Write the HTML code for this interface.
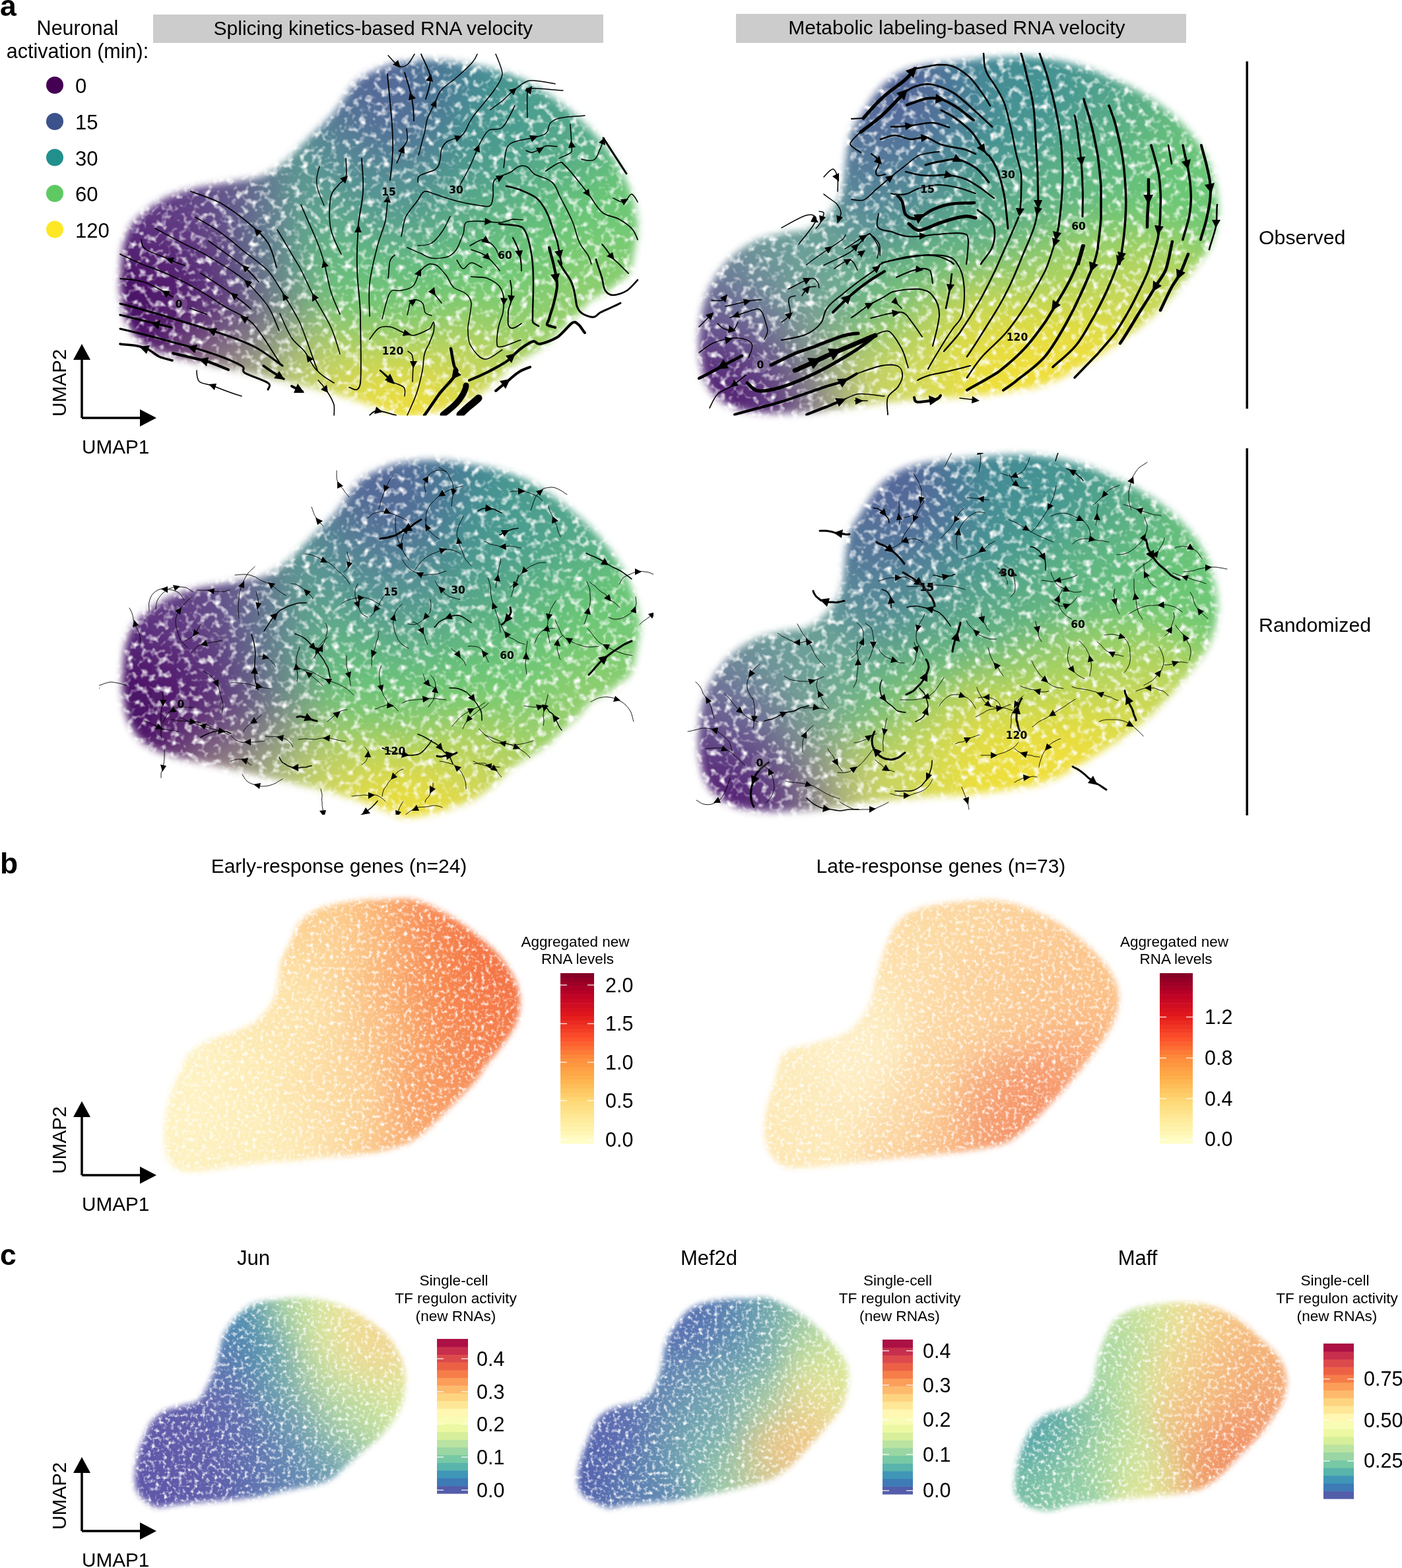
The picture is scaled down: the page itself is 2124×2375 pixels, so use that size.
<!DOCTYPE html>
<html><head><meta charset="utf-8"><style>
html,body{margin:0;padding:0;background:#fff;}
svg{display:block;}
.c22 rect{width:23px;height:23px}
.c20 rect{width:21px;height:21px}
.c16 rect{width:17px;height:17px}
</style></head><body>
<svg width="2124" height="2375" viewBox="0 0 2124 2375" font-family="Liberation Sans, Arial, Helvetica, sans-serif">
<defs><filter id="texA" x="0" y="0" width="100%" height="100%" color-interpolation-filters="sRGB"><feTurbulence type="fractalNoise" baseFrequency="0.09" numOctaves="2" seed="7"/><feColorMatrix type="matrix" values="0 0 0 0 1 0 0 0 0 1 0 0 0 0 1 3.0 0 0 0 -1.5"/><feComposite in2="SourceGraphic" operator="atop"/></filter><filter id="texB" x="0" y="0" width="100%" height="100%" color-interpolation-filters="sRGB"><feTurbulence type="fractalNoise" baseFrequency="0.17" numOctaves="2" seed="3"/><feColorMatrix type="matrix" values="0 0 0 0 1 0 0 0 0 1 0 0 0 0 1 2.8 0 0 0 -1.4"/><feComposite in2="SourceGraphic" operator="atop"/></filter><clipPath id="cA1"><rect x="150" y="80" width="840" height="549.5"/></clipPath><filter id="eA1" x="-10%" y="-10%" width="120%" height="120%"><feGaussianBlur stdDeviation="6"/></filter><mask id="mA1" maskUnits="userSpaceOnUse" x="121" y="29" width="907" height="665"><path d="M183,409C184,396 184,383 187,372C190,361 193,350 199,341C205,332 215,324 224,317C233,310 244,303 255,298C266,293 280,289 292,286C304,283 317,281 329,279C341,277 355,275 366,273C377,271 387,271 397,267C407,263 419,255 428,248C437,241 445,232 453,224C461,216 469,208 478,199C487,190 498,180 508,168C518,156 529,135 539,125C549,115 558,111 570,106C582,101 592,96 608,94C624,92 644,90 663,91C682,92 704,96 725,100C746,104 768,110 787,118C806,126 823,138 840,150C857,162 875,177 890,192C905,207 919,224 930,240C941,256 949,273 955,290C961,307 965,325 966,340C967,355 963,368 961,380C959,392 957,405 953,413C949,421 944,422 938,427C932,432 925,438 918,443C911,448 901,449 894,455C887,461 882,470 874,478C866,486 855,495 847,502C839,509 836,515 827,522C818,529 804,536 795,542C786,548 778,553 771,558C764,563 762,567 756,573C750,579 740,587 732,593C724,599 715,605 706,609C697,613 687,616 677,619C667,622 658,625 647,627C636,629 621,633 610,632C599,631 596,627 583,622C570,617 550,609 533,604C516,599 502,594 484,590C466,586 447,581 428,577C409,573 390,568 372,564C354,560 336,556 317,552C298,548 278,545 261,540C244,535 228,529 217,521C206,513 199,502 193,490C187,478 185,460 183,447C181,434 182,422 183,409Z" fill="#fff" filter="url(#eA1)"/></mask><filter id="fA1" x="-10%" y="-10%" width="120%" height="120%"><feGaussianBlur stdDeviation="11"/></filter><filter id="eA2" x="-10%" y="-10%" width="120%" height="120%"><feGaussianBlur stdDeviation="6"/></filter><mask id="mA2" maskUnits="userSpaceOnUse" x="997" y="25" width="910" height="662"><path d="M1059,526C1058,506 1061,482 1065,464C1069,446 1076,433 1083,421C1090,409 1098,399 1108,390C1118,381 1132,371 1145,365C1158,359 1176,356 1189,353C1202,350 1215,352 1226,347C1237,342 1249,331 1257,322C1265,313 1271,303 1275,291C1279,279 1279,262 1281,248C1283,234 1284,216 1288,204C1292,192 1299,184 1306,173C1313,162 1322,146 1331,136C1340,126 1351,117 1362,111C1373,105 1384,102 1399,99C1414,96 1430,95 1449,93C1468,91 1490,88 1511,87C1532,86 1552,85 1572,87C1592,89 1613,93 1634,99C1655,105 1676,115 1696,124C1716,133 1736,144 1752,155C1768,166 1783,179 1795,192C1807,205 1818,220 1826,235C1834,250 1839,270 1842,285C1845,300 1846,314 1845,328C1844,342 1839,358 1833,372C1827,386 1817,397 1808,409C1799,421 1789,433 1777,446C1765,459 1750,476 1734,489C1718,502 1701,515 1684,526C1667,537 1650,548 1634,557C1618,566 1604,576 1585,582C1566,588 1544,591 1523,594C1502,597 1482,599 1461,601C1440,603 1420,602 1399,604C1378,606 1358,608 1337,610C1316,612 1296,616 1275,619C1254,622 1234,624 1213,625C1192,626 1170,627 1151,625C1132,623 1115,620 1102,613C1089,606 1078,596 1071,582C1064,568 1060,546 1059,526Z" fill="#fff" filter="url(#eA2)"/></mask><filter id="fA2" x="-10%" y="-10%" width="120%" height="120%"><feGaussianBlur stdDeviation="11"/></filter><clipPath id="sA1"><rect x="150" y="80" width="840" height="549.5"/></clipPath><clipPath id="sA2"><rect x="1040" y="80" width="830" height="549.5"/></clipPath><clipPath id="sA3"><rect x="150" y="686" width="840" height="548"/></clipPath><clipPath id="sA4"><rect x="1040" y="686" width="830" height="548"/></clipPath><filter id="eB1" x="-10%" y="-10%" width="120%" height="120%"><feGaussianBlur stdDeviation="4"/></filter><mask id="mB1" maskUnits="userSpaceOnUse" x="189" y="1302" width="659" height="533"><path d="M286,1596C294,1587 307,1580 317,1575C327,1570 338,1569 348,1565C358,1561 369,1558 378,1553C387,1548 393,1543 400,1535C407,1527 414,1517 418,1504C422,1491 421,1471 425,1458C429,1445 435,1437 440,1427C445,1417 447,1405 455,1396C463,1387 473,1380 486,1375C499,1370 517,1367 532,1365C547,1363 562,1362 578,1362C594,1362 610,1359 625,1362C640,1365 656,1373 671,1381C686,1389 703,1401 717,1412C731,1423 746,1435 757,1448C768,1461 777,1476 782,1488C787,1500 788,1509 788,1519C788,1529 786,1540 782,1550C778,1560 770,1571 763,1581C756,1591 746,1602 738,1612C730,1622 726,1632 717,1642C708,1652 696,1663 686,1673C676,1683 665,1695 655,1704C645,1713 638,1721 625,1728C612,1735 594,1740 578,1744C562,1748 547,1748 532,1750C517,1752 501,1752 486,1753C471,1754 455,1758 440,1759C425,1760 409,1760 394,1762C379,1764 363,1766 348,1768C333,1770 315,1774 302,1775C289,1776 279,1776 271,1772C263,1768 256,1761 252,1750C248,1739 248,1719 249,1704C250,1689 254,1671 258,1658C262,1645 266,1637 271,1627C276,1617 278,1605 286,1596Z" fill="#fff" filter="url(#eB1)"/></mask><filter id="fB1" x="-10%" y="-10%" width="120%" height="120%"><feGaussianBlur stdDeviation="10"/></filter><filter id="eB2" x="-10%" y="-10%" width="120%" height="120%"><feGaussianBlur stdDeviation="4"/></filter><mask id="mB2" maskUnits="userSpaceOnUse" x="1099" y="1305" width="655" height="522"><path d="M1188,1595C1199,1584 1220,1584 1236,1579C1252,1574 1270,1572 1283,1563C1296,1554 1307,1541 1315,1525C1323,1509 1326,1484 1331,1467C1336,1450 1342,1432 1347,1420C1352,1408 1355,1402 1363,1394C1371,1386 1379,1380 1395,1375C1411,1370 1438,1367 1459,1365C1480,1363 1501,1361 1522,1365C1543,1369 1567,1379 1586,1388C1605,1397 1619,1408 1634,1420C1649,1432 1665,1448 1675,1461C1685,1474 1691,1486 1694,1499C1697,1512 1694,1526 1691,1538C1688,1550 1682,1558 1675,1569C1668,1580 1660,1592 1650,1604C1640,1616 1629,1631 1618,1643C1607,1655 1597,1667 1586,1678C1575,1689 1565,1701 1554,1710C1543,1719 1535,1727 1522,1732C1509,1737 1491,1739 1475,1742C1459,1745 1446,1746 1427,1748C1408,1750 1384,1752 1363,1754C1342,1756 1320,1759 1299,1761C1278,1763 1254,1766 1236,1767C1218,1768 1200,1772 1188,1767C1176,1762 1167,1751 1162,1738C1157,1725 1157,1707 1159,1691C1161,1675 1167,1659 1172,1643C1177,1627 1177,1606 1188,1595Z" fill="#fff" filter="url(#eB2)"/></mask><filter id="fB2" x="-10%" y="-10%" width="120%" height="120%"><feGaussianBlur stdDeviation="10"/></filter><filter id="eC1" x="-10%" y="-10%" width="120%" height="120%"><feGaussianBlur stdDeviation="4"/></filter><mask id="mC1" maskUnits="userSpaceOnUse" x="148" y="1910" width="521" height="429"><path d="M204,2241C204,2232 206,2217 208,2206C210,2195 215,2184 219,2175C223,2166 226,2158 231,2152C236,2146 242,2141 250,2137C258,2133 269,2132 277,2129C285,2126 294,2127 300,2122C306,2117 310,2107 315,2098C320,2089 323,2080 327,2068C331,2056 333,2037 338,2025C343,2013 350,2003 358,1995C366,1987 374,1980 385,1975C396,1970 410,1970 423,1968C436,1966 449,1965 462,1966C475,1967 487,1968 500,1972C513,1976 525,1980 538,1987C551,1994 567,2005 577,2014C587,2023 594,2031 600,2041C606,2051 611,2063 613,2075C615,2087 614,2102 612,2114C610,2126 606,2135 600,2145C594,2155 585,2166 577,2175C569,2184 558,2191 550,2198C542,2205 535,2211 527,2218C519,2225 511,2235 500,2241C489,2247 475,2249 462,2252C449,2255 436,2257 423,2260C410,2263 398,2266 385,2268C372,2270 359,2271 346,2272C333,2273 321,2274 308,2275C295,2276 281,2278 269,2279C257,2280 246,2284 238,2283C230,2282 224,2276 219,2272C214,2268 210,2265 208,2260C206,2255 204,2250 204,2241Z" fill="#fff" filter="url(#eC1)"/></mask><filter id="fC1" x="-10%" y="-10%" width="120%" height="120%"><feGaussianBlur stdDeviation="8"/></filter><filter id="eC2" x="-10%" y="-10%" width="120%" height="120%"><feGaussianBlur stdDeviation="4"/></filter><mask id="mC2" maskUnits="userSpaceOnUse" x="819" y="1911" width="522" height="429"><path d="M875,2239C875,2230 878,2217 881,2206C884,2195 890,2183 894,2173C898,2163 900,2155 906,2148C912,2141 921,2136 931,2132C941,2128 954,2128 964,2124C974,2120 982,2115 988,2107C994,2099 998,2086 1001,2074C1004,2062 1005,2045 1009,2033C1013,2021 1019,2013 1026,2004C1033,1995 1039,1986 1050,1980C1061,1974 1077,1971 1091,1969C1105,1967 1120,1967 1133,1967C1146,1967 1152,1963 1166,1967C1180,1971 1200,1982 1215,1992C1230,2002 1245,2017 1256,2029C1267,2041 1276,2051 1281,2062C1286,2073 1286,2084 1285,2095C1284,2106 1282,2117 1277,2128C1272,2139 1260,2151 1252,2161C1244,2171 1236,2180 1227,2190C1218,2200 1206,2214 1195,2223C1184,2232 1176,2238 1162,2243C1148,2248 1127,2252 1112,2256C1097,2260 1085,2261 1071,2264C1057,2267 1044,2270 1030,2272C1016,2274 1002,2275 988,2276C974,2277 958,2279 947,2280C936,2281 932,2285 923,2284C914,2283 901,2276 894,2272C887,2268 882,2266 879,2260C876,2254 875,2248 875,2239Z" fill="#fff" filter="url(#eC2)"/></mask><filter id="fC2" x="-10%" y="-10%" width="120%" height="120%"><feGaussianBlur stdDeviation="8"/></filter><filter id="eC3" x="-10%" y="-10%" width="120%" height="120%"><feGaussianBlur stdDeviation="4"/></filter><mask id="mC3" maskUnits="userSpaceOnUse" x="1481" y="1917" width="524" height="427"><path d="M1537,2254C1537,2245 1539,2229 1541,2218C1543,2207 1547,2196 1551,2186C1555,2176 1561,2165 1567,2158C1573,2151 1579,2146 1587,2142C1595,2138 1606,2137 1615,2134C1624,2131 1632,2129 1639,2123C1646,2117 1651,2110 1655,2099C1659,2088 1660,2071 1663,2059C1666,2047 1670,2037 1674,2027C1678,2017 1683,2006 1690,1999C1697,1992 1707,1987 1718,1983C1729,1979 1745,1977 1758,1975C1771,1973 1785,1972 1798,1973C1811,1974 1825,1975 1838,1979C1851,1983 1865,1991 1877,1999C1889,2007 1899,2018 1909,2027C1919,2036 1930,2045 1937,2055C1944,2065 1948,2076 1949,2087C1950,2098 1948,2109 1945,2119C1942,2129 1936,2136 1929,2146C1922,2156 1914,2168 1905,2178C1896,2188 1886,2197 1877,2206C1868,2215 1859,2226 1850,2234C1841,2242 1832,2249 1822,2254C1812,2259 1802,2260 1790,2262C1778,2264 1763,2265 1750,2266C1737,2267 1723,2269 1710,2270C1697,2271 1683,2273 1670,2274C1657,2275 1644,2276 1631,2278C1618,2280 1603,2287 1591,2288C1579,2289 1567,2285 1559,2282C1551,2279 1547,2275 1543,2270C1539,2265 1537,2263 1537,2254Z" fill="#fff" filter="url(#eC3)"/></mask><filter id="fC3" x="-10%" y="-10%" width="120%" height="120%"><feGaussianBlur stdDeviation="8"/></filter></defs>
<rect width="2124" height="2375" fill="#fff"/>
<g clip-path="url(#cA1)"><g id="bA1" mask="url(#mA1)"><g filter="url(#texA)"><g filter="url(#fA1)" class="c22"><rect x="557" y="69" fill="#536998"/><rect x="579" y="69" fill="#526b98"/><rect x="601" y="69" fill="#516e98"/><rect x="623" y="69" fill="#507298"/><rect x="645" y="69" fill="#4e7797"/><rect x="667" y="69" fill="#4c7b97"/><rect x="689" y="69" fill="#4a8096"/><rect x="711" y="69" fill="#488595"/><rect x="733" y="69" fill="#478b94"/><rect x="755" y="69" fill="#489293"/><rect x="513" y="91" fill="#556c98"/><rect x="535" y="91" fill="#546a98"/><rect x="557" y="91" fill="#546a98"/><rect x="579" y="91" fill="#536b98"/><rect x="601" y="91" fill="#526e98"/><rect x="623" y="91" fill="#507298"/><rect x="645" y="91" fill="#4e7797"/><rect x="667" y="91" fill="#4c7c96"/><rect x="689" y="91" fill="#498296"/><rect x="711" y="91" fill="#478895"/><rect x="733" y="91" fill="#478e93"/><rect x="755" y="91" fill="#489592"/><rect x="777" y="91" fill="#4a9a91"/><rect x="799" y="91" fill="#4c9d8f"/><rect x="491" y="113" fill="#557097"/><rect x="513" y="113" fill="#556e98"/><rect x="535" y="113" fill="#546c98"/><rect x="557" y="113" fill="#546b98"/><rect x="579" y="113" fill="#536b98"/><rect x="601" y="113" fill="#526d98"/><rect x="623" y="113" fill="#507198"/><rect x="645" y="113" fill="#4e7797"/><rect x="667" y="113" fill="#4b7e96"/><rect x="689" y="113" fill="#488595"/><rect x="711" y="113" fill="#478b94"/><rect x="733" y="113" fill="#479193"/><rect x="755" y="113" fill="#489791"/><rect x="777" y="113" fill="#4b9b90"/><rect x="799" y="113" fill="#4d9e8f"/><rect x="821" y="113" fill="#4ea08e"/><rect x="843" y="113" fill="#4fa28e"/><rect x="491" y="135" fill="#557397"/><rect x="513" y="135" fill="#557097"/><rect x="535" y="135" fill="#556e98"/><rect x="557" y="135" fill="#546c98"/><rect x="579" y="135" fill="#536c98"/><rect x="601" y="135" fill="#526d98"/><rect x="623" y="135" fill="#507198"/><rect x="645" y="135" fill="#4e7897"/><rect x="667" y="135" fill="#4b7f96"/><rect x="689" y="135" fill="#488794"/><rect x="711" y="135" fill="#478e93"/><rect x="733" y="135" fill="#479492"/><rect x="755" y="135" fill="#499991"/><rect x="777" y="135" fill="#4b9c90"/><rect x="799" y="135" fill="#4d9f8f"/><rect x="821" y="135" fill="#4fa18e"/><rect x="843" y="135" fill="#50a38d"/><rect x="865" y="135" fill="#51a58c"/><rect x="469" y="157" fill="#567b96"/><rect x="491" y="157" fill="#567797"/><rect x="513" y="157" fill="#557497"/><rect x="535" y="157" fill="#557197"/><rect x="557" y="157" fill="#546f98"/><rect x="579" y="157" fill="#536e98"/><rect x="601" y="157" fill="#526f98"/><rect x="623" y="157" fill="#507397"/><rect x="645" y="157" fill="#4e7a96"/><rect x="667" y="157" fill="#4b8295"/><rect x="689" y="157" fill="#488b94"/><rect x="711" y="157" fill="#479192"/><rect x="733" y="157" fill="#489691"/><rect x="755" y="157" fill="#4a9a90"/><rect x="777" y="157" fill="#4c9d8f"/><rect x="799" y="157" fill="#4ea08e"/><rect x="821" y="157" fill="#4fa28d"/><rect x="843" y="157" fill="#51a58c"/><rect x="865" y="157" fill="#53a78b"/><rect x="887" y="157" fill="#54a98a"/><rect x="447" y="179" fill="#588795"/><rect x="469" y="179" fill="#578295"/><rect x="491" y="179" fill="#567e96"/><rect x="513" y="179" fill="#567a96"/><rect x="535" y="179" fill="#557697"/><rect x="557" y="179" fill="#547397"/><rect x="579" y="179" fill="#537298"/><rect x="601" y="179" fill="#527397"/><rect x="623" y="179" fill="#517797"/><rect x="645" y="179" fill="#4e7d96"/><rect x="667" y="179" fill="#4c8694"/><rect x="689" y="179" fill="#498e93"/><rect x="711" y="179" fill="#499491"/><rect x="733" y="179" fill="#499890"/><rect x="755" y="179" fill="#4b9b8f"/><rect x="777" y="179" fill="#4c9e8f"/><rect x="799" y="179" fill="#4fa18d"/><rect x="821" y="179" fill="#51a48c"/><rect x="843" y="179" fill="#52a78b"/><rect x="865" y="179" fill="#54a98a"/><rect x="887" y="179" fill="#55ab89"/><rect x="909" y="179" fill="#56ac88"/><rect x="425" y="201" fill="#5c8e93"/><rect x="447" y="201" fill="#5a8d94"/><rect x="469" y="201" fill="#588994"/><rect x="491" y="201" fill="#578595"/><rect x="513" y="201" fill="#568096"/><rect x="535" y="201" fill="#557d96"/><rect x="557" y="201" fill="#547a97"/><rect x="579" y="201" fill="#537997"/><rect x="601" y="201" fill="#527a97"/><rect x="623" y="201" fill="#517d96"/><rect x="645" y="201" fill="#4f8395"/><rect x="667" y="201" fill="#4d8b93"/><rect x="689" y="201" fill="#4b9291"/><rect x="711" y="201" fill="#4a9790"/><rect x="733" y="201" fill="#4b9a8f"/><rect x="755" y="201" fill="#4c9d8e"/><rect x="777" y="201" fill="#4ea08d"/><rect x="799" y="201" fill="#50a38c"/><rect x="821" y="201" fill="#52a78b"/><rect x="843" y="201" fill="#54a989"/><rect x="865" y="201" fill="#56ab88"/><rect x="887" y="201" fill="#57ad87"/><rect x="909" y="201" fill="#59b085"/><rect x="931" y="201" fill="#5bb284"/><rect x="381" y="223" fill="#637590"/><rect x="403" y="223" fill="#608492"/><rect x="425" y="223" fill="#5d8f92"/><rect x="447" y="223" fill="#5b9293"/><rect x="469" y="223" fill="#598f94"/><rect x="491" y="223" fill="#588b94"/><rect x="513" y="223" fill="#578795"/><rect x="535" y="223" fill="#558495"/><rect x="557" y="223" fill="#548296"/><rect x="579" y="223" fill="#538196"/><rect x="601" y="223" fill="#538295"/><rect x="623" y="223" fill="#528595"/><rect x="645" y="223" fill="#508993"/><rect x="667" y="223" fill="#4e8f92"/><rect x="689" y="223" fill="#4d9590"/><rect x="711" y="223" fill="#4d9a8f"/><rect x="733" y="223" fill="#4d9d8e"/><rect x="755" y="223" fill="#4ea08d"/><rect x="777" y="223" fill="#50a38c"/><rect x="799" y="223" fill="#53a78a"/><rect x="821" y="223" fill="#55aa88"/><rect x="843" y="223" fill="#57ad87"/><rect x="865" y="223" fill="#58af86"/><rect x="887" y="223" fill="#5ab284"/><rect x="909" y="223" fill="#5db582"/><rect x="931" y="223" fill="#60b97f"/><rect x="271" y="245" fill="#644889"/><rect x="293" y="245" fill="#654e8b"/><rect x="315" y="245" fill="#65548c"/><rect x="337" y="245" fill="#655c8e"/><rect x="359" y="245" fill="#65668f"/><rect x="381" y="245" fill="#637390"/><rect x="403" y="245" fill="#618291"/><rect x="425" y="245" fill="#5e8f92"/><rect x="447" y="245" fill="#5c9592"/><rect x="469" y="245" fill="#5a9593"/><rect x="491" y="245" fill="#599293"/><rect x="513" y="245" fill="#578e94"/><rect x="535" y="245" fill="#568c94"/><rect x="557" y="245" fill="#558a95"/><rect x="579" y="245" fill="#548995"/><rect x="601" y="245" fill="#538a94"/><rect x="623" y="245" fill="#528c93"/><rect x="645" y="245" fill="#518f92"/><rect x="667" y="245" fill="#509490"/><rect x="689" y="245" fill="#50998e"/><rect x="711" y="245" fill="#509e8d"/><rect x="733" y="245" fill="#50a18c"/><rect x="755" y="245" fill="#52a48b"/><rect x="777" y="245" fill="#54a889"/><rect x="799" y="245" fill="#56ab87"/><rect x="821" y="245" fill="#58af86"/><rect x="843" y="245" fill="#5ab284"/><rect x="865" y="245" fill="#5db582"/><rect x="887" y="245" fill="#5fb880"/><rect x="909" y="245" fill="#62bc7d"/><rect x="931" y="245" fill="#65c07b"/><rect x="953" y="245" fill="#67c379"/><rect x="227" y="267" fill="#613e85"/><rect x="249" y="267" fill="#624187"/><rect x="271" y="267" fill="#634688"/><rect x="293" y="267" fill="#644c8a"/><rect x="315" y="267" fill="#65538c"/><rect x="337" y="267" fill="#655c8d"/><rect x="359" y="267" fill="#65668f"/><rect x="381" y="267" fill="#647290"/><rect x="403" y="267" fill="#628191"/><rect x="425" y="267" fill="#5f8f91"/><rect x="447" y="267" fill="#5d9791"/><rect x="469" y="267" fill="#5c9991"/><rect x="491" y="267" fill="#5a9892"/><rect x="513" y="267" fill="#589592"/><rect x="535" y="267" fill="#579293"/><rect x="557" y="267" fill="#569193"/><rect x="579" y="267" fill="#559093"/><rect x="601" y="267" fill="#549193"/><rect x="623" y="267" fill="#549292"/><rect x="645" y="267" fill="#539590"/><rect x="667" y="267" fill="#539a8e"/><rect x="689" y="267" fill="#539f8c"/><rect x="711" y="267" fill="#54a38b"/><rect x="733" y="267" fill="#55a689"/><rect x="755" y="267" fill="#56aa88"/><rect x="777" y="267" fill="#58ad86"/><rect x="799" y="267" fill="#5ab084"/><rect x="821" y="267" fill="#5cb482"/><rect x="843" y="267" fill="#5fb780"/><rect x="865" y="267" fill="#61bb7e"/><rect x="887" y="267" fill="#64be7b"/><rect x="909" y="267" fill="#67c279"/><rect x="931" y="267" fill="#69c477"/><rect x="953" y="267" fill="#6ac676"/><rect x="205" y="289" fill="#5f3983"/><rect x="227" y="289" fill="#603c84"/><rect x="249" y="289" fill="#623f85"/><rect x="271" y="289" fill="#634487"/><rect x="293" y="289" fill="#644a89"/><rect x="315" y="289" fill="#64528b"/><rect x="337" y="289" fill="#655b8d"/><rect x="359" y="289" fill="#65668f"/><rect x="381" y="289" fill="#647290"/><rect x="403" y="289" fill="#628190"/><rect x="425" y="289" fill="#608f90"/><rect x="447" y="289" fill="#5e9990"/><rect x="469" y="289" fill="#5d9e90"/><rect x="491" y="289" fill="#5c9e90"/><rect x="513" y="289" fill="#5a9b90"/><rect x="535" y="289" fill="#589991"/><rect x="557" y="289" fill="#579792"/><rect x="579" y="289" fill="#569791"/><rect x="601" y="289" fill="#569791"/><rect x="623" y="289" fill="#559990"/><rect x="645" y="289" fill="#569c8e"/><rect x="667" y="289" fill="#56a08c"/><rect x="689" y="289" fill="#57a58a"/><rect x="711" y="289" fill="#58a988"/><rect x="733" y="289" fill="#59ac86"/><rect x="755" y="289" fill="#5baf85"/><rect x="777" y="289" fill="#5cb283"/><rect x="799" y="289" fill="#5eb681"/><rect x="821" y="289" fill="#60b97f"/><rect x="843" y="289" fill="#63bd7d"/><rect x="865" y="289" fill="#65c07a"/><rect x="887" y="289" fill="#68c378"/><rect x="909" y="289" fill="#6ac577"/><rect x="931" y="289" fill="#6bc776"/><rect x="953" y="289" fill="#6cc875"/><rect x="975" y="289" fill="#6dc875"/><rect x="183" y="311" fill="#5d3480"/><rect x="205" y="311" fill="#5e3681"/><rect x="227" y="311" fill="#603882"/><rect x="249" y="311" fill="#613c84"/><rect x="271" y="311" fill="#624085"/><rect x="293" y="311" fill="#634687"/><rect x="315" y="311" fill="#644f89"/><rect x="337" y="311" fill="#645a8c"/><rect x="359" y="311" fill="#64668e"/><rect x="381" y="311" fill="#64738f"/><rect x="403" y="311" fill="#638190"/><rect x="425" y="311" fill="#619090"/><rect x="447" y="311" fill="#609c8e"/><rect x="469" y="311" fill="#5fa38d"/><rect x="491" y="311" fill="#5ea48d"/><rect x="513" y="311" fill="#5ca38d"/><rect x="535" y="311" fill="#5aa08e"/><rect x="557" y="311" fill="#599e8f"/><rect x="579" y="311" fill="#589d8f"/><rect x="601" y="311" fill="#589e8e"/><rect x="623" y="311" fill="#58a08d"/><rect x="645" y="311" fill="#58a38b"/><rect x="667" y="311" fill="#59a789"/><rect x="689" y="311" fill="#5bab87"/><rect x="711" y="311" fill="#5caf85"/><rect x="733" y="311" fill="#5db283"/><rect x="755" y="311" fill="#5fb482"/><rect x="777" y="311" fill="#60b780"/><rect x="799" y="311" fill="#62ba7e"/><rect x="821" y="311" fill="#64be7c"/><rect x="843" y="311" fill="#67c17a"/><rect x="865" y="311" fill="#69c478"/><rect x="887" y="311" fill="#6bc676"/><rect x="909" y="311" fill="#6dc775"/><rect x="931" y="311" fill="#6ec875"/><rect x="953" y="311" fill="#6fc874"/><rect x="975" y="311" fill="#6fc974"/><rect x="161" y="333" fill="#592c7a"/><rect x="183" y="333" fill="#5b2f7c"/><rect x="205" y="333" fill="#5c317e"/><rect x="227" y="333" fill="#5e347f"/><rect x="249" y="333" fill="#5f3781"/><rect x="271" y="333" fill="#613b83"/><rect x="293" y="333" fill="#624285"/><rect x="315" y="333" fill="#634b87"/><rect x="337" y="333" fill="#64578a"/><rect x="359" y="333" fill="#64668d"/><rect x="381" y="333" fill="#64748f"/><rect x="403" y="333" fill="#63828f"/><rect x="425" y="333" fill="#62918f"/><rect x="447" y="333" fill="#619e8d"/><rect x="469" y="333" fill="#61a78b"/><rect x="491" y="333" fill="#60ab8a"/><rect x="513" y="333" fill="#5fab8a"/><rect x="535" y="333" fill="#5da88a"/><rect x="557" y="333" fill="#5ca68b"/><rect x="579" y="333" fill="#5ba58b"/><rect x="601" y="333" fill="#5aa58b"/><rect x="623" y="333" fill="#5ba78a"/><rect x="645" y="333" fill="#5baa88"/><rect x="667" y="333" fill="#5dad86"/><rect x="689" y="333" fill="#5eb184"/><rect x="711" y="333" fill="#60b482"/><rect x="733" y="333" fill="#61b780"/><rect x="755" y="333" fill="#62b97f"/><rect x="777" y="333" fill="#64bc7d"/><rect x="799" y="333" fill="#65bf7b"/><rect x="821" y="333" fill="#68c179"/><rect x="843" y="333" fill="#6bc477"/><rect x="865" y="333" fill="#6dc676"/><rect x="887" y="333" fill="#70c875"/><rect x="909" y="333" fill="#71c974"/><rect x="931" y="333" fill="#72c974"/><rect x="953" y="333" fill="#73c974"/><rect x="975" y="333" fill="#73c974"/><rect x="161" y="355" fill="#542473"/><rect x="183" y="355" fill="#572776"/><rect x="205" y="355" fill="#592b79"/><rect x="227" y="355" fill="#5b2e7b"/><rect x="249" y="355" fill="#5d317d"/><rect x="271" y="355" fill="#5f367f"/><rect x="293" y="355" fill="#603c81"/><rect x="315" y="355" fill="#624684"/><rect x="337" y="355" fill="#635388"/><rect x="359" y="355" fill="#63648b"/><rect x="381" y="355" fill="#64748d"/><rect x="403" y="355" fill="#64838e"/><rect x="425" y="355" fill="#63928d"/><rect x="447" y="355" fill="#63a18b"/><rect x="469" y="355" fill="#63ac88"/><rect x="491" y="355" fill="#63b186"/><rect x="513" y="355" fill="#62b285"/><rect x="535" y="355" fill="#61b186"/><rect x="557" y="355" fill="#60af86"/><rect x="579" y="355" fill="#5fae87"/><rect x="601" y="355" fill="#5eae87"/><rect x="623" y="355" fill="#5eaf86"/><rect x="645" y="355" fill="#5fb184"/><rect x="667" y="355" fill="#61b582"/><rect x="689" y="355" fill="#62b880"/><rect x="711" y="355" fill="#63ba7e"/><rect x="733" y="355" fill="#65bc7d"/><rect x="755" y="355" fill="#66be7c"/><rect x="777" y="355" fill="#67c07a"/><rect x="799" y="355" fill="#6ac378"/><rect x="821" y="355" fill="#6dc577"/><rect x="843" y="355" fill="#70c775"/><rect x="865" y="355" fill="#73c874"/><rect x="887" y="355" fill="#76ca73"/><rect x="909" y="355" fill="#77ca73"/><rect x="931" y="355" fill="#78ca73"/><rect x="953" y="355" fill="#78ca73"/><rect x="975" y="355" fill="#78ca73"/><rect x="161" y="377" fill="#501d6e"/><rect x="183" y="377" fill="#532070"/><rect x="205" y="377" fill="#552373"/><rect x="227" y="377" fill="#582775"/><rect x="249" y="377" fill="#5a2b78"/><rect x="271" y="377" fill="#5c307b"/><rect x="293" y="377" fill="#5e377e"/><rect x="315" y="377" fill="#604181"/><rect x="337" y="377" fill="#624f85"/><rect x="359" y="377" fill="#636088"/><rect x="381" y="377" fill="#64728b"/><rect x="403" y="377" fill="#65828d"/><rect x="425" y="377" fill="#65928c"/><rect x="447" y="377" fill="#65a289"/><rect x="469" y="377" fill="#65af85"/><rect x="491" y="377" fill="#65b682"/><rect x="513" y="377" fill="#65b881"/><rect x="535" y="377" fill="#65b881"/><rect x="557" y="377" fill="#64b782"/><rect x="579" y="377" fill="#63b682"/><rect x="601" y="377" fill="#63b682"/><rect x="623" y="377" fill="#63b781"/><rect x="645" y="377" fill="#64b97f"/><rect x="667" y="377" fill="#65bc7d"/><rect x="689" y="377" fill="#66be7c"/><rect x="711" y="377" fill="#67c07a"/><rect x="733" y="377" fill="#68c179"/><rect x="755" y="377" fill="#6ac378"/><rect x="777" y="377" fill="#6cc477"/><rect x="799" y="377" fill="#6fc676"/><rect x="821" y="377" fill="#73c875"/><rect x="843" y="377" fill="#77c973"/><rect x="865" y="377" fill="#7bcb72"/><rect x="887" y="377" fill="#7dcb72"/><rect x="909" y="377" fill="#7ecc71"/><rect x="931" y="377" fill="#7ecc71"/><rect x="953" y="377" fill="#7ecc71"/><rect x="975" y="377" fill="#7dcb72"/><rect x="161" y="399" fill="#4d196a"/><rect x="183" y="399" fill="#4f1b6c"/><rect x="205" y="399" fill="#511d6e"/><rect x="227" y="399" fill="#542070"/><rect x="249" y="399" fill="#562473"/><rect x="271" y="399" fill="#592977"/><rect x="293" y="399" fill="#5c317a"/><rect x="315" y="399" fill="#5f3c7f"/><rect x="337" y="399" fill="#624b83"/><rect x="359" y="399" fill="#645d86"/><rect x="381" y="399" fill="#666f89"/><rect x="403" y="399" fill="#67818b"/><rect x="425" y="399" fill="#68928a"/><rect x="447" y="399" fill="#69a387"/><rect x="469" y="399" fill="#69b182"/><rect x="491" y="399" fill="#68b97f"/><rect x="513" y="399" fill="#68bc7e"/><rect x="535" y="399" fill="#68bd7d"/><rect x="557" y="399" fill="#68bd7d"/><rect x="579" y="399" fill="#68bd7d"/><rect x="601" y="399" fill="#68bd7d"/><rect x="623" y="399" fill="#68be7c"/><rect x="645" y="399" fill="#69bf7b"/><rect x="667" y="399" fill="#6ac179"/><rect x="689" y="399" fill="#6bc378"/><rect x="711" y="399" fill="#6cc577"/><rect x="733" y="399" fill="#6dc676"/><rect x="755" y="399" fill="#6fc776"/><rect x="777" y="399" fill="#71c875"/><rect x="799" y="399" fill="#75c974"/><rect x="821" y="399" fill="#7aca73"/><rect x="843" y="399" fill="#7fcb72"/><rect x="865" y="399" fill="#83cc71"/><rect x="887" y="399" fill="#85cd70"/><rect x="909" y="399" fill="#85cd70"/><rect x="931" y="399" fill="#85cd70"/><rect x="953" y="399" fill="#84cd70"/><rect x="975" y="399" fill="#83cd70"/><rect x="161" y="421" fill="#4b1667"/><rect x="183" y="421" fill="#4d1769"/><rect x="205" y="421" fill="#4f196b"/><rect x="227" y="421" fill="#511c6d"/><rect x="249" y="421" fill="#541f70"/><rect x="271" y="421" fill="#572573"/><rect x="293" y="421" fill="#5b2e78"/><rect x="315" y="421" fill="#5f3a7d"/><rect x="337" y="421" fill="#624981"/><rect x="359" y="421" fill="#655a85"/><rect x="381" y="421" fill="#686d87"/><rect x="403" y="421" fill="#6b8089"/><rect x="425" y="421" fill="#6d9288"/><rect x="447" y="421" fill="#6ea385"/><rect x="469" y="421" fill="#6eb380"/><rect x="491" y="421" fill="#6dbc7c"/><rect x="513" y="421" fill="#6dc07a"/><rect x="535" y="421" fill="#6dc17a"/><rect x="557" y="421" fill="#6dc179"/><rect x="579" y="421" fill="#6ec279"/><rect x="601" y="421" fill="#6ec279"/><rect x="623" y="421" fill="#6fc378"/><rect x="645" y="421" fill="#70c477"/><rect x="667" y="421" fill="#71c676"/><rect x="689" y="421" fill="#73c774"/><rect x="711" y="421" fill="#74c874"/><rect x="733" y="421" fill="#75c973"/><rect x="755" y="421" fill="#76c973"/><rect x="777" y="421" fill="#78ca73"/><rect x="799" y="421" fill="#7dcb72"/><rect x="821" y="421" fill="#82cc71"/><rect x="843" y="421" fill="#87cd70"/><rect x="865" y="421" fill="#8ace70"/><rect x="887" y="421" fill="#8bce6f"/><rect x="909" y="421" fill="#8bce6f"/><rect x="931" y="421" fill="#8bce6f"/><rect x="953" y="421" fill="#8ace6f"/><rect x="161" y="443" fill="#4a1466"/><rect x="183" y="443" fill="#4c1567"/><rect x="205" y="443" fill="#4d1769"/><rect x="227" y="443" fill="#501a6b"/><rect x="249" y="443" fill="#531e6e"/><rect x="271" y="443" fill="#572572"/><rect x="293" y="443" fill="#5c2f77"/><rect x="315" y="443" fill="#613b7c"/><rect x="337" y="443" fill="#654a80"/><rect x="359" y="443" fill="#695b83"/><rect x="381" y="443" fill="#6d6e86"/><rect x="403" y="443" fill="#718187"/><rect x="425" y="443" fill="#759486"/><rect x="447" y="443" fill="#78a582"/><rect x="469" y="443" fill="#78b57d"/><rect x="491" y="443" fill="#77bf79"/><rect x="513" y="443" fill="#75c377"/><rect x="535" y="443" fill="#75c476"/><rect x="557" y="443" fill="#75c575"/><rect x="579" y="443" fill="#76c575"/><rect x="601" y="443" fill="#77c675"/><rect x="623" y="443" fill="#78c774"/><rect x="645" y="443" fill="#7ac873"/><rect x="667" y="443" fill="#7dc972"/><rect x="689" y="443" fill="#7fca70"/><rect x="711" y="443" fill="#81cb70"/><rect x="733" y="443" fill="#80cb70"/><rect x="755" y="443" fill="#80cb70"/><rect x="777" y="443" fill="#82cb70"/><rect x="799" y="443" fill="#86cc70"/><rect x="821" y="443" fill="#8acd6f"/><rect x="843" y="443" fill="#8ece6f"/><rect x="865" y="443" fill="#90cf6f"/><rect x="887" y="443" fill="#90cf6e"/><rect x="909" y="443" fill="#90cf6e"/><rect x="931" y="443" fill="#90cf6e"/><rect x="161" y="465" fill="#4a1465"/><rect x="183" y="465" fill="#4b1567"/><rect x="205" y="465" fill="#4e1769"/><rect x="227" y="465" fill="#511b6b"/><rect x="249" y="465" fill="#55216f"/><rect x="271" y="465" fill="#5b2a73"/><rect x="293" y="465" fill="#613578"/><rect x="315" y="465" fill="#67427c"/><rect x="337" y="465" fill="#6b5180"/><rect x="359" y="465" fill="#706183"/><rect x="381" y="465" fill="#757484"/><rect x="403" y="465" fill="#7a8784"/><rect x="425" y="465" fill="#809983"/><rect x="447" y="465" fill="#85aa7f"/><rect x="469" y="465" fill="#87b87a"/><rect x="491" y="465" fill="#86c275"/><rect x="513" y="465" fill="#83c672"/><rect x="535" y="465" fill="#82c771"/><rect x="557" y="465" fill="#82c871"/><rect x="579" y="465" fill="#83c970"/><rect x="601" y="465" fill="#84c970"/><rect x="623" y="465" fill="#86ca6f"/><rect x="645" y="465" fill="#89cb6e"/><rect x="667" y="465" fill="#8ecc6d"/><rect x="689" y="465" fill="#91cd6c"/><rect x="711" y="465" fill="#91cd6b"/><rect x="733" y="465" fill="#8fcd6c"/><rect x="755" y="465" fill="#8dcd6d"/><rect x="777" y="465" fill="#8dcd6e"/><rect x="799" y="465" fill="#8fce6e"/><rect x="821" y="465" fill="#92ce6e"/><rect x="843" y="465" fill="#94cf6e"/><rect x="865" y="465" fill="#95cf6e"/><rect x="887" y="465" fill="#94d06e"/><rect x="909" y="465" fill="#94d06e"/><rect x="161" y="487" fill="#4a1466"/><rect x="183" y="487" fill="#4c1667"/><rect x="205" y="487" fill="#4f196a"/><rect x="227" y="487" fill="#541f6d"/><rect x="249" y="487" fill="#5a2871"/><rect x="271" y="487" fill="#623475"/><rect x="293" y="487" fill="#69417a"/><rect x="315" y="487" fill="#704f7e"/><rect x="337" y="487" fill="#755d81"/><rect x="359" y="487" fill="#7a6d83"/><rect x="381" y="487" fill="#7f7e83"/><rect x="403" y="487" fill="#859082"/><rect x="425" y="487" fill="#8ca180"/><rect x="447" y="487" fill="#93b17b"/><rect x="469" y="487" fill="#98be75"/><rect x="491" y="487" fill="#99c670"/><rect x="513" y="487" fill="#97ca6d"/><rect x="535" y="487" fill="#95cb6b"/><rect x="557" y="487" fill="#95cb6a"/><rect x="579" y="487" fill="#95cc6a"/><rect x="601" y="487" fill="#96cd6a"/><rect x="623" y="487" fill="#98cd69"/><rect x="645" y="487" fill="#9cce68"/><rect x="667" y="487" fill="#a1cf67"/><rect x="689" y="487" fill="#a3d066"/><rect x="711" y="487" fill="#a2d067"/><rect x="733" y="487" fill="#9fcf68"/><rect x="755" y="487" fill="#9bcf69"/><rect x="777" y="487" fill="#98cf6b"/><rect x="799" y="487" fill="#98cf6c"/><rect x="821" y="487" fill="#98cf6c"/><rect x="843" y="487" fill="#99d06d"/><rect x="865" y="487" fill="#99d06d"/><rect x="887" y="487" fill="#98d06d"/><rect x="183" y="509" fill="#4e1869"/><rect x="205" y="509" fill="#531e6b"/><rect x="227" y="509" fill="#5a276f"/><rect x="249" y="509" fill="#623374"/><rect x="271" y="509" fill="#6c4379"/><rect x="293" y="509" fill="#75527d"/><rect x="315" y="509" fill="#7c6080"/><rect x="337" y="509" fill="#816d82"/><rect x="359" y="509" fill="#857b83"/><rect x="381" y="509" fill="#8a8b83"/><rect x="403" y="509" fill="#919b80"/><rect x="425" y="509" fill="#98ab7d"/><rect x="447" y="509" fill="#a1b977"/><rect x="469" y="509" fill="#a8c471"/><rect x="491" y="509" fill="#abcb6b"/><rect x="513" y="509" fill="#acce66"/><rect x="535" y="509" fill="#abcf63"/><rect x="557" y="509" fill="#abd062"/><rect x="579" y="509" fill="#acd062"/><rect x="601" y="509" fill="#acd061"/><rect x="623" y="509" fill="#aed161"/><rect x="645" y="509" fill="#b0d161"/><rect x="667" y="509" fill="#b2d261"/><rect x="689" y="509" fill="#b2d261"/><rect x="711" y="509" fill="#b0d262"/><rect x="733" y="509" fill="#add163"/><rect x="755" y="509" fill="#a8d165"/><rect x="777" y="509" fill="#a4d067"/><rect x="799" y="509" fill="#a0d069"/><rect x="821" y="509" fill="#9ed06b"/><rect x="843" y="509" fill="#9dd06c"/><rect x="865" y="509" fill="#9cd06c"/><rect x="183" y="531" fill="#521c6b"/><rect x="205" y="531" fill="#58256e"/><rect x="227" y="531" fill="#623273"/><rect x="249" y="531" fill="#6d4378"/><rect x="271" y="531" fill="#79557d"/><rect x="293" y="531" fill="#836580"/><rect x="315" y="531" fill="#8a7383"/><rect x="337" y="531" fill="#8e7f84"/><rect x="359" y="531" fill="#928b83"/><rect x="381" y="531" fill="#969982"/><rect x="403" y="531" fill="#9ca77e"/><rect x="425" y="531" fill="#a4b57a"/><rect x="447" y="531" fill="#adc173"/><rect x="469" y="531" fill="#b5ca6c"/><rect x="491" y="531" fill="#bacf66"/><rect x="513" y="531" fill="#bed260"/><rect x="535" y="531" fill="#c0d35b"/><rect x="557" y="531" fill="#c1d459"/><rect x="579" y="531" fill="#c2d458"/><rect x="601" y="531" fill="#c2d557"/><rect x="623" y="531" fill="#c3d558"/><rect x="645" y="531" fill="#c2d559"/><rect x="667" y="531" fill="#c1d45b"/><rect x="689" y="531" fill="#bfd45c"/><rect x="711" y="531" fill="#bcd35e"/><rect x="733" y="531" fill="#b8d360"/><rect x="755" y="531" fill="#b3d262"/><rect x="777" y="531" fill="#aed264"/><rect x="799" y="531" fill="#a8d167"/><rect x="821" y="531" fill="#a3d169"/><rect x="227" y="553" fill="#6c4077"/><rect x="249" y="553" fill="#7a557c"/><rect x="271" y="553" fill="#876981"/><rect x="293" y="553" fill="#917a84"/><rect x="315" y="553" fill="#978685"/><rect x="337" y="553" fill="#9b9185"/><rect x="359" y="553" fill="#9e9b83"/><rect x="381" y="553" fill="#a1a681"/><rect x="403" y="553" fill="#a7b27c"/><rect x="425" y="553" fill="#afbe77"/><rect x="447" y="553" fill="#b7c870"/><rect x="469" y="553" fill="#bfce68"/><rect x="491" y="553" fill="#c6d261"/><rect x="513" y="553" fill="#cbd55a"/><rect x="535" y="553" fill="#cfd654"/><rect x="557" y="553" fill="#d2d750"/><rect x="579" y="553" fill="#d4d84e"/><rect x="601" y="553" fill="#d4d84e"/><rect x="623" y="553" fill="#d4d84f"/><rect x="645" y="553" fill="#d1d851"/><rect x="667" y="553" fill="#ced754"/><rect x="689" y="553" fill="#c9d658"/><rect x="711" y="553" fill="#c5d55a"/><rect x="733" y="553" fill="#c1d45c"/><rect x="755" y="553" fill="#bdd45e"/><rect x="777" y="553" fill="#b7d361"/><rect x="799" y="553" fill="#b0d264"/><rect x="315" y="575" fill="#a39787"/><rect x="337" y="575" fill="#a6a086"/><rect x="359" y="575" fill="#a8a883"/><rect x="381" y="575" fill="#abb180"/><rect x="403" y="575" fill="#b0bc7a"/><rect x="425" y="575" fill="#b7c574"/><rect x="447" y="575" fill="#bfcc6d"/><rect x="469" y="575" fill="#c7d265"/><rect x="491" y="575" fill="#ced55c"/><rect x="513" y="575" fill="#d5d754"/><rect x="535" y="575" fill="#dad94e"/><rect x="557" y="575" fill="#ddda49"/><rect x="579" y="575" fill="#e0db47"/><rect x="601" y="575" fill="#e1db46"/><rect x="623" y="575" fill="#e0db47"/><rect x="645" y="575" fill="#ddda4a"/><rect x="667" y="575" fill="#d8d94e"/><rect x="689" y="575" fill="#d3d853"/><rect x="711" y="575" fill="#ced656"/><rect x="733" y="575" fill="#c9d659"/><rect x="755" y="575" fill="#c4d55b"/><rect x="777" y="575" fill="#bfd45e"/><rect x="425" y="597" fill="#beca71"/><rect x="447" y="597" fill="#c6d069"/><rect x="469" y="597" fill="#ced461"/><rect x="491" y="597" fill="#d5d758"/><rect x="513" y="597" fill="#dcd94f"/><rect x="535" y="597" fill="#e1db48"/><rect x="557" y="597" fill="#e4dc44"/><rect x="579" y="597" fill="#e7dd41"/><rect x="601" y="597" fill="#e8dd40"/><rect x="623" y="597" fill="#e7dd41"/><rect x="645" y="597" fill="#e5dc44"/><rect x="667" y="597" fill="#e1db49"/><rect x="689" y="597" fill="#dbd94e"/><rect x="711" y="597" fill="#d5d852"/><rect x="733" y="597" fill="#d0d756"/><rect x="513" y="619" fill="#e1db4a"/><rect x="535" y="619" fill="#e6dc44"/><rect x="557" y="619" fill="#e9dd3f"/><rect x="579" y="619" fill="#ebde3d"/><rect x="601" y="619" fill="#ecde3c"/><rect x="623" y="619" fill="#ecde3d"/><rect x="645" y="619" fill="#eadd3f"/><rect x="667" y="619" fill="#e6dc44"/><rect x="689" y="619" fill="#e1db49"/><rect x="711" y="619" fill="#dbd94f"/><rect x="579" y="641" fill="#eedf39"/><rect x="601" y="641" fill="#efdf39"/><rect x="623" y="641" fill="#eedf3a"/><rect x="645" y="641" fill="#edde3c"/><rect x="667" y="641" fill="#eadd40"/></g></g></g></g><g><use href="#bA1" transform="translate(3,606)"/></g><g id="bA2" mask="url(#mA2)"><g filter="url(#texA)"><g filter="url(#fA2)" class="c22"><rect x="1367" y="65" fill="#526a99"/><rect x="1389" y="65" fill="#506f98"/><rect x="1411" y="65" fill="#4e7698"/><rect x="1433" y="65" fill="#4b7d97"/><rect x="1455" y="65" fill="#498396"/><rect x="1477" y="65" fill="#468896"/><rect x="1499" y="65" fill="#458b95"/><rect x="1521" y="65" fill="#448d94"/><rect x="1543" y="65" fill="#438f94"/><rect x="1565" y="65" fill="#449193"/><rect x="1587" y="65" fill="#459393"/><rect x="1609" y="65" fill="#469592"/><rect x="1631" y="65" fill="#499891"/><rect x="1653" y="65" fill="#4b9c8f"/><rect x="1323" y="87" fill="#546699"/><rect x="1345" y="87" fill="#536799"/><rect x="1367" y="87" fill="#526999"/><rect x="1389" y="87" fill="#516e99"/><rect x="1411" y="87" fill="#4e7498"/><rect x="1433" y="87" fill="#4c7c97"/><rect x="1455" y="87" fill="#498297"/><rect x="1477" y="87" fill="#478896"/><rect x="1499" y="87" fill="#458b95"/><rect x="1521" y="87" fill="#448e94"/><rect x="1543" y="87" fill="#439094"/><rect x="1565" y="87" fill="#449193"/><rect x="1587" y="87" fill="#459492"/><rect x="1609" y="87" fill="#479691"/><rect x="1631" y="87" fill="#4a9a90"/><rect x="1653" y="87" fill="#4c9d8e"/><rect x="1675" y="87" fill="#4fa18d"/><rect x="1697" y="87" fill="#52a58b"/><rect x="1301" y="109" fill="#546799"/><rect x="1323" y="109" fill="#546799"/><rect x="1345" y="109" fill="#536799"/><rect x="1367" y="109" fill="#536999"/><rect x="1389" y="109" fill="#516d99"/><rect x="1411" y="109" fill="#4f7398"/><rect x="1433" y="109" fill="#4c7a98"/><rect x="1455" y="109" fill="#498197"/><rect x="1477" y="109" fill="#478896"/><rect x="1499" y="109" fill="#458c95"/><rect x="1521" y="109" fill="#448f94"/><rect x="1543" y="109" fill="#449193"/><rect x="1565" y="109" fill="#459293"/><rect x="1587" y="109" fill="#469592"/><rect x="1609" y="109" fill="#489891"/><rect x="1631" y="109" fill="#4b9b8f"/><rect x="1653" y="109" fill="#4e9f8d"/><rect x="1675" y="109" fill="#51a38b"/><rect x="1697" y="109" fill="#53a789"/><rect x="1719" y="109" fill="#56ab87"/><rect x="1741" y="109" fill="#59ae85"/><rect x="1279" y="131" fill="#546a99"/><rect x="1301" y="131" fill="#546999"/><rect x="1323" y="131" fill="#546899"/><rect x="1345" y="131" fill="#536999"/><rect x="1367" y="131" fill="#536a99"/><rect x="1389" y="131" fill="#526d99"/><rect x="1411" y="131" fill="#507299"/><rect x="1433" y="131" fill="#4d7998"/><rect x="1455" y="131" fill="#4a8197"/><rect x="1477" y="131" fill="#478895"/><rect x="1499" y="131" fill="#458d94"/><rect x="1521" y="131" fill="#459094"/><rect x="1543" y="131" fill="#459293"/><rect x="1565" y="131" fill="#459492"/><rect x="1587" y="131" fill="#479691"/><rect x="1609" y="131" fill="#499a90"/><rect x="1631" y="131" fill="#4c9e8e"/><rect x="1653" y="131" fill="#50a28c"/><rect x="1675" y="131" fill="#53a68a"/><rect x="1697" y="131" fill="#56aa88"/><rect x="1719" y="131" fill="#58ae86"/><rect x="1741" y="131" fill="#5bb184"/><rect x="1763" y="131" fill="#5db482"/><rect x="1279" y="153" fill="#556e99"/><rect x="1301" y="153" fill="#546c99"/><rect x="1323" y="153" fill="#546b99"/><rect x="1345" y="153" fill="#536b9a"/><rect x="1367" y="153" fill="#536c9a"/><rect x="1389" y="153" fill="#526e99"/><rect x="1411" y="153" fill="#507399"/><rect x="1433" y="153" fill="#4d7a98"/><rect x="1455" y="153" fill="#4a8296"/><rect x="1477" y="153" fill="#488995"/><rect x="1499" y="153" fill="#468f94"/><rect x="1521" y="153" fill="#469293"/><rect x="1543" y="153" fill="#469492"/><rect x="1565" y="153" fill="#479692"/><rect x="1587" y="153" fill="#499991"/><rect x="1609" y="153" fill="#4b9c8f"/><rect x="1631" y="153" fill="#4fa18d"/><rect x="1653" y="153" fill="#52a68a"/><rect x="1675" y="153" fill="#55aa88"/><rect x="1697" y="153" fill="#58ad86"/><rect x="1719" y="153" fill="#5bb184"/><rect x="1741" y="153" fill="#5db482"/><rect x="1763" y="153" fill="#60b780"/><rect x="1785" y="153" fill="#62ba7e"/><rect x="1257" y="175" fill="#557299"/><rect x="1279" y="175" fill="#557199"/><rect x="1301" y="175" fill="#547099"/><rect x="1323" y="175" fill="#546f9a"/><rect x="1345" y="175" fill="#536f9a"/><rect x="1367" y="175" fill="#536f9a"/><rect x="1389" y="175" fill="#527299"/><rect x="1411" y="175" fill="#507699"/><rect x="1433" y="175" fill="#4d7d97"/><rect x="1455" y="175" fill="#4b8596"/><rect x="1477" y="175" fill="#488c94"/><rect x="1499" y="175" fill="#479193"/><rect x="1521" y="175" fill="#479492"/><rect x="1543" y="175" fill="#479692"/><rect x="1565" y="175" fill="#499991"/><rect x="1587" y="175" fill="#4b9c8f"/><rect x="1609" y="175" fill="#4ea18d"/><rect x="1631" y="175" fill="#52a68a"/><rect x="1653" y="175" fill="#56aa88"/><rect x="1675" y="175" fill="#58ae86"/><rect x="1697" y="175" fill="#5bb184"/><rect x="1719" y="175" fill="#5db482"/><rect x="1741" y="175" fill="#60b780"/><rect x="1763" y="175" fill="#62ba7e"/><rect x="1785" y="175" fill="#64bd7c"/><rect x="1807" y="175" fill="#66bf7b"/><rect x="1257" y="197" fill="#567699"/><rect x="1279" y="197" fill="#557599"/><rect x="1301" y="197" fill="#557499"/><rect x="1323" y="197" fill="#54739a"/><rect x="1345" y="197" fill="#53739a"/><rect x="1367" y="197" fill="#52749a"/><rect x="1389" y="197" fill="#517699"/><rect x="1411" y="197" fill="#4f7b98"/><rect x="1433" y="197" fill="#4d8297"/><rect x="1455" y="197" fill="#4b8995"/><rect x="1477" y="197" fill="#498f94"/><rect x="1499" y="197" fill="#489392"/><rect x="1521" y="197" fill="#499791"/><rect x="1543" y="197" fill="#4a9a90"/><rect x="1565" y="197" fill="#4c9d8f"/><rect x="1587" y="197" fill="#4fa18d"/><rect x="1609" y="197" fill="#53a78a"/><rect x="1631" y="197" fill="#57ac87"/><rect x="1653" y="197" fill="#5aaf85"/><rect x="1675" y="197" fill="#5cb284"/><rect x="1697" y="197" fill="#5eb582"/><rect x="1719" y="197" fill="#60b780"/><rect x="1741" y="197" fill="#62ba7e"/><rect x="1763" y="197" fill="#64bd7c"/><rect x="1785" y="197" fill="#66bf7b"/><rect x="1807" y="197" fill="#67c179"/><rect x="1829" y="197" fill="#68c378"/><rect x="1257" y="219" fill="#567a99"/><rect x="1279" y="219" fill="#567899"/><rect x="1301" y="219" fill="#557899"/><rect x="1323" y="219" fill="#547799"/><rect x="1345" y="219" fill="#537899"/><rect x="1367" y="219" fill="#527999"/><rect x="1389" y="219" fill="#517d98"/><rect x="1411" y="219" fill="#4f8297"/><rect x="1433" y="219" fill="#4d8895"/><rect x="1455" y="219" fill="#4c8e94"/><rect x="1477" y="219" fill="#4b9392"/><rect x="1499" y="219" fill="#4b9791"/><rect x="1521" y="219" fill="#4c9b8f"/><rect x="1543" y="219" fill="#4e9f8e"/><rect x="1565" y="219" fill="#51a38c"/><rect x="1587" y="219" fill="#55a889"/><rect x="1609" y="219" fill="#58ad87"/><rect x="1631" y="219" fill="#5bb185"/><rect x="1653" y="219" fill="#5db483"/><rect x="1675" y="219" fill="#5fb682"/><rect x="1697" y="219" fill="#60b880"/><rect x="1719" y="219" fill="#62bb7e"/><rect x="1741" y="219" fill="#64bd7c"/><rect x="1763" y="219" fill="#66c07a"/><rect x="1785" y="219" fill="#67c279"/><rect x="1807" y="219" fill="#68c378"/><rect x="1829" y="219" fill="#69c477"/><rect x="1257" y="241" fill="#588099"/><rect x="1279" y="241" fill="#567d99"/><rect x="1301" y="241" fill="#557c99"/><rect x="1323" y="241" fill="#547c99"/><rect x="1345" y="241" fill="#537e98"/><rect x="1367" y="241" fill="#528098"/><rect x="1389" y="241" fill="#518497"/><rect x="1411" y="241" fill="#508995"/><rect x="1433" y="241" fill="#4f8e93"/><rect x="1455" y="241" fill="#4e9392"/><rect x="1477" y="241" fill="#4e9890"/><rect x="1499" y="241" fill="#4f9c8f"/><rect x="1521" y="241" fill="#51a08d"/><rect x="1543" y="241" fill="#54a58a"/><rect x="1565" y="241" fill="#57a988"/><rect x="1587" y="241" fill="#5aae86"/><rect x="1609" y="241" fill="#5cb284"/><rect x="1631" y="241" fill="#5eb483"/><rect x="1653" y="241" fill="#60b782"/><rect x="1675" y="241" fill="#61b980"/><rect x="1697" y="241" fill="#63bb7e"/><rect x="1719" y="241" fill="#65be7c"/><rect x="1741" y="241" fill="#66c07a"/><rect x="1763" y="241" fill="#68c279"/><rect x="1785" y="241" fill="#69c478"/><rect x="1807" y="241" fill="#69c577"/><rect x="1829" y="241" fill="#6ac676"/><rect x="1851" y="241" fill="#6ac776"/><rect x="1235" y="263" fill="#5e8d99"/><rect x="1257" y="263" fill="#5a8799"/><rect x="1279" y="263" fill="#588399"/><rect x="1301" y="263" fill="#568298"/><rect x="1323" y="263" fill="#558298"/><rect x="1345" y="263" fill="#538497"/><rect x="1367" y="263" fill="#528696"/><rect x="1389" y="263" fill="#528a95"/><rect x="1411" y="263" fill="#518f93"/><rect x="1433" y="263" fill="#519591"/><rect x="1455" y="263" fill="#519a8f"/><rect x="1477" y="263" fill="#529e8d"/><rect x="1499" y="263" fill="#54a28c"/><rect x="1521" y="263" fill="#56a689"/><rect x="1543" y="263" fill="#59aa88"/><rect x="1565" y="263" fill="#5bae86"/><rect x="1587" y="263" fill="#5db184"/><rect x="1609" y="263" fill="#5fb483"/><rect x="1631" y="263" fill="#60b682"/><rect x="1653" y="263" fill="#62b980"/><rect x="1675" y="263" fill="#63bb7e"/><rect x="1697" y="263" fill="#65be7c"/><rect x="1719" y="263" fill="#67c17a"/><rect x="1741" y="263" fill="#69c378"/><rect x="1763" y="263" fill="#69c577"/><rect x="1785" y="263" fill="#6ac676"/><rect x="1807" y="263" fill="#6ac676"/><rect x="1829" y="263" fill="#6bc776"/><rect x="1851" y="263" fill="#6bc775"/><rect x="1235" y="285" fill="#619499"/><rect x="1257" y="285" fill="#5d8e98"/><rect x="1279" y="285" fill="#5a8998"/><rect x="1301" y="285" fill="#578798"/><rect x="1323" y="285" fill="#558797"/><rect x="1345" y="285" fill="#548996"/><rect x="1367" y="285" fill="#538c94"/><rect x="1389" y="285" fill="#539093"/><rect x="1411" y="285" fill="#549690"/><rect x="1433" y="285" fill="#549b8e"/><rect x="1455" y="285" fill="#55a08c"/><rect x="1477" y="285" fill="#57a48b"/><rect x="1499" y="285" fill="#58a789"/><rect x="1521" y="285" fill="#5aab87"/><rect x="1543" y="285" fill="#5cae86"/><rect x="1565" y="285" fill="#5eb184"/><rect x="1587" y="285" fill="#60b483"/><rect x="1609" y="285" fill="#62b681"/><rect x="1631" y="285" fill="#63b980"/><rect x="1653" y="285" fill="#65bb7e"/><rect x="1675" y="285" fill="#67bf7c"/><rect x="1697" y="285" fill="#69c279"/><rect x="1719" y="285" fill="#6bc477"/><rect x="1741" y="285" fill="#6cc576"/><rect x="1763" y="285" fill="#6cc676"/><rect x="1785" y="285" fill="#6cc775"/><rect x="1807" y="285" fill="#6cc775"/><rect x="1829" y="285" fill="#6cc875"/><rect x="1851" y="285" fill="#6cc875"/><rect x="1191" y="307" fill="#6a9d99"/><rect x="1213" y="307" fill="#689c99"/><rect x="1235" y="307" fill="#659998"/><rect x="1257" y="307" fill="#619498"/><rect x="1279" y="307" fill="#5c8f98"/><rect x="1301" y="307" fill="#598c97"/><rect x="1323" y="307" fill="#568c96"/><rect x="1345" y="307" fill="#558e94"/><rect x="1367" y="307" fill="#559292"/><rect x="1389" y="307" fill="#569790"/><rect x="1411" y="307" fill="#579c8e"/><rect x="1433" y="307" fill="#58a18b"/><rect x="1455" y="307" fill="#59a58a"/><rect x="1477" y="307" fill="#5aa988"/><rect x="1499" y="307" fill="#5cab87"/><rect x="1521" y="307" fill="#5eae85"/><rect x="1543" y="307" fill="#60b184"/><rect x="1565" y="307" fill="#63b482"/><rect x="1587" y="307" fill="#66b780"/><rect x="1609" y="307" fill="#69ba7e"/><rect x="1631" y="307" fill="#6cbd7c"/><rect x="1653" y="307" fill="#6fc079"/><rect x="1675" y="307" fill="#71c477"/><rect x="1697" y="307" fill="#72c675"/><rect x="1719" y="307" fill="#73c774"/><rect x="1741" y="307" fill="#73c874"/><rect x="1763" y="307" fill="#72c874"/><rect x="1785" y="307" fill="#71c874"/><rect x="1807" y="307" fill="#6fc874"/><rect x="1829" y="307" fill="#6ec874"/><rect x="1851" y="307" fill="#6dc875"/><rect x="1125" y="329" fill="#6d9899"/><rect x="1147" y="329" fill="#6c9a99"/><rect x="1169" y="329" fill="#6c9c99"/><rect x="1191" y="329" fill="#6b9d99"/><rect x="1213" y="329" fill="#699e98"/><rect x="1235" y="329" fill="#679d98"/><rect x="1257" y="329" fill="#649a97"/><rect x="1279" y="329" fill="#609697"/><rect x="1301" y="329" fill="#5c9395"/><rect x="1323" y="329" fill="#599294"/><rect x="1345" y="329" fill="#589492"/><rect x="1367" y="329" fill="#58998f"/><rect x="1389" y="329" fill="#5a9e8c"/><rect x="1411" y="329" fill="#5ba38a"/><rect x="1433" y="329" fill="#5ca788"/><rect x="1455" y="329" fill="#5dab87"/><rect x="1477" y="329" fill="#5ead86"/><rect x="1499" y="329" fill="#60af84"/><rect x="1521" y="329" fill="#64b282"/><rect x="1543" y="329" fill="#68b580"/><rect x="1565" y="329" fill="#6db97d"/><rect x="1587" y="329" fill="#73bd7a"/><rect x="1609" y="329" fill="#79c177"/><rect x="1631" y="329" fill="#7dc574"/><rect x="1653" y="329" fill="#80c772"/><rect x="1675" y="329" fill="#81c970"/><rect x="1697" y="329" fill="#82ca6f"/><rect x="1719" y="329" fill="#82cb6f"/><rect x="1741" y="329" fill="#81cb6f"/><rect x="1763" y="329" fill="#7fcb70"/><rect x="1785" y="329" fill="#7bca71"/><rect x="1807" y="329" fill="#77ca72"/><rect x="1829" y="329" fill="#73c973"/><rect x="1851" y="329" fill="#71c974"/><rect x="1081" y="351" fill="#6e8c99"/><rect x="1103" y="351" fill="#6d9199"/><rect x="1125" y="351" fill="#6d9599"/><rect x="1147" y="351" fill="#6d9899"/><rect x="1169" y="351" fill="#6c9b99"/><rect x="1191" y="351" fill="#6c9d99"/><rect x="1213" y="351" fill="#6b9f98"/><rect x="1235" y="351" fill="#69a097"/><rect x="1257" y="351" fill="#679f96"/><rect x="1279" y="351" fill="#649d95"/><rect x="1301" y="351" fill="#609b93"/><rect x="1323" y="351" fill="#5d9a91"/><rect x="1345" y="351" fill="#5c9d8e"/><rect x="1367" y="351" fill="#5da28b"/><rect x="1389" y="351" fill="#5ea788"/><rect x="1411" y="351" fill="#60ab86"/><rect x="1433" y="351" fill="#61ae85"/><rect x="1455" y="351" fill="#62b084"/><rect x="1477" y="351" fill="#65b282"/><rect x="1499" y="351" fill="#69b580"/><rect x="1521" y="351" fill="#70b97c"/><rect x="1543" y="351" fill="#77be78"/><rect x="1565" y="351" fill="#7fc275"/><rect x="1587" y="351" fill="#86c671"/><rect x="1609" y="351" fill="#8cc96e"/><rect x="1631" y="351" fill="#90cb6c"/><rect x="1653" y="351" fill="#92cd6b"/><rect x="1675" y="351" fill="#92ce6a"/><rect x="1697" y="351" fill="#94ce69"/><rect x="1719" y="351" fill="#95cf69"/><rect x="1741" y="351" fill="#95cf69"/><rect x="1763" y="351" fill="#92cf6a"/><rect x="1785" y="351" fill="#8bce6c"/><rect x="1807" y="351" fill="#84cc6e"/><rect x="1829" y="351" fill="#7dcb70"/><rect x="1851" y="351" fill="#77ca72"/><rect x="1081" y="373" fill="#6e8799"/><rect x="1103" y="373" fill="#6e8c99"/><rect x="1125" y="373" fill="#6e9199"/><rect x="1147" y="373" fill="#6d9599"/><rect x="1169" y="373" fill="#6d9a99"/><rect x="1191" y="373" fill="#6d9d98"/><rect x="1213" y="373" fill="#6ca097"/><rect x="1235" y="373" fill="#6ba296"/><rect x="1257" y="373" fill="#6aa494"/><rect x="1279" y="373" fill="#68a492"/><rect x="1301" y="373" fill="#65a490"/><rect x="1323" y="373" fill="#62a48c"/><rect x="1345" y="373" fill="#62a888"/><rect x="1367" y="373" fill="#63ac85"/><rect x="1389" y="373" fill="#65b083"/><rect x="1411" y="373" fill="#67b381"/><rect x="1433" y="373" fill="#69b580"/><rect x="1455" y="373" fill="#6db77e"/><rect x="1477" y="373" fill="#73ba7b"/><rect x="1499" y="373" fill="#7abe78"/><rect x="1521" y="373" fill="#81c274"/><rect x="1543" y="373" fill="#89c670"/><rect x="1565" y="373" fill="#90ca6d"/><rect x="1587" y="373" fill="#96cc6a"/><rect x="1609" y="373" fill="#9bce68"/><rect x="1631" y="373" fill="#9ecf66"/><rect x="1653" y="373" fill="#a0d066"/><rect x="1675" y="373" fill="#a1d165"/><rect x="1697" y="373" fill="#a4d164"/><rect x="1719" y="373" fill="#a6d263"/><rect x="1741" y="373" fill="#a7d263"/><rect x="1763" y="373" fill="#a4d264"/><rect x="1785" y="373" fill="#9ed166"/><rect x="1807" y="373" fill="#95cf69"/><rect x="1829" y="373" fill="#8cce6c"/><rect x="1851" y="373" fill="#83cc6e"/><rect x="1059" y="395" fill="#6e7c99"/><rect x="1081" y="395" fill="#6e8199"/><rect x="1103" y="395" fill="#6e8699"/><rect x="1125" y="395" fill="#6e8c99"/><rect x="1147" y="395" fill="#6e9299"/><rect x="1169" y="395" fill="#6e9799"/><rect x="1191" y="395" fill="#6e9c98"/><rect x="1213" y="395" fill="#6ea197"/><rect x="1235" y="395" fill="#6da495"/><rect x="1257" y="395" fill="#6ca793"/><rect x="1279" y="395" fill="#6aa98f"/><rect x="1301" y="395" fill="#69ab8c"/><rect x="1323" y="395" fill="#68ae87"/><rect x="1345" y="395" fill="#69b283"/><rect x="1367" y="395" fill="#6bb57f"/><rect x="1389" y="395" fill="#6eb87d"/><rect x="1411" y="395" fill="#73bb7b"/><rect x="1433" y="395" fill="#7abd78"/><rect x="1455" y="395" fill="#82c074"/><rect x="1477" y="395" fill="#8ac471"/><rect x="1499" y="395" fill="#90c76e"/><rect x="1521" y="395" fill="#94ca6b"/><rect x="1543" y="395" fill="#99cc69"/><rect x="1565" y="395" fill="#9ece66"/><rect x="1587" y="395" fill="#a3d064"/><rect x="1609" y="395" fill="#a7d162"/><rect x="1631" y="395" fill="#aad261"/><rect x="1653" y="395" fill="#acd261"/><rect x="1675" y="395" fill="#aed360"/><rect x="1697" y="395" fill="#b1d45f"/><rect x="1719" y="395" fill="#b3d45f"/><rect x="1741" y="395" fill="#b4d45f"/><rect x="1763" y="395" fill="#b1d460"/><rect x="1785" y="395" fill="#acd361"/><rect x="1807" y="395" fill="#a5d264"/><rect x="1829" y="395" fill="#9dd167"/><rect x="1037" y="417" fill="#6e6f97"/><rect x="1059" y="417" fill="#6e7498"/><rect x="1081" y="417" fill="#6e7998"/><rect x="1103" y="417" fill="#6e7e98"/><rect x="1125" y="417" fill="#6e8598"/><rect x="1147" y="417" fill="#6f8c98"/><rect x="1169" y="417" fill="#6f9498"/><rect x="1191" y="417" fill="#709b97"/><rect x="1213" y="417" fill="#70a196"/><rect x="1235" y="417" fill="#6fa594"/><rect x="1257" y="417" fill="#6ea990"/><rect x="1279" y="417" fill="#6cad8c"/><rect x="1301" y="417" fill="#6cb187"/><rect x="1323" y="417" fill="#6db582"/><rect x="1345" y="417" fill="#71b97d"/><rect x="1367" y="417" fill="#77bd79"/><rect x="1389" y="417" fill="#7ec076"/><rect x="1411" y="417" fill="#87c372"/><rect x="1433" y="417" fill="#93c76d"/><rect x="1455" y="417" fill="#9eca68"/><rect x="1477" y="417" fill="#a4cd65"/><rect x="1499" y="417" fill="#a6ce63"/><rect x="1521" y="417" fill="#a7cf62"/><rect x="1543" y="417" fill="#a9d061"/><rect x="1565" y="417" fill="#acd15f"/><rect x="1587" y="417" fill="#b0d35d"/><rect x="1609" y="417" fill="#b3d45c"/><rect x="1631" y="417" fill="#b6d45b"/><rect x="1653" y="417" fill="#b8d55b"/><rect x="1675" y="417" fill="#bbd55b"/><rect x="1697" y="417" fill="#bdd65b"/><rect x="1719" y="417" fill="#bed65b"/><rect x="1741" y="417" fill="#bed65b"/><rect x="1763" y="417" fill="#bbd65c"/><rect x="1785" y="417" fill="#b7d55e"/><rect x="1807" y="417" fill="#b1d460"/><rect x="1037" y="439" fill="#6d6795"/><rect x="1059" y="439" fill="#6d6b96"/><rect x="1081" y="439" fill="#6e6f97"/><rect x="1103" y="439" fill="#6e7597"/><rect x="1125" y="439" fill="#6f7c97"/><rect x="1147" y="439" fill="#708598"/><rect x="1169" y="439" fill="#718f97"/><rect x="1191" y="439" fill="#729896"/><rect x="1213" y="439" fill="#73a094"/><rect x="1235" y="439" fill="#72a692"/><rect x="1257" y="439" fill="#71ab8e"/><rect x="1279" y="439" fill="#6fb089"/><rect x="1301" y="439" fill="#70b583"/><rect x="1323" y="439" fill="#75ba7d"/><rect x="1345" y="439" fill="#7cbf77"/><rect x="1367" y="439" fill="#86c373"/><rect x="1389" y="439" fill="#91c76e"/><rect x="1411" y="439" fill="#9ecb68"/><rect x="1433" y="439" fill="#accf63"/><rect x="1455" y="439" fill="#b5d15e"/><rect x="1477" y="439" fill="#bad35b"/><rect x="1499" y="439" fill="#bbd45a"/><rect x="1521" y="439" fill="#bad459"/><rect x="1543" y="439" fill="#bbd458"/><rect x="1565" y="439" fill="#bdd556"/><rect x="1587" y="439" fill="#bfd655"/><rect x="1609" y="439" fill="#c2d654"/><rect x="1631" y="439" fill="#c4d754"/><rect x="1653" y="439" fill="#c5d755"/><rect x="1675" y="439" fill="#c6d756"/><rect x="1697" y="439" fill="#c7d757"/><rect x="1719" y="439" fill="#c7d757"/><rect x="1741" y="439" fill="#c5d758"/><rect x="1763" y="439" fill="#c3d759"/><rect x="1785" y="439" fill="#bfd65b"/><rect x="1037" y="461" fill="#6b5e93"/><rect x="1059" y="461" fill="#6c6193"/><rect x="1081" y="461" fill="#6c6594"/><rect x="1103" y="461" fill="#6d6a95"/><rect x="1125" y="461" fill="#6e7296"/><rect x="1147" y="461" fill="#707c96"/><rect x="1169" y="461" fill="#738896"/><rect x="1191" y="461" fill="#759495"/><rect x="1213" y="461" fill="#779e92"/><rect x="1235" y="461" fill="#77a68f"/><rect x="1257" y="461" fill="#76ad8b"/><rect x="1279" y="461" fill="#76b385"/><rect x="1301" y="461" fill="#79ba7e"/><rect x="1323" y="461" fill="#80bf77"/><rect x="1345" y="461" fill="#8bc472"/><rect x="1367" y="461" fill="#97c86c"/><rect x="1389" y="461" fill="#a4cc67"/><rect x="1411" y="461" fill="#b1d061"/><rect x="1433" y="461" fill="#bdd35b"/><rect x="1455" y="461" fill="#c5d656"/><rect x="1477" y="461" fill="#cad753"/><rect x="1499" y="461" fill="#cbd751"/><rect x="1521" y="461" fill="#ccd84f"/><rect x="1543" y="461" fill="#cdd84e"/><rect x="1565" y="461" fill="#ced84c"/><rect x="1587" y="461" fill="#cfd94b"/><rect x="1609" y="461" fill="#d1d94b"/><rect x="1631" y="461" fill="#d1d94c"/><rect x="1653" y="461" fill="#d1d94e"/><rect x="1675" y="461" fill="#d0d951"/><rect x="1697" y="461" fill="#cfd953"/><rect x="1719" y="461" fill="#ced954"/><rect x="1741" y="461" fill="#ccd855"/><rect x="1763" y="461" fill="#c9d857"/><rect x="1785" y="461" fill="#c5d758"/><rect x="1037" y="483" fill="#69548e"/><rect x="1059" y="483" fill="#69568f"/><rect x="1081" y="483" fill="#6a5a90"/><rect x="1103" y="483" fill="#6b5f91"/><rect x="1125" y="483" fill="#6c6692"/><rect x="1147" y="483" fill="#6f7193"/><rect x="1169" y="483" fill="#737f93"/><rect x="1191" y="483" fill="#788e92"/><rect x="1213" y="483" fill="#7c9b90"/><rect x="1235" y="483" fill="#7ea58c"/><rect x="1257" y="483" fill="#80ae87"/><rect x="1279" y="483" fill="#82b780"/><rect x="1301" y="483" fill="#88bf78"/><rect x="1323" y="483" fill="#92c571"/><rect x="1345" y="483" fill="#9dc96b"/><rect x="1367" y="483" fill="#a8cd67"/><rect x="1389" y="483" fill="#b4d061"/><rect x="1411" y="483" fill="#bfd45b"/><rect x="1433" y="483" fill="#c9d655"/><rect x="1455" y="483" fill="#d1d850"/><rect x="1477" y="483" fill="#d5d94c"/><rect x="1499" y="483" fill="#d8da49"/><rect x="1521" y="483" fill="#dadb47"/><rect x="1543" y="483" fill="#dbdb45"/><rect x="1565" y="483" fill="#dcdb44"/><rect x="1587" y="483" fill="#dddb44"/><rect x="1609" y="483" fill="#dddc44"/><rect x="1631" y="483" fill="#dddb45"/><rect x="1653" y="483" fill="#dcdb48"/><rect x="1675" y="483" fill="#d9db4b"/><rect x="1697" y="483" fill="#d7da4f"/><rect x="1719" y="483" fill="#d4da51"/><rect x="1741" y="483" fill="#d1d953"/><rect x="1763" y="483" fill="#ced955"/><rect x="1037" y="505" fill="#654889"/><rect x="1059" y="505" fill="#654a8a"/><rect x="1081" y="505" fill="#664d8b"/><rect x="1103" y="505" fill="#67528c"/><rect x="1125" y="505" fill="#69598e"/><rect x="1147" y="505" fill="#6d658f"/><rect x="1169" y="505" fill="#727490"/><rect x="1191" y="505" fill="#79868f"/><rect x="1213" y="505" fill="#7f968d"/><rect x="1235" y="505" fill="#85a389"/><rect x="1257" y="505" fill="#8caf83"/><rect x="1279" y="505" fill="#94bb7a"/><rect x="1301" y="505" fill="#9dc471"/><rect x="1323" y="505" fill="#a6cb6b"/><rect x="1345" y="505" fill="#afce66"/><rect x="1367" y="505" fill="#b7d161"/><rect x="1389" y="505" fill="#c0d45c"/><rect x="1411" y="505" fill="#cad756"/><rect x="1433" y="505" fill="#d3d950"/><rect x="1455" y="505" fill="#d9da4a"/><rect x="1477" y="505" fill="#dedb46"/><rect x="1499" y="505" fill="#e1dc43"/><rect x="1521" y="505" fill="#e3dd41"/><rect x="1543" y="505" fill="#e5dd3f"/><rect x="1565" y="505" fill="#e6dd3f"/><rect x="1587" y="505" fill="#e7dd3f"/><rect x="1609" y="505" fill="#e7dd40"/><rect x="1631" y="505" fill="#e6dd41"/><rect x="1653" y="505" fill="#e4dd44"/><rect x="1675" y="505" fill="#e1dc47"/><rect x="1697" y="505" fill="#dddb4b"/><rect x="1719" y="505" fill="#d9da4e"/><rect x="1741" y="505" fill="#d5da51"/><rect x="1037" y="527" fill="#603c83"/><rect x="1059" y="527" fill="#603e83"/><rect x="1081" y="527" fill="#614084"/><rect x="1103" y="527" fill="#624486"/><rect x="1125" y="527" fill="#644b87"/><rect x="1147" y="527" fill="#69568a"/><rect x="1169" y="527" fill="#6f678c"/><rect x="1191" y="527" fill="#787a8c"/><rect x="1213" y="527" fill="#828e8a"/><rect x="1235" y="527" fill="#8c9f86"/><rect x="1257" y="527" fill="#97af80"/><rect x="1279" y="527" fill="#a4bd76"/><rect x="1301" y="527" fill="#afc86d"/><rect x="1323" y="527" fill="#b8cf66"/><rect x="1345" y="527" fill="#bdd262"/><rect x="1367" y="527" fill="#c3d45e"/><rect x="1389" y="527" fill="#cad659"/><rect x="1411" y="527" fill="#d2d952"/><rect x="1433" y="527" fill="#dadb4c"/><rect x="1455" y="527" fill="#e0dc46"/><rect x="1477" y="527" fill="#e4dd42"/><rect x="1499" y="527" fill="#e7dd3f"/><rect x="1521" y="527" fill="#e9de3d"/><rect x="1543" y="527" fill="#ebde3c"/><rect x="1565" y="527" fill="#ebde3d"/><rect x="1587" y="527" fill="#ecde3e"/><rect x="1609" y="527" fill="#ecde3f"/><rect x="1631" y="527" fill="#ebde40"/><rect x="1653" y="527" fill="#eadd42"/><rect x="1675" y="527" fill="#e7dd44"/><rect x="1697" y="527" fill="#e3dc48"/><rect x="1037" y="549" fill="#5c327d"/><rect x="1059" y="549" fill="#5c327d"/><rect x="1081" y="549" fill="#5c347e"/><rect x="1103" y="549" fill="#5d377f"/><rect x="1125" y="549" fill="#603d82"/><rect x="1147" y="549" fill="#644885"/><rect x="1169" y="549" fill="#6c5887"/><rect x="1191" y="549" fill="#766e89"/><rect x="1213" y="549" fill="#838589"/><rect x="1235" y="549" fill="#919a85"/><rect x="1257" y="549" fill="#9fad7e"/><rect x="1279" y="549" fill="#aebe75"/><rect x="1301" y="549" fill="#baca6b"/><rect x="1323" y="549" fill="#c2d164"/><rect x="1345" y="549" fill="#c6d460"/><rect x="1367" y="549" fill="#cbd65b"/><rect x="1389" y="549" fill="#d0d857"/><rect x="1411" y="549" fill="#d7da50"/><rect x="1433" y="549" fill="#dfdc49"/><rect x="1455" y="549" fill="#e4dd43"/><rect x="1477" y="549" fill="#e8de3f"/><rect x="1499" y="549" fill="#ebde3c"/><rect x="1521" y="549" fill="#eddf3b"/><rect x="1543" y="549" fill="#eedf3b"/><rect x="1565" y="549" fill="#eede3c"/><rect x="1587" y="549" fill="#eede3e"/><rect x="1609" y="549" fill="#eede40"/><rect x="1631" y="549" fill="#edde41"/><rect x="1653" y="549" fill="#eddd42"/><rect x="1675" y="549" fill="#ebdd43"/><rect x="1037" y="571" fill="#582978"/><rect x="1059" y="571" fill="#582a78"/><rect x="1081" y="571" fill="#592b79"/><rect x="1103" y="571" fill="#5a2e7b"/><rect x="1125" y="571" fill="#5c347d"/><rect x="1147" y="571" fill="#613e80"/><rect x="1169" y="571" fill="#694e84"/><rect x="1191" y="571" fill="#746487"/><rect x="1213" y="571" fill="#837d88"/><rect x="1235" y="571" fill="#939684"/><rect x="1257" y="571" fill="#a3ac7e"/><rect x="1279" y="571" fill="#b3bd75"/><rect x="1301" y="571" fill="#beca6c"/><rect x="1323" y="571" fill="#c6d164"/><rect x="1345" y="571" fill="#cbd55f"/><rect x="1367" y="571" fill="#cfd75b"/><rect x="1389" y="571" fill="#d4d956"/><rect x="1411" y="571" fill="#dbdb4f"/><rect x="1433" y="571" fill="#e1dc48"/><rect x="1455" y="571" fill="#e7de42"/><rect x="1477" y="571" fill="#ebdf3d"/><rect x="1499" y="571" fill="#eddf3b"/><rect x="1521" y="571" fill="#eedf3a"/><rect x="1543" y="571" fill="#efdf3a"/><rect x="1565" y="571" fill="#efde3c"/><rect x="1587" y="571" fill="#efde3f"/><rect x="1609" y="571" fill="#efde41"/><rect x="1631" y="571" fill="#eedd43"/><rect x="1037" y="593" fill="#562475"/><rect x="1059" y="593" fill="#562475"/><rect x="1081" y="593" fill="#572576"/><rect x="1103" y="593" fill="#582877"/><rect x="1125" y="593" fill="#5a2e7a"/><rect x="1147" y="593" fill="#5f377e"/><rect x="1169" y="593" fill="#674782"/><rect x="1191" y="593" fill="#735e86"/><rect x="1213" y="593" fill="#837987"/><rect x="1235" y="593" fill="#949384"/><rect x="1257" y="593" fill="#a5aa7e"/><rect x="1279" y="593" fill="#b4bc75"/><rect x="1301" y="593" fill="#c0c96d"/><rect x="1323" y="593" fill="#c8d165"/><rect x="1345" y="593" fill="#cdd560"/><rect x="1367" y="593" fill="#d1d75b"/><rect x="1389" y="593" fill="#d6d955"/><rect x="1411" y="593" fill="#dcdb4f"/><rect x="1433" y="593" fill="#e3dd47"/><rect x="1455" y="593" fill="#e8de41"/><rect x="1477" y="593" fill="#ecdf3d"/><rect x="1499" y="593" fill="#eedf3a"/><rect x="1521" y="593" fill="#efdf39"/><rect x="1543" y="593" fill="#f0df3a"/><rect x="1565" y="593" fill="#f0de3d"/><rect x="1587" y="593" fill="#efde40"/><rect x="1059" y="615" fill="#552173"/><rect x="1081" y="615" fill="#552274"/><rect x="1103" y="615" fill="#572575"/><rect x="1125" y="615" fill="#592a78"/><rect x="1147" y="615" fill="#5e347c"/><rect x="1169" y="615" fill="#664481"/><rect x="1191" y="615" fill="#725b85"/><rect x="1213" y="615" fill="#827687"/><rect x="1235" y="615" fill="#949184"/><rect x="1257" y="615" fill="#a5a97e"/><rect x="1279" y="615" fill="#b4bb76"/><rect x="1301" y="615" fill="#c0c86e"/><rect x="1323" y="615" fill="#c8d067"/><rect x="1345" y="615" fill="#cdd461"/><rect x="1367" y="615" fill="#d2d75b"/><rect x="1389" y="615" fill="#d7d956"/><rect x="1411" y="615" fill="#dddb4f"/><rect x="1433" y="615" fill="#e4dd47"/><rect x="1455" y="615" fill="#e9de41"/><rect x="1477" y="615" fill="#ecdf3c"/><rect x="1499" y="615" fill="#efdf3a"/><rect x="1103" y="637" fill="#562374"/><rect x="1125" y="637" fill="#582876"/><rect x="1147" y="637" fill="#5d327a"/><rect x="1169" y="637" fill="#654280"/><rect x="1191" y="637" fill="#725985"/><rect x="1213" y="637" fill="#827587"/><rect x="1235" y="637" fill="#949085"/><rect x="1257" y="637" fill="#a5a87f"/><rect x="1279" y="637" fill="#b4ba77"/></g></g></g><g><use href="#bA2" transform="translate(-1,603)"/></g><g clip-path="url(#sA1)"><g fill="none" stroke="#000" stroke-linecap="round" stroke-linejoin="round"><path d="M428,554C420,549 402,533 383,524C363,514 335,505 312,498C288,490 262,483 241,476C219,470 192,462 182,460" stroke-width="3.0"/><path d="M260,496L182,477" stroke-width="3.2"/><path d="M406,590C406,588 412,584 406,580C400,576 378,569 371,565C364,560 374,559 366,554C359,550 343,543 326,537C309,531 288,525 264,519C240,512 196,501 182,498" stroke-width="3.0"/><path d="M261,546C258,545 247,543 241,540C235,537 230,532 224,529C219,527 215,525 208,524C201,522 186,522 182,521" stroke-width="3.5"/><path d="M346,560C340,558 326,551 312,547C298,543 270,537 262,535" stroke-width="4.0"/><path d="M313,476L288,467" stroke-width="1.8"/><path d="M262,450C260,449 258,447 250,443C243,439 229,430 217,427C206,423 188,423 182,422" stroke-width="1.8"/><path d="M426,553C419,543 397,505 383,490C368,476 352,472 340,464C328,457 324,453 312,446C299,438 280,427 264,420C249,412 231,406 217,401C204,395 188,388 182,385" stroke-width="1.8"/><path d="M280,402C276,401 265,397 255,392C245,388 226,382 220,377C213,372 215,365 214,363" stroke-width="1.6"/><path d="M423,501C420,495 414,476 406,464C398,452 384,438 376,429C367,420 365,420 354,412C344,405 325,394 312,386C299,379 289,374 276,368C264,361 242,350 235,346" stroke-width="1.6"/><path d="M380,468C376,464 365,455 352,446C339,436 312,419 304,414" stroke-width="1.6"/><path d="M481,561C476,549 463,509 454,488C444,468 433,452 425,438C417,426 415,420 406,410C397,401 383,391 371,382C359,372 348,362 335,353C323,344 303,333 296,329" stroke-width="1.6"/><path d="M392,427C388,423 381,413 368,403C356,393 325,372 316,365" stroke-width="1.6"/><path d="M419,405C417,399 413,379 406,368C399,357 390,349 378,339C366,329 350,317 335,308C321,300 297,293 289,290" stroke-width="1.8"/><path d="M515,536C513,530 508,510 501,495C494,480 483,463 475,448C467,433 463,422 454,405C444,389 426,357 420,348" stroke-width="1.6"/><path d="M506,580C501,577 487,569 480,561C472,553 468,541 462,533C456,525 448,521 442,512C435,502 427,481 424,475" stroke-width="1.6"/><path d="M515,476C513,470 505,455 501,441C497,427 494,407 490,394C486,380 483,372 477,358C471,344 459,318 456,310" stroke-width="1.6"/><path d="M491,311C489,306 481,290 480,280C478,270 483,256 484,252" stroke-width="1.3"/><path d="M517,385C514,379 504,361 501,346C498,332 499,310 501,299C503,288 509,285 513,280C516,275 522,275 524,268C526,262 524,245 524,240" stroke-width="1.6"/><path d="M529,587C532,586 543,599 546,580C548,562 546,505 546,476C545,447 541,428 541,405C540,382 542,359 543,339C545,320 550,304 550,287C551,271 548,248 548,240" stroke-width="1.8"/><path d="M560,479C560,470 558,447 560,429C562,411 568,388 572,372C576,357 581,347 584,334C586,322 587,303 588,297" stroke-width="1.6"/><path d="M482,576C484,578 491,586 495,592C499,598 504,607 506,613C507,620 506,627 506,630" stroke-width="1.6"/><path d="M366,600C359,598 334,589 324,585C313,581 307,582 302,578C298,574 298,564 298,561" stroke-width="1.5"/><path d="M399,554C403,557 415,565 420,568C426,572 428,573 430,574" stroke-width="3.5"/><path d="M442,585L458,593" stroke-width="4"/><path d="M576,561L593,576" stroke-width="2.5"/><path d="M591,273C592,263 596,238 595,212C595,185 588,129 587,112" stroke-width="1.8"/><path d="M601,247C603,244 607,232 610,226C612,220 616,217 617,212C618,207 616,198 616,195" stroke-width="1.5"/><path d="M627,183C627,178 626,160 624,148C621,136 615,116 613,110" stroke-width="1.8"/><path d="M645,150C646,145 653,129 652,117C651,106 640,88 638,82" stroke-width="1.8"/><path d="M588,84C591,87 599,97 604,100C608,102 613,101 617,98C621,95 626,85 628,82" stroke-width="1.5"/><path d="M634,235C636,230 640,211 643,202C645,193 645,189 647,181C650,173 656,162 659,155C663,148 663,142 669,136C674,130 684,124 692,117C700,110 711,100 716,94C721,88 722,84 723,82" stroke-width="1.5"/><path d="M633,276C634,274 631,269 636,266C640,263 654,260 659,257C664,253 665,250 666,245C668,240 667,231 669,226C671,221 673,217 678,214C683,211 693,209 697,207C701,205 701,204 704,200C707,196 709,188 714,181C718,174 724,167 730,160C736,152 744,144 749,136C754,128 760,122 761,112C761,104 753,87 751,82" stroke-width="1.5"/><path d="M697,280C699,276 706,264 711,254C716,244 721,231 725,221C730,212 734,202 740,198C746,193 754,199 761,193C768,187 777,165 780,160" stroke-width="1.5"/><path d="M743,166C746,164 754,158 761,153C767,147 775,139 782,134C789,129 794,123 803,122C813,121 835,126 841,127" stroke-width="1.5"/><path d="M799,178C799,171 798,148 799,141C799,134 794,134 803,134C812,133 845,137 853,137" stroke-width="1.5"/><path d="M763,254C764,249 765,230 768,224C771,217 776,216 782,214C788,212 798,211 806,209C813,207 822,206 827,202C832,198 830,190 834,186C838,182 844,179 853,178C862,176 880,176 886,175" stroke-width="1.5"/><path d="M797,228C799,229 803,231 806,231C809,230 813,229 816,227C820,226 822,222 827,221C832,220 841,222 844,222" stroke-width="1.5"/><path d="M847,240C850,238 862,234 865,231C868,228 866,228 866,221C866,214 864,194 864,188" stroke-width="1.5"/><path d="M881,241C884,242 896,245 900,242C905,240 907,229 910,224C912,218 914,214 914,212" stroke-width="1.5"/><path d="M914,209L949,263" stroke-width="3.0"/><path d="M929,300C931,301 939,306 943,306C946,307 946,305 949,303C951,301 954,294 957,294C960,295 965,304 966,306" stroke-width="1.5"/><path d="M608,358C609,354 611,339 614,330C618,321 626,313 631,306C636,300 638,292 643,290C647,288 651,292 659,294C667,297 679,301 690,304C701,307 717,310 725,311C734,312 738,314 742,312C746,310 746,303 747,297C748,290 745,279 749,273C753,267 766,265 773,261C779,258 782,253 787,252C791,250 795,251 799,253C803,255 804,260 810,264C817,268 830,270 836,276C843,281 843,287 848,297C853,307 862,323 867,335C872,346 873,357 877,365C880,374 888,381 891,387C894,392 895,398 896,400" stroke-width="1.6"/><path d="M827,259C830,257 841,249 846,247C851,246 850,244 855,250C861,255 872,269 879,278C886,286 890,293 896,300C901,308 907,318 914,323C922,328 931,328 938,332C945,336 952,341 957,346C962,352 965,360 966,363" stroke-width="1.8"/><path d="M767,282C770,282 780,285 787,287C794,290 804,294 810,298C816,302 819,306 822,311C826,316 828,321 832,330C835,339 840,354 844,365C847,377 849,394 851,400" stroke-width="2.5"/><path d="M633,372C637,372 648,372 654,368C661,364 666,356 671,349C676,342 680,331 682,328" stroke-width="1.5"/><path d="M617,375C620,376 632,382 638,384C644,387 648,390 654,391C661,392 672,391 678,389C684,387 688,383 692,377C696,371 699,360 702,354C704,347 702,340 706,337C710,334 717,335 725,335C734,335 747,337 756,337C765,337 772,333 777,332C783,332 789,333 792,333" stroke-width="1.5"/><path d="M588,421C589,417 589,401 591,395C592,390 597,388 598,386" stroke-width="1.6"/><path d="M579,483C581,476 586,450 591,443C595,436 601,442 607,440C613,439 621,438 626,433C631,428 632,418 636,412C640,406 645,402 650,400C654,399 657,400 662,402C666,405 671,411 676,417C680,422 682,431 688,436C693,440 702,441 706,445C711,449 713,453 714,459C714,466 712,476 711,483C710,490 708,495 709,502C709,509 709,518 714,525C718,532 727,544 735,544C743,545 756,532 761,530" stroke-width="1.5"/><path d="M560,514C562,511 569,500 574,497C579,494 584,494 591,495C597,496 606,502 612,504C618,506 622,508 627,508C632,507 639,504 643,502C647,500 650,499 652,497C654,495 656,487 657,488C658,488 658,496 657,502C656,507 652,515 650,521C647,527 644,530 643,537C641,544 642,551 640,561C638,571 635,585 631,596C627,608 619,624 617,629" stroke-width="1.6"/><path d="M617,477C618,474 620,463 621,459C623,456 625,454 628,454C632,454 638,456 640,459C643,462 642,470 644,473C646,477 653,477 654,478" stroke-width="1.5"/><path d="M654,440L669,459" stroke-width="1.5"/><path d="M618,532C619,533 622,534 624,537C625,540 626,542 626,549C626,556 625,574 625,578" stroke-width="1.5"/><path d="M576,561C579,564 587,573 593,577C599,582 609,583 612,587C615,591 613,598 613,600" stroke-width="1.5"/><path d="M683,528C684,532 686,547 688,554C689,560 695,558 691,566C688,573 674,586 666,596C658,607 647,624 643,629" stroke-width="4.5"/><path d="M711,576C716,574 730,568 740,563C749,558 760,553 768,547C776,541 782,533 789,528C796,523 803,518 808,517C813,516 812,522 818,521C823,520 835,516 844,511C852,506 862,492 867,489C873,486 873,490 877,492C880,495 884,502 886,504" stroke-width="4.0"/><path d="M751,592C754,590 760,584 766,580C772,575 780,567 787,563C793,559 801,557 803,556" stroke-width="4.0"/><path d="M671,628C675,625 687,616 692,610C697,605 699,601 702,596C704,592 706,586 706,584" stroke-width="9"/><path d="M697,628C699,626 706,619 711,615C716,611 723,605 725,603" stroke-width="11"/><path d="M714,419C718,420 730,419 737,421C744,424 752,428 756,433C760,438 762,443 763,450C764,456 763,466 762,473C761,480 758,484 756,492C754,500 752,515 753,521C753,526 755,526 761,525C767,524 784,516 789,515" stroke-width="1.7"/><path d="M773,425C773,427 775,433 775,438C775,443 775,451 774,457C773,462 771,465 770,471C770,477 769,488 770,492C772,497 774,497 777,497C781,497 788,491 790,490" stroke-width="1.8"/><path d="M756,339C761,340 777,340 784,342C791,344 792,343 796,351C800,359 804,377 806,391C808,404 808,416 808,431C808,445 807,468 807,478C807,488 806,486 808,489C810,491 815,493 816,494" stroke-width="2.5"/><path d="M832,375C833,380 837,393 839,402C841,412 844,421 844,431C844,440 841,451 839,459C837,468 833,477 832,483C830,488 828,490 829,492C831,494 839,495 841,496" stroke-width="4.0"/><path d="M846,395C847,397 849,401 853,407C856,413 864,421 867,431C871,440 872,456 874,464C877,471 879,473 884,476C888,478 896,481 900,480C904,480 903,477 910,473C916,470 935,462 940,459" stroke-width="3.0"/><path d="M903,393C904,398 910,414 912,421C914,429 914,436 917,440C920,445 923,447 929,447C934,447 944,444 950,440C956,436 964,426 966,424" stroke-width="2.5"/><path d="M912,370C915,373 923,384 927,390C932,395 934,396 938,400C942,404 950,412 952,414" stroke-width="1.8"/><path d="M777,360C779,364 785,375 787,384C789,392 790,405 790,410" stroke-width="2.0"/><path d="M714,378C718,380 730,383 737,388C744,394 754,406 757,410" stroke-width="1.6"/><path d="M712,372C715,371 722,366 725,365C729,363 731,362 735,364C739,365 746,370 749,374C753,378 755,386 756,388" stroke-width="1.6"/><path d="M692,394C694,396 698,407 702,407C705,408 709,398 714,398C718,397 727,404 730,405" stroke-width="1.5"/><path d="M560,629C562,628 565,622 572,622C578,622 595,628 600,629" stroke-width="1.8"/></g><path d="M314,498L329,497L324,509ZM229,489L243,485L240,499ZM284,525L299,522L295,535ZM211,525L227,523L222,536ZM301,544L316,541L313,555ZM245,440L258,441L252,451ZM364,479L377,480L371,490ZM251,391L264,390L260,400ZM370,424L382,427L375,436ZM349,443L361,446L355,455ZM428,444L438,451L429,456ZM367,401L378,405L371,413ZM385,346L397,350L389,358ZM473,444L483,451L473,457ZM464,537L475,544L466,549ZM490,394L498,403L487,406ZM527,266L523,278L515,270ZM543,340L548,352L537,352ZM588,296L592,307L581,306ZM497,595L486,590L495,583ZM316,582L328,581L325,591ZM431,575L415,573L423,562ZM461,595L445,595L451,581ZM597,579L583,576L591,566ZM612,220L613,233L603,229ZM621,140L630,149L619,152ZM653,112L656,124L645,122ZM607,103L595,98L603,91ZM661,151L661,163L652,159ZM700,206L692,215L688,205ZM726,219L727,231L717,227ZM783,133L778,144L771,136ZM806,130L804,143L795,137ZM815,206L806,215L802,205ZM824,223L817,233L812,224ZM865,213L872,223L861,224ZM916,208L917,220L907,216ZM952,301L945,311L940,302ZM763,266L756,276L751,266ZM894,298L883,292L892,286ZM849,392L840,381L853,378ZM746,336L734,341L735,330ZM638,407L638,419L628,415ZM623,507L610,509L613,499ZM631,453L625,464L619,455ZM660,448L649,442L658,435ZM626,558L621,547L632,547ZM598,582L586,578L593,570ZM684,575L687,558L699,568ZM781,535L775,550L766,539ZM773,574L766,589L757,577ZM763,463L758,451L769,452ZM774,459L769,447L780,448ZM843,429L834,416L848,414ZM931,394L919,388L928,382ZM788,391L780,380L792,379ZM743,394L731,390L739,383ZM742,369L729,366L736,357ZM580,624L567,627L570,616Z"/></g><g clip-path="url(#sA2)"><g fill="none" stroke="#000" stroke-linecap="round" stroke-linejoin="round"><path d="M1124,539C1120,541 1110,546 1099,552C1088,558 1066,570 1059,573" stroke-width="4.5"/><path d="M1168,553C1174,550 1194,540 1205,535C1216,531 1222,529 1234,525C1246,520 1265,513 1276,509C1287,506 1296,505 1300,505" stroke-width="5"/><path d="M1204,561C1210,559 1229,550 1240,545C1250,540 1252,539 1267,533C1281,527 1316,512 1326,508" stroke-width="7"/><path d="M1113,628C1125,624 1158,616 1182,609C1205,602 1237,590 1253,585C1268,580 1269,581 1276,578C1284,575 1294,568 1298,566" stroke-width="4"/><path d="M1298,566C1304,564 1325,556 1335,554C1346,552 1354,552 1359,554C1364,556 1367,561 1367,566C1368,571 1365,579 1361,585C1358,591 1348,594 1345,602C1342,609 1345,623 1345,628" stroke-width="1.8"/><path d="M1130,568C1126,571 1116,580 1108,585C1101,590 1093,591 1087,597C1082,602 1077,614 1075,618" stroke-width="1.6"/><path d="M1132,580C1135,582 1140,591 1149,592C1157,593 1168,591 1182,587C1195,583 1215,575 1229,568C1243,562 1253,556 1264,550C1276,543 1290,535 1300,528C1310,521 1322,512 1326,508" stroke-width="5"/><path d="M1222,628C1227,626 1244,619 1253,616C1262,612 1272,608 1276,606" stroke-width="4"/><path d="M1276,606C1279,605 1289,600 1295,598C1301,596 1304,596 1312,597C1319,597 1335,600 1340,600" stroke-width="1.6"/><path d="M1385,602C1386,603 1384,608 1390,609C1395,609 1412,607 1418,605C1424,603 1424,600 1425,599" stroke-width="4"/><path d="M1295,607L1314,607" stroke-width="1.6"/><path d="M1262,473C1266,469 1280,455 1288,448C1296,441 1303,435 1312,429C1320,423 1335,414 1340,411" stroke-width="4"/><path d="M1184,515C1190,514 1210,511 1220,507C1229,503 1238,497 1243,490C1249,484 1247,474 1253,467C1258,459 1268,452 1276,446C1284,439 1292,433 1300,427C1308,421 1317,415 1324,410C1330,405 1330,401 1338,398C1346,395 1359,393 1371,391C1382,389 1395,387 1406,386C1417,386 1429,386 1437,389C1444,391 1447,394 1451,401C1455,407 1459,416 1460,429C1462,442 1461,464 1458,476C1455,488 1448,490 1442,500C1435,510 1424,528 1418,538C1412,548 1408,555 1406,559" stroke-width="2"/><path d="M1290,481C1295,478 1308,468 1316,462C1325,457 1336,452 1342,448C1349,444 1348,442 1357,441C1365,439 1385,437 1394,438C1404,440 1409,442 1413,448C1418,454 1423,464 1423,476C1423,489 1415,516 1413,524" stroke-width="2"/><path d="M1319,482C1323,481 1334,478 1342,476C1350,475 1360,471 1366,473C1372,474 1375,479 1380,486C1385,492 1394,506 1397,510" stroke-width="1.8"/><path d="M1358,420C1363,418 1381,409 1390,408C1398,406 1405,407 1409,410C1412,414 1412,426 1413,429" stroke-width="2"/><path d="M1354,455L1366,467" stroke-width="1.6"/><path d="M1442,415C1441,418 1441,427 1439,436C1438,445 1434,462 1433,467" stroke-width="2.5"/><path d="M1324,508C1328,507 1340,499 1347,502C1354,506 1361,519 1366,528C1371,537 1374,552 1376,557" stroke-width="1.8"/><path d="M1390,576C1393,574 1400,571 1409,568C1417,566 1431,564 1442,561C1452,559 1465,555 1470,554" stroke-width="2"/><path d="M1184,345C1190,342 1213,328 1222,326C1231,324 1238,327 1236,334C1234,342 1214,364 1210,370" stroke-width="1.5"/><path d="M1241,320C1242,321 1248,320 1248,323C1248,325 1245,333 1243,337C1241,341 1237,345 1236,346" stroke-width="1.5"/><path d="M1248,268C1250,266 1258,256 1262,256C1266,257 1268,265 1269,271C1270,276 1269,286 1269,290" stroke-width="1.5"/><path d="M1248,294C1251,297 1262,304 1267,308C1271,313 1274,318 1274,323C1274,327 1270,334 1269,337" stroke-width="1.5"/><path d="M1222,401C1228,396 1248,382 1257,376C1266,370 1272,366 1276,363C1280,360 1280,357 1281,356" stroke-width="1.5"/><path d="M1248,402C1255,398 1277,389 1288,382C1299,374 1309,360 1314,356C1320,352 1318,355 1321,358C1324,361 1329,369 1331,375C1332,380 1330,388 1329,391" stroke-width="1.5"/><path d="M1264,407C1268,404 1282,393 1288,394C1294,394 1297,406 1299,409" stroke-width="1.5"/><path d="M1300,386L1309,381" stroke-width="1.5"/><path d="M1194,438C1199,436 1219,424 1227,422C1234,420 1236,424 1238,427C1241,429 1240,434 1241,436" stroke-width="1.5"/><path d="M1215,448C1216,446 1221,438 1224,436C1228,434 1234,434 1236,434" stroke-width="1.5"/><path d="M1184,488C1186,486 1195,482 1197,476C1199,470 1193,457 1195,453C1196,448 1204,449 1205,448" stroke-width="1.5"/><path d="M1078,455C1081,455 1090,456 1094,455C1098,454 1100,448 1101,447" stroke-width="1.5"/><path d="M1099,464C1105,463 1125,458 1134,456C1144,454 1150,454 1153,454" stroke-width="1.5"/><path d="M1059,495L1078,476" stroke-width="1.5"/><path d="M1158,514C1159,512 1163,506 1163,500C1162,494 1158,482 1156,476C1153,471 1153,469 1149,468C1144,467 1137,471 1130,473C1123,475 1110,480 1106,481" stroke-width="1.5"/><path d="M1087,490C1089,492 1093,496 1097,498C1101,499 1107,502 1111,500C1114,498 1117,490 1118,488" stroke-width="1.5"/><path d="M1059,534C1063,532 1073,522 1082,519C1092,515 1108,511 1118,512C1127,512 1136,516 1139,521C1142,526 1135,539 1134,542" stroke-width="1.5"/><path d="M1308,179C1313,174 1326,157 1337,148C1347,138 1362,129 1370,122C1378,115 1384,107 1386,104" stroke-width="5"/><path d="M1290,180L1308,179" stroke-width="2"/><path d="M1386,104C1392,103 1412,99 1422,98C1432,98 1438,98 1445,101C1453,104 1462,111 1469,117C1476,124 1483,134 1488,141C1493,148 1498,157 1500,160" stroke-width="2.5"/><path d="M1304,200C1309,196 1326,184 1337,174C1348,164 1364,146 1370,141" stroke-width="5"/><path d="M1370,141C1372,139 1379,134 1386,131C1393,129 1402,126 1412,128C1422,130 1434,134 1445,141C1456,148 1469,161 1478,169C1488,178 1499,188 1503,192" stroke-width="2.8"/><path d="M1304,200C1301,202 1292,211 1290,214C1287,218 1287,218 1290,221C1292,224 1301,229 1304,231" stroke-width="1.8"/><path d="M1374,159C1380,157 1397,150 1405,149C1414,148 1419,148 1426,150C1434,153 1444,159 1452,164C1460,170 1471,179 1475,182" stroke-width="4"/><path d="M1426,167C1430,169 1442,175 1450,181C1458,187 1467,194 1474,202C1481,211 1488,225 1493,231C1497,237 1497,233 1500,238C1503,242 1508,250 1512,259C1515,268 1518,280 1521,294C1524,309 1526,338 1527,346" stroke-width="3"/><path d="M1350,192C1355,192 1369,192 1379,190C1390,190 1402,185 1412,186C1422,186 1434,192 1438,193" stroke-width="2.5"/><path d="M1334,211C1338,210 1348,205 1356,205C1363,205 1371,210 1379,211C1387,211 1395,207 1403,208C1411,210 1417,216 1426,219C1436,222 1451,224 1460,226C1468,228 1475,232 1478,233" stroke-width="2.5"/><path d="M1290,302C1293,302 1302,305 1308,303C1315,300 1321,293 1327,287C1334,282 1339,277 1346,271C1353,265 1362,258 1370,252C1378,246 1384,239 1393,235C1402,232 1418,230 1423,230" stroke-width="1.8"/><path d="M1402,250C1405,249 1414,246 1422,245C1430,244 1441,240 1450,241C1460,243 1470,249 1478,254C1486,260 1495,272 1498,276" stroke-width="3"/><path d="M1372,260C1376,261 1387,264 1393,265C1400,266 1405,266 1412,266C1419,266 1428,264 1436,265C1444,266 1454,268 1462,271C1470,274 1478,280 1486,285C1493,290 1502,298 1506,300" stroke-width="2.5"/><path d="M1350,293C1353,294 1365,296 1372,294C1379,293 1385,287 1393,285C1402,283 1412,280 1422,280C1431,280 1441,282 1450,284C1460,286 1474,292 1478,293" stroke-width="2"/><path d="M1360,297C1362,298 1365,302 1367,306C1369,311 1369,321 1372,325C1376,329 1382,332 1389,331C1395,330 1404,322 1412,318C1421,314 1430,310 1441,309C1451,307 1470,308 1476,307" stroke-width="4.5"/><path d="M1377,339C1380,341 1385,349 1393,349C1402,348 1416,340 1426,337C1438,333 1451,329 1460,328C1468,326 1475,330 1478,330" stroke-width="5"/><path d="M1331,324C1331,327 1326,340 1330,344C1333,349 1343,349 1351,351C1358,354 1366,357 1374,358C1383,359 1395,358 1403,357C1411,356 1412,355 1422,355C1431,354 1452,352 1460,354C1467,355 1466,358 1467,365C1467,373 1465,394 1464,400" stroke-width="2"/><path d="M1481,318C1484,321 1498,329 1502,335C1506,340 1507,346 1507,354C1507,361 1506,369 1502,377C1498,385 1488,396 1486,400" stroke-width="2.5"/><path d="M1320,233C1322,235 1331,240 1332,245C1333,249 1328,256 1327,259C1327,263 1327,265 1330,266C1332,267 1340,264 1341,264" stroke-width="2"/><path d="M1280,377C1286,374 1306,359 1313,356C1320,352 1317,354 1320,356C1323,358 1330,365 1332,370C1334,375 1333,384 1333,387" stroke-width="1.6"/><path d="M1490,81C1491,85 1490,97 1493,105C1495,114 1502,121 1507,129C1512,137 1517,145 1521,155C1525,165 1527,175 1530,188C1534,202 1537,223 1540,235C1543,248 1546,254 1547,264C1548,274 1547,284 1547,294C1547,305 1545,320 1545,325" stroke-width="2.5"/><path d="M1547,81C1549,87 1553,103 1556,117C1560,131 1564,149 1566,164C1568,180 1568,196 1569,212C1570,228 1571,242 1572,259C1572,276 1573,306 1573,316" stroke-width="3"/><path d="M1575,81C1577,87 1583,103 1587,117C1591,131 1596,149 1599,164C1602,180 1606,196 1607,212C1609,228 1609,243 1610,259C1610,275 1609,292 1608,306C1607,320 1605,332 1604,342C1602,352 1600,361 1599,365" stroke-width="3"/><path d="M1628,175C1630,181 1633,200 1634,212C1636,223 1637,233 1638,245C1639,257 1640,269 1640,283C1641,296 1640,320 1640,328" stroke-width="3"/><path d="M1642,150C1643,157 1650,174 1653,188C1657,202 1660,220 1663,235C1665,251 1667,267 1668,283C1668,298 1668,314 1668,330C1667,346 1664,365 1663,377C1661,389 1658,396 1657,400" stroke-width="3.5"/><path d="M1680,160C1682,165 1688,180 1691,193C1694,206 1698,220 1700,235C1703,250 1704,267 1705,283C1706,298 1706,314 1705,330C1704,346 1702,365 1700,377C1699,389 1697,396 1696,400" stroke-width="3.5"/><path d="M1642,372L1634,400" stroke-width="4"/><path d="M1336,398C1342,397 1362,391 1374,389C1387,387 1402,386 1412,387C1422,387 1430,391 1436,394C1441,396 1444,399 1445,400" stroke-width="2"/><path d="M1543,329C1541,334 1535,348 1529,362C1523,375 1515,393 1508,409C1500,425 1493,440 1484,456C1475,472 1463,491 1454,504C1445,516 1434,527 1430,532" stroke-width="2.5"/><path d="M1573,314C1572,319 1571,330 1567,343C1563,356 1555,373 1548,390C1541,407 1533,428 1524,444C1516,461 1506,476 1496,492C1486,508 1471,532 1465,540" stroke-width="2.5"/><path d="M1600,362C1597,370 1591,393 1584,409C1576,425 1567,440 1558,456C1548,472 1536,490 1524,504C1513,517 1499,528 1489,539C1479,550 1469,566 1465,572" stroke-width="2.5"/><path d="M1640,372C1638,378 1634,397 1628,409C1623,421 1617,432 1610,444C1602,457 1593,473 1584,487C1574,501 1565,514 1553,527C1541,540 1527,552 1513,563C1498,573 1473,586 1465,591" stroke-width="4"/><path d="M1657,400C1654,407 1645,429 1638,444C1631,460 1623,476 1614,492C1605,508 1595,525 1584,539C1572,553 1554,566 1543,574C1533,583 1524,588 1520,591" stroke-width="4"/><path d="M1697,390C1694,397 1687,418 1680,433C1674,448 1665,465 1657,480C1648,495 1641,510 1631,522C1621,535 1601,550 1595,556" stroke-width="3.5"/><path d="M1744,220C1746,228 1754,252 1756,267C1758,283 1759,299 1758,314C1758,330 1757,346 1754,362C1750,378 1745,393 1740,409C1734,425 1726,440 1718,456C1710,472 1699,490 1690,504C1680,517 1672,525 1662,537C1651,548 1634,566 1628,572" stroke-width="3.5"/><path d="M1740,272C1740,277 1740,291 1740,303C1739,315 1738,337 1738,344" stroke-width="4.5"/><path d="M1792,220C1793,225 1796,239 1799,251C1801,262 1804,278 1804,291C1805,304 1804,314 1802,326C1800,338 1793,357 1792,363" stroke-width="3.5"/><path d="M1820,220C1821,226 1827,244 1829,255C1832,267 1834,277 1834,288C1834,300 1832,314 1829,326C1827,339 1820,357 1819,363" stroke-width="4"/><path d="M1776,366C1774,374 1770,398 1766,409C1761,420 1758,422 1751,433C1745,444 1734,461 1725,475C1716,490 1702,513 1697,520" stroke-width="4.5"/><path d="M1800,385C1799,388 1796,394 1794,400C1792,405 1790,410 1787,416C1784,422 1780,426 1775,435C1770,444 1761,464 1758,470" stroke-width="4.5"/><path d="M1844,310C1843,315 1844,331 1842,343C1840,354 1833,372 1832,378" stroke-width="2.5"/><path d="M1770,220L1775,248" stroke-width="2.5"/><path d="M1454,603L1480,606" stroke-width="1.5"/></g><path d="M1086,559L1096,544L1104,558ZM1245,543L1232,559L1223,542ZM1275,529L1262,546L1254,528ZM1285,573L1276,587L1268,574ZM1107,586L1112,575L1119,584ZM1282,604L1271,616L1265,603ZM1422,605L1409,614L1407,599ZM1308,607L1296,613L1296,602ZM1290,446L1285,461L1274,451ZM1334,402L1328,414L1321,405ZM1323,459L1315,469L1310,459ZM1364,473L1353,480L1351,469ZM1399,409L1387,413L1388,402ZM1361,462L1350,458L1357,450ZM1438,443L1434,430L1446,431ZM1240,337L1228,336L1233,326ZM1243,338L1241,326L1251,329ZM1271,275L1261,267L1271,262ZM1269,338L1267,326L1277,329ZM1261,373L1255,384L1249,375ZM1301,369L1297,381L1289,373ZM1290,392L1283,402L1278,393ZM1311,379L1305,390L1299,381ZM1229,421L1221,431L1216,421ZM1227,433L1224,445L1215,438ZM1201,473L1196,484L1189,476ZM1102,446L1099,458L1091,451ZM1138,455L1128,463L1126,453ZM1081,473L1077,485L1069,477ZM1109,480L1118,471L1121,481ZM1115,501L1103,504L1105,493ZM1110,513L1100,521L1098,510ZM1389,101L1384,118L1372,107ZM1375,135L1370,152L1358,141ZM1432,151L1417,157L1418,142ZM1493,232L1480,224L1491,217ZM1384,190L1372,197L1371,185ZM1408,208L1396,215L1395,203ZM1354,265L1348,277L1341,268ZM1457,245L1443,245L1448,233ZM1444,267L1430,270L1433,258ZM1401,324L1391,339L1384,325ZM1405,357L1393,363L1393,352ZM1336,249L1324,245L1332,236ZM1313,356L1307,367L1301,357ZM1544,328L1539,315L1552,316ZM1573,317L1566,303L1579,303ZM1599,365L1595,350L1608,353ZM1639,251L1631,239L1644,237ZM1697,396L1693,381L1706,384ZM1570,327L1567,313L1579,316ZM1596,374L1594,360L1606,364ZM1593,471L1595,454L1607,462ZM1652,412L1650,396L1664,401ZM1693,402L1691,386L1704,391ZM1754,356L1749,341L1763,343ZM1740,310L1732,295L1747,295ZM1800,257L1790,245L1804,241ZM1835,293L1825,280L1840,277ZM1746,442L1747,425L1760,433ZM1783,424L1782,407L1796,413ZM1842,345L1836,333L1849,333ZM1484,607L1472,611L1473,600Z"/></g><g clip-path="url(#sA3)"><g fill="none" stroke="#000" stroke-linecap="round" stroke-linejoin="round"><path d="M789,830C788,830 783,829 780,828C777,828 774,827 770,827C767,827 764,828 761,828C758,828 755,827 752,826C749,826 746,825 742,824C740,823 735,820 734,820" stroke-width="0.9"/><path d="M611,1214C610,1215 608,1218 607,1220C606,1222 605,1224 604,1227C604,1229 603,1231 602,1233C601,1236 600,1238 600,1240C600,1243 599,1245 599,1247C599,1250 600,1253 600,1255" stroke-width="0.9"/><path d="M849,999C848,998 847,995 847,993C846,990 845,988 845,986C844,984 844,982 844,979C844,977 844,975 845,972C845,970 846,968 848,966C849,965 852,963 853,962" stroke-width="0.9"/><path d="M714,857C713,856 708,851 705,847C703,843 701,838 700,834C698,830 696,826 695,821C694,817 692,812 692,808C693,803 694,798 696,794C698,790 701,784 702,782" stroke-width="0.9"/><path d="M740,1065C739,1066 736,1069 733,1071C730,1073 728,1075 725,1076C723,1078 721,1080 718,1082C716,1084 713,1086 711,1088C709,1090 707,1093 705,1096C703,1098 702,1103 701,1104" stroke-width="0.9"/><path d="M652,908C652,910 653,914 653,918C653,921 652,925 651,928C649,930 647,933 644,935C642,938 640,940 637,942C634,944 631,945 628,946C624,946 619,945 618,945" stroke-width="0.9"/><path d="M392,994C393,994 396,994 397,994C399,994 401,995 402,996C404,996 405,997 407,998C408,999 409,1000 411,1001C412,1002 413,1004 414,1005C415,1006 417,1008 417,1009" stroke-width="0.9"/><path d="M336,970C335,970 331,971 328,972C325,972 322,972 320,973C317,974 314,974 311,975C308,975 306,976 303,977C300,978 298,980 296,982C294,984 291,987 290,988" stroke-width="0.9"/><path d="M381,1159C380,1159 378,1157 376,1156C375,1154 374,1153 372,1152C370,1151 368,1150 366,1150C364,1150 362,1150 360,1150C358,1150 356,1151 355,1151C353,1152 350,1153 349,1153" stroke-width="0.9"/><path d="M600,781C599,783 599,789 599,793C599,798 599,802 600,806C600,810 602,813 603,817C604,821 606,825 608,828C609,832 611,836 613,839C615,843 619,847 620,849" stroke-width="0.9"/><path d="M662,1145C663,1146 666,1146 668,1146C669,1146 671,1146 673,1145C674,1145 676,1145 678,1144C679,1144 681,1144 683,1144C684,1143 686,1143 688,1142C689,1142 692,1140 692,1140" stroke-width="3.0"/><path d="M697,908C696,908 692,907 689,906C686,905 684,905 681,904C679,902 676,901 674,899C672,897 671,895 669,893C667,891 665,889 663,887C661,885 660,881 659,880" stroke-width="0.9"/><path d="M773,920C773,921 774,924 774,926C774,927 774,929 773,930C772,932 771,934 770,935C770,936 768,938 767,939C766,940 765,942 764,943C763,944 761,946 760,946" stroke-width="3.0"/><path d="M585,899C584,900 582,903 580,905C579,907 578,909 576,911C575,913 575,915 574,917C572,919 571,921 570,923C568,925 567,927 566,929C564,931 562,933 561,934" stroke-width="0.9"/><path d="M718,1157C719,1157 723,1156 726,1156C729,1156 732,1156 734,1156C737,1157 739,1159 742,1160C744,1162 747,1163 749,1164C751,1166 753,1169 755,1171C756,1173 759,1176 760,1177" stroke-width="0.9"/><path d="M347,1113C345,1112 339,1109 335,1107C331,1106 326,1105 322,1104C318,1103 313,1101 309,1100C305,1099 300,1098 296,1096C292,1095 288,1093 284,1092C280,1090 274,1086 272,1086" stroke-width="0.9"/><path d="M450,1032C450,1031 451,1026 451,1023C451,1020 450,1018 450,1015C450,1012 449,1009 449,1006C449,1003 449,1000 449,997C450,994 450,991 451,988C452,986 454,982 454,980" stroke-width="0.9"/><path d="M773,745C775,744 779,744 782,744C785,744 788,744 791,744C794,744 797,745 800,746C802,746 805,748 808,749C810,750 813,751 816,753C818,754 821,758 822,759" stroke-width="0.9"/><path d="M349,1034C350,1034 356,1034 359,1034C363,1035 366,1035 370,1035C373,1036 376,1036 380,1037C383,1038 387,1039 390,1040C393,1040 397,1041 400,1042C404,1042 409,1043 410,1043" stroke-width="0.9"/><path d="M536,1053C534,1051 529,1046 525,1043C521,1041 517,1038 512,1036C508,1034 503,1033 499,1031C494,1030 490,1028 486,1025C481,1023 478,1020 473,1018C469,1016 462,1014 460,1014" stroke-width="0.9"/><path d="M641,1021C641,1022 642,1025 643,1026C643,1028 644,1030 644,1031C645,1033 646,1034 648,1035C649,1036 651,1037 652,1038C654,1039 655,1040 656,1041C658,1042 660,1043 661,1043" stroke-width="0.9"/><path d="M579,1133C581,1134 588,1136 592,1138C597,1139 602,1141 606,1142C611,1143 616,1145 620,1144C625,1144 630,1144 635,1142C639,1140 643,1136 646,1132C649,1129 653,1123 654,1121" stroke-width="1.5"/><path d="M851,1106C850,1105 848,1102 847,1100C846,1098 845,1096 844,1094C843,1092 842,1090 841,1088C840,1086 839,1084 838,1082C836,1080 834,1079 832,1078C831,1076 829,1073 828,1072" stroke-width="1.5"/><path d="M611,1165C609,1165 605,1167 603,1169C600,1171 599,1173 597,1176C595,1178 593,1180 591,1182C589,1184 587,1187 586,1190C584,1192 582,1194 581,1197C580,1200 579,1204 579,1206" stroke-width="0.9"/><path d="M842,910C841,912 838,916 836,920C834,923 833,927 832,930C831,934 831,938 830,941C830,945 829,948 829,952C829,956 830,960 831,963C831,967 833,972 833,974" stroke-width="0.9"/><path d="M574,956C573,957 573,962 573,965C572,968 571,970 570,973C569,976 569,979 568,982C567,985 565,988 565,991C564,994 563,997 563,1000C563,1003 563,1007 563,1009" stroke-width="0.9"/><path d="M304,1117C305,1116 309,1114 311,1113C314,1112 316,1110 319,1110C321,1109 324,1108 326,1108C329,1107 332,1107 335,1108C337,1108 340,1108 343,1108C345,1109 349,1111 350,1111" stroke-width="1.5"/><path d="M633,1112C635,1113 641,1115 644,1117C648,1119 651,1121 654,1123C658,1125 661,1127 664,1129C667,1132 670,1135 672,1138C675,1141 679,1143 681,1146C683,1149 685,1155 686,1157" stroke-width="1.5"/><path d="M533,1206C535,1206 539,1205 542,1205C545,1205 548,1205 551,1204C554,1204 557,1205 560,1205C563,1205 566,1204 569,1204C572,1205 574,1206 577,1208C579,1209 582,1212 584,1214" stroke-width="0.9"/><path d="M193,1039C191,1038 184,1036 180,1035C176,1034 171,1033 167,1033C163,1034 158,1035 154,1037C150,1038 145,1040 142,1042C138,1045 135,1048 132,1052C130,1055 126,1061 125,1062" stroke-width="0.9"/><path d="M958,993C956,992 949,992 944,990C940,989 936,987 932,986C928,984 924,982 920,980C916,977 911,976 908,973C904,970 902,966 899,963C896,959 892,954 890,952" stroke-width="0.9"/><path d="M578,1008C577,1010 575,1014 575,1018C574,1021 575,1024 575,1028C575,1031 576,1034 576,1038C577,1041 578,1044 579,1047C580,1051 581,1054 583,1056C585,1060 588,1064 588,1065" stroke-width="0.9"/><path d="M969,946C970,945 973,942 976,940C978,938 981,937 983,935C986,933 988,931 990,930C993,928 996,927 998,925C1001,924 1004,923 1007,923C1010,922 1014,921 1016,920" stroke-width="0.9"/><path d="M518,914C520,913 524,910 527,909C531,908 534,907 538,906C542,906 545,905 549,905C552,905 556,906 559,907C563,908 566,910 569,912C572,913 577,917 578,918" stroke-width="0.9"/><path d="M681,1042C683,1042 690,1042 694,1043C698,1044 702,1046 706,1048C709,1050 712,1054 715,1057C718,1060 720,1063 723,1067C725,1071 728,1074 729,1078C730,1082 730,1089 730,1091" stroke-width="1.5"/><path d="M212,973C212,972 213,967 212,964C212,961 210,958 209,955C208,953 206,950 205,947C204,944 203,941 202,938C202,935 201,932 200,929C199,926 197,922 196,921" stroke-width="0.9"/><path d="M888,838C890,839 896,842 900,843C904,845 908,847 912,849C916,851 919,854 923,856C927,859 931,860 935,862C939,864 943,866 946,869C950,871 955,876 957,877" stroke-width="1.5"/><path d="M666,817C665,816 662,814 660,813C659,812 657,810 655,809C654,807 652,806 650,804C649,803 648,800 647,798C646,796 645,794 645,792C644,790 645,786 644,785" stroke-width="0.9"/><path d="M676,865C674,865 668,868 664,869C660,870 656,870 652,870C647,870 643,872 639,871C635,870 631,868 627,866C624,864 620,862 617,858C614,856 611,850 610,848" stroke-width="0.9"/><path d="M751,890C751,888 752,885 752,882C753,880 754,878 754,875C754,873 754,870 755,868C755,865 755,863 756,860C756,858 757,856 758,853C758,851 759,847 759,846" stroke-width="0.9"/><path d="M656,1186C656,1187 656,1189 656,1191C656,1193 655,1194 654,1196C654,1198 653,1199 652,1201C651,1203 651,1204 650,1206C649,1207 647,1209 646,1210C645,1212 644,1214 644,1215" stroke-width="0.9"/><path d="M497,965C496,965 494,968 492,969C490,971 489,972 488,974C486,976 484,977 483,979C482,981 482,983 481,986C480,988 479,990 478,992C477,994 477,997 477,998" stroke-width="0.9"/><path d="M433,902C431,901 425,897 421,894C417,891 414,888 410,885C406,883 401,882 397,880C392,878 389,874 384,873C380,871 375,870 370,870C366,870 358,871 356,871" stroke-width="0.9"/><path d="M548,1158C548,1158 551,1157 552,1155C554,1154 555,1153 555,1151C556,1150 557,1148 557,1146C558,1144 558,1142 558,1141C558,1139 557,1137 556,1136C555,1134 553,1132 553,1132" stroke-width="0.9"/><path d="M595,721C594,722 591,726 590,728C588,731 587,734 586,736C584,739 583,742 582,745C581,748 580,751 579,754C578,756 577,759 576,762C576,765 575,770 574,771" stroke-width="0.9"/><path d="M279,909C278,907 274,900 271,898C267,895 262,894 258,893C253,892 248,891 244,892C239,893 235,896 232,899C229,902 227,907 226,912C225,916 226,923 226,926" stroke-width="0.9"/><path d="M645,746C645,744 643,740 643,736C643,733 644,730 645,727C646,724 648,722 650,719C652,717 655,715 658,714C661,712 664,712 667,712C670,712 675,714 676,714" stroke-width="0.9"/><path d="M830,1052C830,1054 829,1058 828,1060C828,1063 827,1065 826,1068C826,1070 825,1073 824,1075C824,1078 823,1081 823,1083C823,1086 824,1089 824,1091C824,1094 823,1098 823,1099" stroke-width="0.9"/><path d="M284,981C282,979 277,974 274,970C271,966 270,961 269,956C267,951 266,946 266,941C266,936 268,931 270,927C273,922 276,918 279,915C282,911 288,906 290,905" stroke-width="0.9"/><path d="M295,1072C293,1072 286,1071 281,1071C276,1071 271,1071 267,1072C263,1074 258,1076 255,1080C252,1083 250,1088 248,1092C246,1096 244,1101 244,1105C243,1110 245,1117 245,1119" stroke-width="0.9"/><path d="M684,982C684,983 686,985 688,986C690,987 691,988 693,989C694,991 695,992 696,994C697,996 699,997 700,998C701,1000 702,1001 704,1003C704,1004 705,1007 706,1008" stroke-width="0.9"/><path d="M892,1022C893,1021 898,1016 901,1012C904,1009 907,1005 910,1002C914,998 917,996 921,993C925,990 928,987 932,985C936,982 940,980 944,977C948,975 954,972 957,971" stroke-width="3.0"/><path d="M795,976C793,975 789,974 786,973C783,972 781,970 778,968C775,967 772,966 770,964C768,962 766,960 764,957C763,955 762,952 760,949C759,947 757,942 756,941" stroke-width="0.9"/><path d="M619,982C617,981 611,978 608,975C605,972 602,968 601,964C599,960 597,955 597,951C596,947 595,942 596,938C596,934 598,929 600,925C602,922 607,917 609,915" stroke-width="0.9"/><path d="M895,1063C897,1062 904,1058 908,1057C913,1056 918,1055 922,1056C927,1056 932,1058 936,1060C940,1062 944,1064 948,1068C951,1071 954,1075 956,1079C958,1084 959,1091 960,1093" stroke-width="0.9"/><path d="M524,1123C522,1123 516,1122 512,1121C508,1120 504,1119 500,1118C496,1118 492,1118 488,1118C484,1118 480,1120 476,1120C472,1120 468,1119 464,1119C460,1119 454,1120 452,1120" stroke-width="0.9"/><path d="M496,1093C497,1092 499,1090 501,1089C502,1088 504,1086 505,1085C507,1084 508,1083 510,1082C512,1080 513,1079 515,1078C516,1077 518,1076 520,1076C522,1075 525,1075 526,1075" stroke-width="0.9"/><path d="M400,956C401,954 405,949 407,945C410,941 412,937 415,934C418,930 421,927 425,924C429,922 433,920 437,918C441,917 446,915 450,914C454,913 461,913 464,913" stroke-width="1.5"/><path d="M486,1195C486,1197 488,1202 488,1205C488,1208 487,1212 488,1215C488,1219 488,1222 489,1225C489,1229 490,1232 491,1235C491,1239 491,1242 491,1246C491,1249 492,1254 492,1256" stroke-width="0.9"/><path d="M447,960C449,961 456,963 460,966C464,968 467,972 471,976C474,980 478,983 481,987C484,991 487,995 490,999C492,1003 495,1008 497,1012C498,1017 500,1024 500,1027" stroke-width="1.5"/><path d="M396,1083C396,1084 393,1086 391,1087C390,1088 388,1090 387,1091C385,1092 383,1093 381,1095C380,1096 378,1097 376,1099C375,1100 373,1101 372,1103C371,1104 369,1107 369,1108" stroke-width="0.9"/><path d="M348,893C347,894 343,895 340,896C337,896 334,896 332,896C329,896 326,896 323,895C321,895 318,894 315,894C312,894 310,894 307,894C304,894 300,894 298,894" stroke-width="0.9"/><path d="M740,1003C740,1002 738,999 737,996C736,994 735,992 734,990C733,988 731,986 730,984C728,982 726,981 724,980C721,979 719,979 716,979C714,978 710,979 709,979" stroke-width="0.9"/><path d="M794,1069C795,1069 798,1070 800,1070C802,1070 804,1070 806,1071C808,1071 810,1071 812,1071C813,1071 815,1071 817,1071C819,1070 821,1070 823,1070C825,1069 828,1068 828,1068" stroke-width="0.9"/><path d="M938,885C939,883 942,878 944,875C947,873 951,871 954,870C958,868 961,867 965,866C969,865 973,865 976,866C980,866 984,867 988,869C991,870 996,874 997,875" stroke-width="0.9"/><path d="M525,993C525,995 525,998 525,1001C525,1004 525,1006 525,1009C526,1011 526,1014 527,1016C528,1019 528,1021 529,1024C529,1026 530,1029 530,1031C531,1034 531,1038 531,1039" stroke-width="0.9"/><path d="M724,774C725,774 728,772 730,771C731,770 734,770 736,770C738,770 740,770 742,770C744,771 746,771 748,771C750,772 752,773 754,774C756,775 759,777 760,777" stroke-width="1.5"/><path d="M529,753C528,752 526,749 524,747C522,745 521,743 520,741C518,739 516,737 515,735C513,733 512,731 511,728C510,726 510,723 510,721C510,718 510,714 510,713" stroke-width="0.9"/><path d="M885,945C886,943 888,938 889,934C890,931 890,927 891,924C892,920 894,917 894,913C895,910 894,906 894,902C894,899 894,895 893,891C892,888 890,883 889,881" stroke-width="0.9"/><path d="M462,839C464,839 472,840 476,842C480,843 484,846 488,848C493,850 497,852 501,854C505,857 508,861 511,864C515,867 518,870 522,874C525,877 529,883 530,885" stroke-width="0.9"/><path d="M428,1180C426,1181 421,1184 418,1186C414,1188 411,1189 407,1190C403,1191 399,1191 395,1191C392,1190 388,1189 384,1188C380,1187 376,1185 374,1183C371,1180 368,1175 367,1173" stroke-width="0.9"/><path d="M450,1086C451,1086 453,1085 455,1085C457,1085 458,1086 460,1086C462,1086 464,1086 465,1087C467,1087 468,1088 470,1089C472,1090 473,1090 475,1091C477,1091 479,1092 480,1092" stroke-width="3.0"/><path d="M685,1100C686,1099 689,1095 692,1092C694,1090 696,1087 699,1085C702,1082 705,1081 708,1079C710,1077 714,1076 717,1074C720,1073 723,1071 726,1070C729,1068 733,1065 735,1064" stroke-width="0.9"/><path d="M607,826C607,825 608,822 608,820C609,818 609,816 610,814C610,812 611,810 612,808C613,806 614,804 615,803C616,801 618,800 619,798C620,796 622,794 623,793" stroke-width="0.9"/><path d="M490,797C490,796 487,795 486,793C484,792 483,790 482,789C481,787 480,786 479,784C478,783 477,781 476,779C475,777 475,775 474,774C474,772 472,769 472,768" stroke-width="0.9"/><path d="M849,813C849,812 847,808 846,806C845,803 844,800 844,797C843,795 841,792 840,790C839,787 838,784 837,782C836,779 834,777 833,774C832,772 831,768 831,766" stroke-width="0.9"/><path d="M391,1045C390,1043 388,1036 387,1032C386,1027 386,1022 386,1018C385,1013 386,1008 386,1003C386,998 387,994 387,989C386,984 386,980 385,975C384,970 382,964 381,961" stroke-width="1.5"/><path d="M625,942C626,942 630,943 632,945C634,946 635,948 637,950C638,952 639,954 640,956C641,958 642,960 643,962C644,965 644,967 645,969C646,972 647,975 648,976" stroke-width="0.9"/><path d="M808,1122C806,1123 798,1125 794,1126C789,1127 784,1128 779,1128C774,1128 769,1127 764,1126C759,1125 754,1126 749,1124C744,1122 741,1118 737,1115C733,1112 728,1106 726,1104" stroke-width="0.9"/><path d="M665,708C667,709 672,711 675,714C678,716 680,719 681,723C683,726 685,730 686,733C686,737 687,741 687,744C687,748 686,752 685,756C685,759 684,765 684,767" stroke-width="0.9"/><path d="M757,810C758,810 760,809 761,808C763,807 764,806 766,805C767,805 769,804 770,804C772,803 774,802 775,802C777,801 779,801 780,801C782,801 784,800 785,800" stroke-width="1.5"/><path d="M474,907C474,906 472,903 470,901C468,900 466,898 465,897C463,895 462,894 460,892C458,891 456,889 454,888C452,887 450,886 448,885C446,884 442,885 441,884" stroke-width="0.9"/><path d="M236,923C236,921 237,914 238,910C240,906 243,902 246,899C249,896 253,894 256,892C260,890 265,889 269,889C273,889 278,889 282,890C286,892 291,896 293,897" stroke-width="0.9"/><path d="M362,936C362,934 361,927 361,922C361,917 361,912 362,908C362,903 362,898 364,894C365,889 367,885 369,880C371,876 373,872 376,868C379,864 385,860 386,858" stroke-width="0.9"/><path d="M474,998C475,996 478,993 480,990C483,988 485,985 487,982C488,979 490,976 491,973C492,970 494,967 494,963C495,960 496,957 496,953C496,950 494,945 493,944" stroke-width="0.9"/><path d="M388,896C389,897 389,900 389,902C390,904 391,906 391,908C391,910 392,912 391,914C391,916 390,918 390,920C390,922 390,924 391,926C391,928 392,931 392,932" stroke-width="0.9"/><path d="M542,884C542,886 539,890 538,893C538,896 538,900 538,903C539,906 540,909 541,912C542,915 542,918 544,921C545,924 546,928 549,930C551,932 555,934 557,935" stroke-width="0.9"/><path d="M246,1048C246,1050 247,1054 247,1056C247,1059 247,1062 247,1065C247,1068 245,1070 245,1073C244,1076 244,1079 244,1082C244,1084 244,1087 244,1090C244,1093 244,1097 244,1098" stroke-width="0.9"/><path d="M309,1017C311,1018 316,1021 319,1023C322,1026 325,1029 327,1033C330,1036 331,1040 332,1044C333,1048 334,1052 335,1056C336,1060 338,1064 338,1068C338,1072 336,1078 336,1080" stroke-width="0.9"/><path d="M670,1223C668,1222 662,1220 658,1220C654,1220 649,1222 645,1222C641,1223 636,1222 632,1223C628,1225 624,1227 621,1229C617,1232 614,1234 611,1237C608,1240 603,1245 602,1246" stroke-width="0.9"/><path d="M219,1092C221,1093 225,1094 228,1096C230,1097 233,1098 236,1099C238,1100 241,1102 244,1103C246,1104 249,1105 252,1105C255,1106 258,1106 261,1106C264,1106 268,1108 270,1108" stroke-width="0.9"/><path d="M444,1132C443,1131 442,1127 440,1125C438,1123 436,1122 434,1120C431,1119 428,1118 426,1117C423,1116 420,1116 418,1116C415,1115 412,1116 410,1116C407,1116 403,1115 402,1115" stroke-width="0.9"/><path d="M894,882C895,884 899,886 902,888C904,890 906,893 909,895C911,897 914,898 917,900C919,903 921,906 923,908C926,910 929,911 931,913C934,915 937,919 939,920" stroke-width="0.9"/><path d="M260,1090C262,1090 267,1091 270,1092C274,1092 277,1092 280,1092C284,1092 287,1093 291,1093C294,1093 298,1093 301,1094C304,1095 307,1096 311,1097C314,1098 318,1100 320,1101" stroke-width="0.9"/><path d="M714,943C712,942 708,939 705,937C702,935 699,933 695,932C692,932 688,932 685,933C681,934 678,935 675,937C672,938 668,940 665,942C663,944 660,949 658,950" stroke-width="1.5"/><path d="M706,1195C706,1193 706,1188 705,1184C704,1181 703,1177 701,1174C700,1171 698,1168 695,1165C693,1163 690,1160 687,1158C684,1157 680,1156 677,1155C673,1154 668,1153 666,1153" stroke-width="0.9"/><path d="M609,1065C610,1064 616,1062 619,1061C623,1060 627,1060 631,1060C634,1059 638,1059 642,1059C646,1058 650,1058 653,1058C657,1058 661,1058 665,1059C669,1059 674,1060 676,1060" stroke-width="0.9"/><path d="M701,736C699,737 692,738 688,740C683,741 679,743 675,745C671,747 667,750 663,753C660,756 656,760 653,763C650,767 648,771 646,776C645,780 646,787 646,790" stroke-width="0.9"/><path d="M638,787C636,788 632,791 628,793C625,796 622,798 619,800C616,802 612,804 609,805C606,807 602,809 599,811C595,812 592,813 588,814C584,815 578,815 576,816" stroke-width="3.0"/><path d="M804,773C805,771 807,765 808,761C810,757 811,752 814,749C816,746 820,742 823,740C827,739 832,738 836,738C840,738 844,740 848,742C852,744 857,748 859,749" stroke-width="0.9"/><path d="M557,785C559,784 562,780 565,778C568,777 572,776 576,775C579,775 583,774 586,775C590,776 593,778 596,779C599,780 603,782 606,783C609,784 614,787 616,788" stroke-width="0.9"/><path d="M526,836C526,837 527,840 527,842C528,844 528,845 529,847C529,849 530,851 529,853C529,854 528,856 528,858C527,860 526,862 525,863C524,864 522,866 521,866" stroke-width="0.9"/><path d="M734,1113C736,1114 742,1116 746,1118C750,1119 754,1121 758,1123C762,1124 766,1125 770,1127C774,1128 778,1130 782,1132C786,1134 790,1136 794,1139C797,1141 802,1146 803,1148" stroke-width="0.9"/><path d="M798,1021C798,1020 797,1016 797,1013C796,1010 796,1007 796,1004C796,1002 797,999 797,996C797,993 797,990 797,987C797,985 797,982 798,979C798,976 799,972 799,971" stroke-width="0.9"/><path d="M249,1136C249,1137 249,1140 249,1143C249,1145 249,1148 249,1150C249,1152 248,1155 248,1157C248,1159 247,1162 247,1164C246,1166 245,1169 244,1171C244,1173 244,1177 244,1178" stroke-width="0.9"/><path d="M785,870C785,871 785,874 784,876C784,878 783,880 783,882C782,883 780,885 780,887C779,888 778,890 778,892C777,894 777,896 776,898C776,900 775,903 774,904" stroke-width="0.9"/><path d="M757,1162C756,1162 752,1162 750,1161C748,1161 745,1160 743,1160C741,1160 739,1160 736,1160C734,1159 732,1159 730,1158C727,1158 725,1157 723,1156C721,1155 718,1153 717,1153" stroke-width="0.9"/><path d="M572,1213C572,1214 569,1216 568,1218C566,1219 565,1221 564,1222C562,1224 561,1225 559,1226C558,1227 556,1229 554,1230C553,1231 551,1232 550,1233C548,1234 545,1235 544,1235" stroke-width="1.5"/><path d="M841,952C840,952 836,951 834,952C832,952 829,953 827,953C825,954 823,955 821,956C819,958 818,959 816,961C815,963 814,965 813,967C812,969 811,973 810,974" stroke-width="0.9"/><path d="M489,1039C488,1038 486,1035 483,1033C481,1031 479,1030 477,1028C475,1026 472,1024 470,1023C468,1021 466,1019 464,1017C461,1016 459,1014 456,1013C454,1012 450,1011 448,1010" stroke-width="0.9"/><path d="M827,852C825,852 819,852 815,853C812,854 808,856 805,857C801,859 798,861 795,864C792,866 789,869 787,872C785,875 783,879 781,882C778,885 774,889 773,890" stroke-width="0.9"/><path d="M907,979C905,979 898,980 893,980C888,980 883,979 879,977C874,976 870,974 866,972C861,970 857,968 854,964C850,961 849,956 847,952C845,948 842,941 841,939" stroke-width="0.9"/><path d="M758,958C758,955 757,948 756,944C756,939 754,934 752,930C751,925 749,921 748,917C746,912 745,908 744,903C743,898 744,893 743,889C742,884 740,877 739,875" stroke-width="0.9"/><path d="M472,1160C471,1160 466,1161 464,1162C460,1162 457,1162 454,1163C451,1163 448,1164 445,1163C442,1162 439,1161 436,1160C434,1158 431,1157 428,1155C426,1153 424,1149 423,1147" stroke-width="1.5"/><path d="M568,1074C569,1074 572,1073 574,1072C576,1071 578,1070 580,1070C582,1069 584,1068 586,1068C589,1068 591,1068 593,1069C595,1070 597,1071 599,1072C600,1073 602,1076 603,1077" stroke-width="0.9"/><path d="M401,1122C400,1123 395,1123 392,1123C389,1124 386,1124 383,1124C380,1124 377,1124 374,1124C371,1124 368,1125 365,1124C362,1123 359,1122 356,1120C354,1119 351,1115 350,1114" stroke-width="0.9"/><path d="M628,864C629,863 633,857 636,853C639,850 642,847 646,844C650,841 654,839 658,838C662,836 667,834 671,833C676,832 681,832 685,833C690,834 696,838 698,839" stroke-width="0.9"/><path d="M649,1071C650,1070 652,1066 654,1064C656,1062 657,1059 658,1056C658,1053 659,1050 659,1047C660,1044 660,1042 660,1039C660,1036 659,1033 658,1030C657,1028 654,1024 653,1023" stroke-width="0.9"/><path d="M304,946C304,946 302,949 301,950C300,952 299,954 298,956C297,958 296,959 294,960C293,962 292,963 290,965C289,966 287,967 285,968C284,969 281,970 280,971" stroke-width="0.9"/><path d="M922,935C924,936 929,938 932,938C936,938 940,937 943,936C946,935 949,933 952,931C955,929 958,927 960,924C962,922 963,918 964,914C964,911 963,906 963,904" stroke-width="0.9"/></g><path d="M756,828L766,823L767,833ZM600,1239L599,1227L608,1230ZM845,968L849,979L839,977ZM694,814L700,823L691,824ZM706,1094L709,1083L716,1089ZM641,939L644,928L651,934ZM408,997L397,999L399,990ZM304,977L312,969L315,979ZM365,1150L376,1148L373,1158ZM610,834L601,826L610,822ZM689,1142L677,1151L675,1138ZM664,888L675,892L668,899ZM764,943L767,929L777,937ZM566,927L568,916L576,922ZM754,1168L743,1166L748,1158ZM302,1098L313,1096L310,1105ZM448,1005L455,1014L445,1015ZM796,744L785,749L785,739ZM398,1041L387,1044L389,1034ZM492,1028L503,1028L499,1037ZM652,1040L641,1035L649,1029ZM620,1144L608,1148L610,1137ZM837,1082L848,1088L839,1094ZM592,1181L595,1170L602,1177ZM830,940L827,929L837,931ZM563,996L562,984L571,988ZM342,1108L330,1112L332,1102ZM671,1137L660,1132L668,1125ZM568,1204L558,1210L558,1200ZM139,1043L147,1035L151,1043ZM913,976L924,976L920,985ZM579,1048L572,1039L581,1037ZM993,927L988,937L982,930ZM552,905L543,911L542,901ZM720,1063L709,1057L718,1051ZM203,939L210,947L201,950ZM922,856L910,855L916,845ZM644,793L653,800L645,805ZM630,867L642,867L638,876ZM755,870L758,881L748,879ZM651,1202L651,1190L660,1195ZM478,991L478,980L487,984ZM406,882L417,884L411,892ZM558,1137L562,1147L552,1147ZM582,745L581,734L590,738ZM244,892L254,888L254,898ZM649,721L648,732L640,726ZM824,1078L821,1067L831,1069ZM275,920L273,931L265,925ZM257,1079L263,1069L268,1078ZM698,997L688,991L696,985ZM921,993L915,1007L906,996ZM764,956L774,961L766,967ZM598,930L600,941L591,938ZM940,1061L929,1063L932,1054ZM489,1118L500,1113L499,1123ZM516,1077L511,1088L504,1080ZM421,928L417,940L409,932ZM491,1238L484,1228L494,1227ZM479,985L468,980L475,973ZM379,1096L385,1086L390,1095ZM314,894L325,891L324,900ZM730,985L740,990L732,996ZM824,1069L815,1076L812,1067ZM972,866L962,871L962,861ZM530,1028L523,1020L532,1017ZM747,771L735,775L736,764ZM511,729L520,736L511,740ZM892,920L895,931L885,929ZM496,852L485,852L489,843ZM384,1188L395,1186L393,1195ZM474,1091L460,1092L465,1080ZM719,1073L712,1082L708,1073ZM619,798L616,809L609,802ZM478,784L489,789L481,795ZM837,782L846,789L836,793ZM386,1009L391,1021L380,1020ZM642,961L633,954L642,950ZM756,1125L767,1122L765,1131ZM686,751L683,740L692,742ZM771,803L764,813L759,803ZM460,892L471,896L464,903ZM273,888L265,895L262,886ZM370,880L370,891L361,888ZM489,976L489,988L480,984ZM390,923L387,912L396,914ZM544,921L536,913L545,910ZM247,1070L242,1060L252,1060ZM331,1041L322,1033L331,1029ZM624,1228L631,1219L635,1228ZM247,1105L235,1104L240,1096ZM419,1116L430,1113L428,1123ZM926,911L915,906L923,900ZM298,1094L287,1098L288,1088ZM674,937L682,928L686,938ZM688,1159L699,1162L692,1169ZM651,1058L641,1064L640,1054ZM664,752L670,742L675,751ZM611,804L619,792L625,804ZM823,741L818,751L812,744ZM592,778L581,778L585,769ZM527,861L525,850L534,853ZM788,1134L777,1135L780,1126ZM797,988L802,999L792,998ZM246,1169L243,1158L252,1160ZM777,891L778,880L786,885ZM735,1159L745,1156L744,1165ZM548,1234L554,1223L561,1232ZM822,955L830,947L833,957ZM463,1017L474,1020L468,1027ZM790,869L793,858L800,865ZM857,966L868,967L863,976ZM746,912L754,920L745,923ZM441,1163L452,1157L452,1168ZM597,1069L586,1073L587,1064ZM370,1124L380,1119L380,1129ZM677,831L668,839L665,830ZM660,1039L664,1050L654,1048ZM292,964L294,953L302,959ZM963,918L964,929L955,926Z"/></g><g clip-path="url(#sA4)"><g fill="none" stroke="#000" stroke-linecap="round" stroke-linejoin="round"><path d="M1721,1091C1721,1089 1719,1086 1718,1083C1717,1081 1717,1078 1716,1076C1715,1073 1714,1071 1712,1068C1711,1066 1710,1063 1709,1061C1708,1058 1707,1056 1706,1053C1705,1051 1704,1047 1704,1046" stroke-width="3.0"/><path d="M1487,928C1487,929 1487,932 1487,934C1487,935 1488,937 1488,939C1489,940 1490,942 1491,943C1492,945 1493,947 1494,948C1494,950 1495,951 1496,953C1498,954 1500,956 1500,957" stroke-width="0.9"/><path d="M1592,782C1594,781 1600,778 1604,778C1608,777 1613,777 1617,778C1621,779 1625,781 1629,783C1633,784 1638,786 1641,789C1644,791 1647,795 1649,799C1651,802 1652,809 1652,811" stroke-width="0.9"/><path d="M1624,938C1623,937 1618,935 1616,933C1613,931 1611,928 1609,926C1607,923 1605,920 1604,917C1603,914 1603,910 1603,907C1604,904 1605,901 1607,898C1608,895 1611,891 1612,890" stroke-width="0.9"/><path d="M1780,830C1781,829 1785,828 1788,828C1790,827 1793,827 1796,828C1798,828 1801,828 1804,830C1806,830 1809,832 1811,834C1813,835 1815,837 1816,839C1818,841 1820,845 1821,846" stroke-width="0.9"/><path d="M1109,1138C1108,1136 1107,1128 1105,1124C1102,1120 1098,1117 1095,1114C1091,1111 1088,1108 1083,1106C1079,1104 1074,1103 1070,1103C1065,1102 1060,1104 1056,1105C1051,1106 1044,1108 1042,1108" stroke-width="0.9"/><path d="M1736,817C1737,819 1738,826 1739,830C1741,834 1743,838 1746,842C1748,846 1751,850 1754,853C1757,857 1761,859 1764,862C1768,865 1771,869 1775,872C1778,874 1785,877 1787,878" stroke-width="3.0"/><path d="M1254,1134C1255,1135 1256,1138 1258,1140C1259,1142 1261,1143 1262,1145C1263,1147 1264,1149 1265,1151C1266,1153 1267,1155 1268,1157C1269,1159 1271,1161 1272,1163C1273,1164 1275,1167 1276,1168" stroke-width="0.9"/><path d="M1665,1093C1667,1092 1673,1090 1678,1090C1682,1090 1686,1090 1690,1090C1694,1090 1699,1091 1702,1092C1706,1093 1710,1096 1714,1098C1717,1101 1720,1103 1723,1106C1726,1109 1731,1113 1732,1115" stroke-width="0.9"/><path d="M1151,1006C1150,1007 1145,1010 1143,1013C1140,1015 1139,1018 1137,1021C1136,1024 1134,1027 1133,1030C1132,1034 1131,1037 1132,1040C1132,1044 1133,1047 1135,1050C1136,1053 1139,1058 1140,1059" stroke-width="0.9"/><path d="M1250,1010C1249,1008 1244,1004 1241,1000C1238,997 1236,994 1234,990C1232,986 1230,982 1228,978C1226,974 1224,971 1222,967C1219,963 1216,960 1214,956C1212,952 1209,947 1208,945" stroke-width="0.9"/><path d="M1223,971C1222,971 1218,972 1215,973C1213,973 1210,974 1207,973C1205,973 1202,972 1200,971C1197,970 1195,969 1192,967C1190,966 1188,965 1185,964C1183,962 1180,960 1178,959" stroke-width="0.9"/><path d="M1385,973C1385,974 1386,977 1387,978C1388,980 1389,982 1389,984C1389,986 1389,988 1388,990C1388,992 1388,994 1387,996C1387,998 1387,1000 1386,1002C1385,1004 1383,1006 1383,1007" stroke-width="0.9"/><path d="M1600,736C1600,739 1598,745 1597,749C1596,754 1594,758 1592,762C1590,766 1589,770 1586,774C1584,778 1581,781 1579,785C1576,789 1574,793 1572,796C1569,800 1564,804 1562,806" stroke-width="0.9"/><path d="M1349,1202C1351,1202 1356,1205 1361,1205C1365,1206 1369,1206 1373,1205C1377,1205 1381,1204 1385,1202C1389,1201 1393,1200 1397,1198C1401,1196 1404,1194 1407,1190C1410,1187 1412,1181 1413,1180" stroke-width="0.9"/><path d="M1733,1038C1735,1037 1740,1034 1744,1032C1747,1030 1750,1027 1752,1024C1755,1021 1758,1018 1760,1014C1761,1011 1763,1007 1763,1003C1763,999 1763,995 1761,991C1760,987 1757,982 1756,980" stroke-width="0.9"/><path d="M1287,809C1286,809 1282,810 1280,809C1277,809 1275,808 1272,808C1270,808 1267,807 1265,807C1262,806 1260,805 1257,805C1255,804 1252,804 1250,804C1247,804 1244,804 1242,804" stroke-width="3.0"/><path d="M1384,717C1385,719 1389,725 1391,729C1393,733 1395,738 1396,742C1396,747 1396,752 1396,756C1395,761 1394,766 1392,770C1390,774 1386,778 1383,780C1379,782 1372,784 1369,784" stroke-width="0.9"/><path d="M1625,824C1626,823 1630,819 1633,818C1636,817 1639,816 1642,816C1645,816 1648,816 1652,816C1655,817 1658,818 1661,818C1664,819 1667,819 1670,819C1674,820 1678,821 1680,821" stroke-width="0.9"/><path d="M1759,781C1757,780 1752,780 1749,780C1746,779 1743,778 1740,777C1736,776 1733,775 1730,774C1727,773 1724,772 1721,771C1718,770 1715,768 1712,767C1709,766 1704,765 1702,764" stroke-width="0.9"/><path d="M1373,1052C1374,1051 1380,1049 1383,1047C1386,1045 1388,1042 1391,1039C1394,1037 1396,1034 1398,1031C1401,1028 1402,1024 1404,1020C1405,1017 1407,1013 1407,1010C1407,1006 1404,1000 1403,999" stroke-width="3.0"/><path d="M1537,1185C1538,1185 1540,1183 1542,1182C1544,1182 1546,1180 1547,1180C1549,1179 1551,1178 1553,1178C1555,1177 1557,1177 1559,1177C1561,1177 1563,1176 1565,1176C1567,1176 1570,1177 1571,1177" stroke-width="0.9"/><path d="M1398,822C1397,821 1393,818 1390,817C1386,816 1383,816 1380,816C1377,817 1374,818 1371,819C1368,821 1365,822 1362,824C1360,826 1357,827 1354,829C1351,830 1347,833 1346,834" stroke-width="0.9"/><path d="M1592,867C1592,868 1594,873 1596,876C1597,879 1599,882 1601,885C1603,887 1606,889 1609,890C1612,892 1615,893 1618,894C1622,895 1625,897 1628,897C1631,897 1636,897 1638,896" stroke-width="0.9"/><path d="M1827,884C1826,884 1822,882 1819,881C1816,880 1814,880 1811,879C1808,878 1805,877 1802,876C1800,875 1797,874 1794,874C1791,873 1788,872 1785,871C1782,870 1779,868 1777,868" stroke-width="0.9"/><path d="M1293,1041C1294,1039 1297,1034 1298,1030C1298,1026 1298,1022 1299,1018C1299,1015 1300,1011 1300,1007C1300,1003 1300,999 1300,996C1299,992 1299,988 1298,984C1298,980 1299,974 1299,972" stroke-width="0.9"/><path d="M1272,1214C1274,1216 1279,1219 1283,1221C1287,1223 1291,1225 1295,1226C1300,1227 1304,1226 1308,1226C1313,1226 1317,1226 1322,1226C1326,1225 1330,1223 1334,1221C1338,1220 1344,1216 1346,1215" stroke-width="0.9"/><path d="M1791,927C1789,925 1783,921 1779,919C1774,918 1769,916 1765,916C1760,916 1755,916 1750,917C1746,917 1741,917 1736,918C1732,919 1727,921 1723,923C1718,925 1712,929 1710,930" stroke-width="0.9"/><path d="M1371,1140C1369,1141 1364,1146 1360,1148C1355,1150 1350,1151 1346,1150C1342,1150 1337,1148 1333,1145C1330,1142 1326,1139 1324,1135C1322,1131 1321,1126 1321,1121C1321,1117 1324,1110 1325,1108" stroke-width="3.0"/><path d="M1550,1054C1549,1055 1545,1058 1543,1060C1542,1063 1540,1066 1539,1068C1537,1071 1537,1074 1536,1077C1534,1079 1533,1082 1532,1085C1532,1088 1532,1091 1532,1094C1532,1097 1531,1101 1531,1103" stroke-width="0.9"/><path d="M1331,880C1333,880 1339,877 1344,876C1348,875 1353,875 1358,875C1362,874 1367,874 1371,874C1376,875 1380,878 1384,880C1388,882 1392,884 1396,887C1400,889 1405,894 1407,895" stroke-width="0.9"/><path d="M1164,1155C1162,1156 1158,1160 1154,1163C1151,1166 1148,1169 1146,1172C1143,1176 1142,1180 1141,1184C1140,1188 1138,1192 1138,1197C1137,1201 1137,1205 1138,1210C1138,1214 1141,1220 1142,1222" stroke-width="3.0"/><path d="M1430,1026C1429,1028 1426,1033 1423,1037C1420,1041 1418,1045 1415,1048C1412,1051 1408,1054 1404,1056C1400,1057 1396,1059 1391,1059C1387,1060 1382,1060 1378,1060C1373,1060 1367,1060 1364,1060" stroke-width="0.9"/><path d="M1294,1125C1296,1125 1298,1125 1300,1124C1302,1124 1304,1123 1306,1122C1308,1121 1310,1121 1312,1120C1314,1119 1315,1117 1317,1116C1318,1115 1320,1114 1322,1114C1324,1113 1327,1112 1328,1111" stroke-width="0.9"/><path d="M1498,757C1497,757 1495,757 1493,757C1491,756 1489,756 1487,756C1485,755 1484,755 1482,755C1480,755 1478,755 1476,755C1474,754 1472,754 1471,754C1469,754 1466,754 1465,754" stroke-width="0.9"/><path d="M1457,1192C1457,1193 1458,1196 1459,1197C1460,1199 1460,1201 1461,1203C1462,1205 1463,1207 1463,1209C1464,1210 1465,1212 1465,1214C1466,1216 1466,1218 1467,1220C1467,1222 1468,1225 1468,1226" stroke-width="0.9"/><path d="M1702,994C1701,994 1697,993 1694,992C1692,992 1689,992 1687,991C1684,990 1682,989 1680,988C1677,986 1675,985 1673,983C1671,981 1670,979 1668,977C1666,975 1663,973 1662,972" stroke-width="0.9"/><path d="M1431,707C1432,705 1435,699 1437,695C1439,691 1441,687 1443,683C1445,679 1448,676 1450,672C1453,669 1456,665 1459,662C1462,659 1466,657 1470,655C1474,653 1481,652 1483,651" stroke-width="0.9"/><path d="M1216,1140C1216,1139 1216,1135 1216,1132C1216,1130 1216,1127 1216,1124C1216,1122 1217,1119 1218,1117C1219,1114 1220,1112 1221,1110C1223,1108 1224,1106 1226,1104C1228,1102 1231,1100 1232,1099" stroke-width="0.9"/><path d="M1607,1119C1605,1119 1601,1121 1598,1123C1595,1124 1593,1126 1590,1128C1588,1131 1586,1133 1584,1136C1582,1138 1581,1141 1579,1144C1578,1147 1577,1150 1576,1153C1575,1156 1574,1160 1574,1162" stroke-width="0.9"/><path d="M1632,871C1630,872 1626,874 1623,875C1620,876 1617,876 1614,877C1611,878 1608,878 1605,879C1602,880 1599,880 1596,881C1593,881 1590,881 1587,880C1584,880 1580,879 1578,879" stroke-width="0.9"/><path d="M1447,1127C1448,1126 1451,1125 1454,1124C1456,1124 1458,1124 1460,1123C1462,1122 1464,1121 1466,1120C1468,1119 1470,1118 1472,1117C1474,1116 1476,1116 1478,1115C1480,1114 1483,1113 1484,1113" stroke-width="0.9"/><path d="M1098,1051C1099,1053 1104,1056 1106,1059C1108,1062 1110,1065 1113,1068C1115,1071 1118,1074 1120,1076C1123,1079 1126,1081 1129,1084C1132,1086 1135,1088 1138,1090C1142,1091 1147,1093 1149,1094" stroke-width="0.9"/><path d="M1516,1073C1516,1072 1515,1068 1514,1066C1513,1064 1511,1062 1509,1061C1508,1060 1505,1058 1503,1058C1501,1057 1498,1056 1496,1056C1493,1056 1491,1056 1489,1056C1486,1056 1483,1057 1482,1057" stroke-width="0.9"/><path d="M1400,758C1400,760 1396,765 1394,768C1392,771 1390,775 1389,778C1387,782 1386,785 1384,789C1382,792 1380,795 1378,798C1376,802 1373,805 1371,808C1369,811 1367,817 1366,819" stroke-width="0.9"/><path d="M1625,1161C1626,1162 1631,1164 1634,1166C1637,1168 1640,1170 1642,1172C1645,1174 1647,1177 1650,1179C1653,1181 1655,1183 1658,1185C1661,1187 1664,1188 1667,1190C1670,1192 1674,1195 1676,1196" stroke-width="3.0"/><path d="M1529,718C1530,719 1530,722 1532,724C1533,726 1534,728 1535,730C1537,732 1539,733 1540,734C1542,736 1544,737 1546,738C1548,739 1551,739 1553,739C1555,739 1559,739 1560,739" stroke-width="0.9"/><path d="M1509,968C1507,968 1503,968 1500,968C1496,967 1494,966 1491,965C1488,964 1485,962 1482,961C1480,959 1478,956 1475,954C1473,952 1471,950 1469,948C1467,945 1464,941 1464,940" stroke-width="0.9"/><path d="M1507,820C1506,820 1502,823 1499,824C1496,826 1494,829 1492,831C1489,833 1486,835 1484,836C1481,838 1478,839 1475,841C1472,842 1469,843 1466,844C1463,845 1458,846 1457,847" stroke-width="0.9"/><path d="M1731,938C1730,936 1727,932 1725,929C1724,925 1723,922 1722,918C1722,915 1721,912 1721,908C1720,905 1720,901 1719,898C1718,894 1718,891 1718,887C1718,884 1718,878 1718,877" stroke-width="0.9"/><path d="M1545,1107C1544,1106 1543,1102 1542,1099C1542,1096 1541,1094 1540,1091C1540,1088 1540,1085 1540,1082C1540,1079 1541,1076 1541,1074C1542,1071 1543,1068 1544,1065C1545,1063 1547,1059 1548,1058" stroke-width="3.0"/><path d="M1770,1054C1769,1053 1766,1049 1764,1048C1762,1046 1758,1046 1756,1045C1753,1044 1750,1042 1747,1042C1744,1042 1741,1042 1738,1042C1735,1042 1732,1043 1729,1044C1726,1045 1722,1046 1721,1047" stroke-width="0.9"/><path d="M1531,904C1532,903 1536,900 1537,897C1538,894 1538,890 1538,887C1538,884 1537,881 1537,878C1536,875 1536,872 1535,869C1533,866 1531,863 1529,861C1526,859 1522,857 1521,856" stroke-width="0.9"/><path d="M1563,1001C1564,1002 1566,1008 1568,1011C1570,1014 1572,1017 1574,1020C1576,1023 1579,1026 1582,1028C1584,1031 1587,1034 1590,1036C1593,1038 1596,1040 1600,1041C1603,1042 1609,1042 1611,1043" stroke-width="0.9"/><path d="M1460,770C1459,771 1455,775 1453,777C1451,780 1450,783 1448,786C1447,789 1445,792 1444,794C1442,797 1440,800 1438,802C1436,804 1433,807 1431,809C1429,812 1426,815 1425,816" stroke-width="0.9"/><path d="M1217,1073C1218,1073 1221,1073 1223,1072C1225,1072 1227,1072 1229,1072C1231,1072 1233,1071 1235,1072C1237,1072 1238,1072 1240,1073C1242,1073 1244,1073 1246,1073C1248,1073 1251,1075 1252,1075" stroke-width="0.9"/><path d="M1692,840C1694,840 1701,840 1706,838C1710,837 1714,834 1718,831C1721,828 1725,825 1728,822C1731,818 1734,814 1735,810C1737,806 1738,801 1738,796C1737,792 1734,785 1734,783" stroke-width="0.9"/><path d="M1673,962C1675,962 1683,960 1687,961C1692,962 1698,963 1702,965C1705,968 1709,973 1710,977C1712,981 1712,987 1712,992C1713,996 1712,1002 1711,1006C1709,1011 1705,1017 1703,1019" stroke-width="0.9"/><path d="M1158,1092C1160,1091 1166,1090 1170,1089C1173,1088 1177,1086 1180,1084C1184,1082 1187,1080 1191,1079C1195,1078 1199,1078 1203,1077C1206,1076 1210,1073 1213,1072C1217,1071 1223,1070 1225,1069" stroke-width="1.5"/><path d="M1290,996C1292,995 1296,991 1298,989C1300,986 1301,983 1303,980C1305,977 1307,974 1307,970C1308,967 1308,964 1308,960C1308,957 1307,953 1305,950C1303,947 1299,944 1298,943" stroke-width="0.9"/><path d="M1720,866C1721,865 1725,861 1728,859C1731,856 1735,854 1738,852C1741,850 1744,848 1747,845C1750,842 1751,839 1754,836C1756,832 1758,829 1760,826C1762,823 1764,817 1764,815" stroke-width="0.9"/><path d="M1620,980C1620,981 1618,986 1618,990C1617,993 1617,996 1618,1000C1618,1003 1620,1006 1621,1009C1622,1012 1625,1015 1627,1017C1629,1020 1632,1022 1635,1024C1637,1025 1642,1028 1643,1028" stroke-width="0.9"/><path d="M1161,1216C1162,1214 1167,1209 1169,1206C1171,1202 1172,1197 1173,1193C1173,1188 1172,1184 1171,1179C1170,1175 1168,1170 1166,1167C1163,1164 1159,1161 1155,1159C1151,1157 1145,1155 1143,1155" stroke-width="0.9"/><path d="M1689,892C1688,893 1688,896 1688,899C1687,901 1687,903 1688,905C1688,907 1689,909 1689,912C1690,914 1691,916 1691,918C1692,920 1692,922 1693,924C1694,926 1695,929 1696,930" stroke-width="0.9"/><path d="M1511,860C1512,860 1514,862 1515,863C1516,864 1517,866 1518,867C1519,868 1521,869 1522,871C1522,872 1523,874 1524,875C1524,877 1525,878 1526,880C1526,882 1526,884 1526,885" stroke-width="0.9"/><path d="M1765,963C1765,962 1768,961 1770,959C1771,957 1772,955 1773,953C1774,951 1775,949 1775,947C1776,945 1777,943 1777,941C1778,939 1779,936 1779,934C1779,932 1778,929 1778,928" stroke-width="0.9"/><path d="M1802,1000C1802,999 1803,994 1804,990C1804,987 1804,984 1803,980C1802,977 1800,974 1799,972C1797,968 1796,966 1794,963C1792,960 1789,958 1787,955C1785,953 1782,949 1781,947" stroke-width="0.9"/><path d="M1569,941C1569,942 1569,944 1570,946C1570,948 1571,950 1571,951C1572,953 1572,955 1573,957C1573,958 1573,960 1573,962C1574,964 1574,966 1575,967C1576,969 1577,971 1578,972" stroke-width="0.9"/><path d="M1589,1047C1588,1047 1584,1048 1582,1048C1579,1048 1577,1048 1574,1048C1572,1047 1570,1046 1567,1045C1565,1045 1562,1044 1560,1044C1558,1043 1555,1042 1553,1042C1551,1041 1547,1040 1546,1039" stroke-width="0.9"/><path d="M1190,1183C1192,1184 1199,1185 1204,1185C1209,1186 1214,1186 1219,1187C1223,1188 1228,1189 1233,1191C1237,1193 1241,1196 1245,1198C1249,1201 1254,1203 1258,1205C1263,1207 1270,1209 1272,1210" stroke-width="0.9"/><path d="M1480,1041C1480,1042 1482,1048 1484,1051C1486,1054 1488,1058 1490,1061C1492,1064 1495,1066 1498,1068C1502,1070 1505,1071 1509,1072C1513,1072 1517,1072 1520,1071C1524,1070 1529,1067 1531,1067" stroke-width="0.9"/><path d="M1660,795C1660,794 1661,792 1661,790C1662,788 1662,786 1662,785C1662,783 1662,781 1662,779C1662,778 1662,776 1662,774C1662,772 1663,770 1663,769C1663,767 1664,764 1664,764" stroke-width="0.9"/><path d="M1641,728C1641,728 1639,726 1638,724C1636,723 1635,722 1634,721C1632,720 1631,718 1630,717C1628,716 1627,715 1626,714C1624,713 1622,712 1621,712C1619,711 1617,710 1616,710" stroke-width="1.5"/><path d="M1106,1178C1105,1180 1104,1186 1102,1190C1101,1194 1099,1198 1097,1202C1095,1206 1093,1209 1090,1212C1086,1215 1082,1217 1078,1218C1074,1219 1070,1219 1066,1218C1062,1217 1057,1213 1055,1212" stroke-width="0.9"/><path d="M1752,890C1751,889 1748,887 1746,886C1744,884 1742,882 1741,880C1740,878 1739,876 1738,874C1736,872 1735,870 1734,868C1734,865 1734,863 1733,860C1733,858 1733,854 1733,853" stroke-width="0.9"/><path d="M1714,772C1713,770 1711,763 1710,759C1710,754 1710,750 1710,745C1711,741 1712,736 1713,732C1714,727 1715,723 1718,719C1720,715 1723,711 1726,708C1730,705 1736,702 1738,700" stroke-width="0.9"/><path d="M1188,1024C1190,1025 1194,1028 1197,1029C1200,1030 1204,1031 1207,1031C1211,1032 1214,1032 1218,1032C1221,1032 1225,1032 1228,1032C1232,1031 1235,1030 1238,1029C1242,1028 1246,1025 1248,1025" stroke-width="0.9"/><path d="M1528,787C1530,788 1536,790 1540,792C1543,794 1547,796 1550,798C1554,800 1558,803 1561,805C1565,807 1569,809 1572,811C1576,813 1580,814 1584,816C1588,818 1594,820 1596,821" stroke-width="0.9"/><path d="M1629,1059C1627,1060 1622,1064 1618,1066C1615,1069 1611,1071 1608,1073C1604,1075 1600,1078 1597,1080C1593,1082 1590,1085 1586,1087C1582,1089 1578,1091 1574,1093C1571,1095 1566,1100 1564,1101" stroke-width="0.9"/><path d="M1222,1209C1224,1211 1229,1215 1233,1218C1237,1220 1241,1223 1246,1224C1250,1225 1255,1225 1259,1226C1264,1227 1269,1228 1273,1228C1278,1228 1282,1226 1287,1226C1292,1226 1299,1226 1301,1226" stroke-width="1.5"/><path d="M1443,987C1443,986 1444,982 1444,980C1445,977 1446,975 1446,972C1447,970 1448,967 1449,965C1450,962 1450,960 1451,958C1452,955 1453,953 1453,950C1454,948 1455,944 1455,943" stroke-width="3.0"/><path d="M1412,1152C1412,1154 1412,1161 1410,1166C1409,1170 1407,1175 1405,1179C1402,1183 1399,1187 1396,1190C1392,1193 1388,1196 1384,1197C1379,1199 1374,1198 1370,1198C1365,1199 1358,1198 1356,1198" stroke-width="1.5"/><path d="M1069,1134C1071,1134 1077,1133 1081,1133C1085,1133 1088,1133 1092,1133C1096,1134 1100,1135 1103,1137C1107,1139 1110,1141 1112,1144C1116,1146 1118,1149 1121,1152C1124,1154 1128,1159 1129,1160" stroke-width="0.9"/><path d="M1764,1007C1765,1007 1768,1007 1770,1007C1772,1007 1774,1006 1776,1006C1778,1005 1780,1004 1781,1004C1783,1003 1785,1003 1787,1003C1789,1002 1791,1003 1793,1003C1795,1003 1798,1004 1799,1004" stroke-width="0.9"/><path d="M1450,832C1450,830 1449,823 1449,819C1449,814 1450,810 1452,805C1453,801 1455,797 1458,793C1460,790 1464,786 1467,783C1471,780 1475,777 1479,776C1483,775 1490,776 1492,777" stroke-width="0.9"/><path d="M1440,948C1439,946 1435,941 1432,937C1430,934 1427,931 1423,928C1420,926 1416,925 1412,923C1408,922 1404,921 1399,920C1395,919 1391,918 1387,918C1383,918 1376,919 1374,920" stroke-width="1.5"/><path d="M1599,698C1600,696 1601,690 1603,686C1604,683 1607,680 1610,677C1612,674 1616,672 1620,670C1623,668 1627,667 1630,665C1634,664 1638,663 1642,662C1646,661 1652,660 1654,660" stroke-width="1.5"/><path d="M1478,1086C1480,1085 1484,1083 1487,1081C1490,1080 1492,1078 1496,1076C1498,1075 1502,1074 1505,1074C1508,1073 1512,1073 1515,1073C1518,1072 1521,1072 1525,1073C1528,1074 1532,1076 1534,1076" stroke-width="0.9"/><path d="M1414,871C1415,871 1418,872 1420,872C1422,873 1424,873 1425,874C1427,874 1429,874 1431,874C1433,873 1434,873 1436,873C1438,872 1440,872 1442,872C1443,871 1446,870 1447,870" stroke-width="1.5"/><path d="M1486,1144C1488,1144 1493,1144 1497,1144C1500,1144 1504,1144 1507,1144C1511,1143 1514,1142 1517,1141C1521,1140 1524,1139 1527,1137C1530,1136 1533,1134 1536,1132C1539,1130 1542,1125 1543,1124" stroke-width="0.9"/><path d="M1423,1069C1424,1067 1428,1062 1430,1060C1433,1057 1436,1055 1440,1053C1444,1052 1448,1052 1452,1052C1455,1053 1459,1054 1463,1056C1466,1057 1469,1060 1472,1063C1474,1066 1477,1071 1478,1073" stroke-width="0.9"/><path d="M1387,1093C1389,1092 1394,1090 1396,1088C1399,1086 1401,1083 1402,1080C1404,1077 1405,1073 1406,1070C1406,1067 1405,1063 1404,1060C1403,1056 1402,1053 1400,1050C1398,1047 1394,1044 1393,1042" stroke-width="1.5"/><path d="M1082,1088C1081,1086 1080,1081 1079,1078C1078,1075 1078,1071 1076,1068C1075,1065 1073,1062 1071,1059C1069,1056 1067,1053 1065,1050C1064,1047 1063,1044 1061,1041C1059,1038 1056,1034 1054,1033" stroke-width="0.9"/><path d="M1401,930C1400,932 1398,937 1396,940C1394,943 1392,946 1391,950C1389,953 1388,957 1388,961C1388,964 1388,968 1389,972C1390,975 1393,978 1394,982C1396,985 1398,990 1399,992" stroke-width="0.9"/><path d="M1336,1030C1335,1032 1333,1038 1333,1042C1333,1045 1334,1050 1335,1053C1337,1056 1340,1059 1342,1062C1345,1065 1348,1067 1351,1069C1354,1072 1357,1075 1360,1077C1364,1078 1370,1079 1372,1079" stroke-width="1.5"/><path d="M1332,984C1332,985 1334,989 1336,990C1338,992 1340,994 1342,995C1344,996 1347,997 1349,998C1351,999 1354,1000 1356,1001C1358,1002 1360,1003 1363,1004C1365,1004 1369,1004 1370,1004" stroke-width="0.9"/><path d="M1575,1147C1574,1146 1571,1146 1568,1146C1566,1145 1564,1145 1562,1144C1560,1144 1557,1144 1555,1143C1553,1142 1551,1142 1548,1141C1546,1140 1544,1139 1542,1138C1541,1137 1538,1134 1537,1134" stroke-width="0.9"/><path d="M1328,821C1329,822 1333,824 1336,825C1338,826 1341,827 1344,829C1346,830 1349,832 1351,834C1354,836 1356,838 1358,840C1360,842 1362,844 1364,846C1366,849 1369,852 1370,854" stroke-width="3.0"/><path d="M1483,715C1483,713 1485,706 1485,701C1486,697 1486,692 1485,687C1485,683 1483,678 1482,674C1481,670 1480,665 1479,661C1477,656 1476,652 1474,648C1473,643 1470,637 1470,634" stroke-width="0.9"/><path d="M1279,910C1278,910 1273,912 1270,912C1267,913 1264,912 1261,912C1258,912 1255,912 1252,912C1249,911 1246,910 1243,909C1241,907 1238,905 1236,903C1234,900 1232,896 1232,895" stroke-width="3.0"/><path d="M1140,1057C1141,1059 1142,1062 1142,1065C1143,1067 1143,1070 1143,1072C1143,1075 1144,1078 1144,1080C1143,1083 1143,1085 1143,1088C1143,1090 1142,1093 1142,1095C1142,1098 1142,1102 1141,1103" stroke-width="0.9"/><path d="M1362,795C1362,794 1363,791 1363,789C1363,787 1362,785 1362,783C1362,781 1362,779 1362,777C1362,775 1362,773 1362,771C1362,769 1362,767 1362,765C1362,763 1362,760 1362,759" stroke-width="0.9"/><path d="M1561,828C1562,828 1566,829 1568,830C1570,832 1573,833 1575,835C1576,837 1578,839 1579,841C1581,844 1582,846 1583,848C1584,851 1584,853 1584,856C1584,858 1584,862 1584,864" stroke-width="1.5"/><path d="M1793,866C1795,866 1801,866 1804,865C1808,865 1812,863 1815,862C1819,862 1822,860 1826,860C1830,859 1834,859 1837,859C1841,859 1845,859 1848,860C1852,860 1857,862 1859,862" stroke-width="0.9"/><path d="M1269,1170C1271,1170 1277,1171 1281,1170C1285,1170 1288,1168 1292,1166C1296,1164 1299,1162 1302,1159C1305,1157 1307,1154 1310,1151C1313,1148 1315,1144 1318,1141C1320,1138 1324,1134 1326,1132" stroke-width="0.9"/><path d="M1350,921C1350,920 1350,917 1350,915C1350,913 1350,912 1350,910C1350,908 1349,906 1349,904C1348,902 1347,900 1346,899C1345,897 1343,896 1342,895C1340,894 1337,893 1336,893" stroke-width="1.5"/><path d="M1830,937C1829,936 1826,934 1824,932C1822,930 1820,928 1818,926C1816,924 1814,922 1813,920C1811,917 1810,915 1809,912C1808,910 1808,907 1807,904C1806,902 1804,898 1803,897" stroke-width="0.9"/><path d="M1311,944C1312,945 1317,948 1319,950C1321,953 1322,956 1322,960C1323,963 1323,966 1324,970C1324,973 1324,977 1323,980C1323,983 1321,986 1320,990C1319,993 1317,998 1316,999" stroke-width="0.9"/><path d="M1326,1151C1327,1152 1329,1153 1330,1155C1332,1156 1333,1157 1335,1158C1336,1160 1338,1161 1339,1162C1341,1164 1342,1165 1344,1166C1346,1166 1348,1167 1350,1167C1352,1168 1354,1169 1355,1169" stroke-width="0.9"/><path d="M1560,693C1560,694 1558,699 1557,702C1555,705 1554,708 1552,711C1550,713 1548,716 1545,717C1542,719 1539,720 1536,721C1533,722 1530,721 1526,720C1523,720 1519,717 1517,717" stroke-width="0.9"/><path d="M1594,910C1594,911 1597,914 1600,915C1602,916 1604,917 1607,918C1609,918 1612,918 1614,918C1617,917 1620,916 1622,915C1624,914 1626,912 1627,910C1629,908 1632,905 1632,904" stroke-width="0.9"/><path d="M1323,769C1324,770 1327,770 1329,770C1331,771 1332,772 1334,773C1336,774 1337,776 1339,777C1340,778 1341,780 1342,781C1344,783 1345,785 1346,786C1346,788 1347,791 1347,792" stroke-width="1.5"/><path d="M1651,1024C1651,1022 1652,1017 1653,1014C1653,1011 1654,1008 1653,1004C1653,1001 1652,998 1651,995C1650,992 1649,989 1647,986C1646,983 1644,980 1642,978C1640,975 1636,972 1635,971" stroke-width="0.9"/><path d="M1694,1061C1692,1061 1686,1058 1683,1056C1679,1055 1675,1054 1671,1052C1667,1051 1664,1050 1660,1048C1656,1047 1652,1046 1648,1045C1644,1044 1640,1044 1636,1043C1632,1043 1626,1041 1624,1040" stroke-width="0.9"/><path d="M1462,893C1460,892 1452,890 1448,889C1443,888 1438,888 1433,887C1428,887 1423,886 1418,886C1413,886 1408,887 1403,888C1398,888 1394,888 1389,888C1384,889 1376,888 1374,888" stroke-width="0.9"/><path d="M1256,1073C1255,1072 1252,1069 1251,1067C1249,1065 1247,1062 1246,1060C1245,1058 1244,1055 1242,1053C1241,1050 1239,1048 1239,1045C1238,1043 1237,1040 1237,1037C1237,1035 1238,1031 1239,1029" stroke-width="0.9"/><path d="M1344,1088C1343,1089 1342,1093 1342,1096C1341,1099 1341,1102 1340,1104C1340,1107 1340,1110 1339,1113C1339,1116 1338,1118 1338,1121C1337,1124 1338,1127 1338,1130C1338,1132 1338,1137 1338,1138" stroke-width="0.9"/><path d="M1368,867C1370,868 1375,871 1378,873C1382,875 1385,877 1388,880C1392,882 1395,884 1398,887C1401,890 1403,893 1405,896C1407,900 1410,903 1412,906C1414,910 1416,916 1416,918" stroke-width="3.0"/><path d="M1520,1024C1520,1023 1517,1020 1515,1017C1514,1015 1513,1012 1511,1010C1510,1008 1508,1006 1506,1004C1505,1002 1503,999 1502,997C1501,994 1500,992 1499,989C1499,986 1497,982 1497,981" stroke-width="0.9"/><path d="M1696,735C1694,736 1690,737 1688,738C1685,739 1683,741 1680,742C1678,744 1676,746 1674,748C1672,750 1670,752 1668,754C1666,756 1664,758 1662,760C1660,762 1657,764 1656,765" stroke-width="0.9"/></g><path d="M1706,1053L1717,1062L1705,1068ZM1490,944L1482,935L1492,933ZM1642,789L1630,789L1635,780ZM1605,901L1606,913L1597,909ZM1809,833L1798,832L1803,823ZM1077,1104L1088,1102L1086,1112ZM1749,848L1736,839L1748,833ZM1270,1160L1260,1153L1269,1149ZM1718,1101L1706,1100L1711,1091ZM1134,1026L1136,1014L1144,1020ZM1221,967L1231,973L1222,978ZM1202,973L1212,968L1212,978ZM1390,989L1383,981L1392,978ZM1587,773L1587,762L1596,766ZM1379,1205L1369,1210L1369,1200ZM1759,1015L1757,1026L1749,1020ZM1263,807L1277,802L1275,815ZM1394,763L1392,752L1401,754ZM1660,818L1649,821L1651,811ZM1721,771L1732,769L1729,779ZM1405,1018L1405,1033L1393,1027ZM1561,1177L1551,1183L1550,1173ZM1365,821L1373,813L1377,823ZM1621,896L1610,896L1614,887ZM1790,873L1801,871L1798,880ZM1300,997L1305,1007L1295,1008ZM1327,1225L1317,1231L1317,1221ZM1753,917L1763,911L1764,921ZM1323,1133L1336,1138L1326,1147ZM1536,1072L1537,1061L1546,1066ZM1366,875L1356,880L1356,870ZM1139,1189L1138,1174L1150,1179ZM1397,1057L1406,1050L1409,1059ZM1321,1113L1316,1123L1310,1115ZM1481,755L1491,751L1490,761ZM1467,1219L1459,1210L1468,1207ZM1679,987L1690,987L1686,996ZM1465,658L1459,668L1454,659ZM1222,1108L1222,1119L1213,1115ZM1583,1137L1586,1126L1594,1132ZM1597,880L1606,874L1608,883ZM1471,1117L1464,1126L1460,1117ZM1126,1081L1115,1078L1121,1070ZM1489,1056L1499,1051L1499,1061ZM1383,791L1383,780L1392,783ZM1663,1189L1648,1186L1656,1175ZM1544,737L1533,735L1539,727ZM1474,953L1485,957L1479,964ZM1482,837L1488,827L1494,835ZM1719,898L1726,907L1716,909ZM1542,1068L1546,1082L1533,1080ZM1734,1042L1744,1037L1744,1047ZM1533,863L1541,872L1531,874ZM1588,1034L1577,1031L1583,1023ZM1445,792L1446,781L1454,786ZM1242,1073L1231,1076L1233,1066ZM1736,808L1735,820L1727,815ZM1705,966L1694,968L1697,959ZM1193,1078L1185,1087L1181,1078ZM1309,966L1309,978L1301,974ZM1755,834L1753,845L1745,840ZM1628,1019L1618,1013L1626,1008ZM1164,1164L1173,1171L1164,1175ZM1691,917L1683,908L1693,906ZM1523,872L1512,868L1519,861ZM1776,949L1775,960L1766,955ZM1792,960L1802,967L1793,972ZM1573,959L1566,950L1576,948ZM1566,1045L1577,1043L1575,1053ZM1230,1190L1219,1192L1222,1183ZM1502,1071L1491,1068L1497,1061ZM1662,777L1667,788L1657,787ZM1619,711L1631,712L1626,721ZM1081,1216L1088,1207L1092,1216ZM1733,865L1742,872L1733,876ZM1717,722L1718,733L1708,729ZM1236,1030L1227,1037L1224,1028ZM1560,804L1549,803L1554,795ZM1589,1085L1595,1075L1600,1084ZM1258,1226L1246,1230L1248,1219ZM1451,957L1454,972L1441,968ZM1403,1183L1403,1170L1412,1174ZM1103,1137L1092,1138L1095,1129ZM1786,1002L1778,1010L1775,1001ZM1453,800L1456,811L1446,810ZM1402,921L1415,918L1412,929ZM1630,666L1622,675L1618,665ZM1520,1072L1510,1078L1509,1068ZM1439,872L1429,879L1427,869ZM1511,1144L1501,1149L1501,1139ZM1463,1056L1452,1057L1455,1048ZM1405,1071L1407,1084L1397,1080ZM1069,1055L1078,1062L1070,1066ZM1389,957L1387,946L1396,948ZM1343,1063L1332,1057L1340,1051ZM1360,1002L1349,1004L1352,994ZM1545,1140L1557,1138L1554,1148ZM1355,837L1340,834L1348,824ZM1483,678L1490,687L1480,689ZM1242,908L1257,906L1253,919ZM1142,1094L1138,1084L1148,1085ZM1361,777L1367,787L1358,788ZM1584,849L1573,842L1583,837ZM1836,859L1826,865L1826,855ZM1299,1161L1293,1171L1287,1163ZM1349,903L1356,913L1345,915ZM1814,921L1824,926L1816,932ZM1323,982L1318,972L1328,972ZM1348,1168L1336,1167L1342,1158ZM1531,723L1539,715L1543,724ZM1622,915L1614,923L1610,914ZM1343,782L1332,777L1340,770ZM1650,992L1657,1001L1648,1003ZM1661,1049L1673,1048L1669,1057ZM1403,888L1413,882L1414,891ZM1239,1046L1248,1053L1239,1057ZM1339,1114L1336,1103L1345,1105ZM1399,887L1384,885L1392,874ZM1505,1003L1516,1008L1508,1014ZM1669,754L1672,743L1679,749Z"/></g><text x="0" y="24.3" font-size="44.5" font-weight="bold">a</text><rect x="232" y="22" width="682" height="43" fill="#cccccc"/><rect x="1115" y="21" width="682" height="44" fill="#cccccc"/><text x="565.3" y="53" font-size="30" text-anchor="middle">Splicing kinetics-based RNA velocity</text><text x="1449.5" y="52" font-size="30" text-anchor="middle">Metabolic labeling-based RNA velocity</text><text x="117.5" y="53" font-size="30.5" text-anchor="middle">Neuronal</text><text x="117.5" y="88" font-size="30.5" text-anchor="middle">activation (min):</text><circle cx="83" cy="129" r="13" fill="#440154"/><text x="114" y="141.3" font-size="31">0</text><circle cx="83" cy="184" r="13" fill="#3b528b"/><text x="114" y="196.3" font-size="31">15</text><circle cx="83" cy="238.5" r="13" fill="#21908d"/><text x="114" y="250.8" font-size="31">30</text><circle cx="83" cy="293" r="13" fill="#5ec962"/><text x="114" y="305.3" font-size="31">60</text><circle cx="83" cy="347.5" r="13" fill="#fde725"/><text x="114" y="359.8" font-size="31">120</text><rect x="1887.5" y="93" width="3.5" height="526" fill="#000"/><rect x="1887.5" y="679" width="3.5" height="556" fill="#000"/><text x="1907" y="370" font-size="30.3">Observed</text><text x="1907" y="957" font-size="30.3">Randomized</text><path d="M124,633 V543 M124,633 H214" stroke="#000" stroke-width="3.5" fill="none"/><path d="M111,545L124,521L137,545Z"/><path d="M212,620L237,633L212,646Z"/><text x="124" y="687" font-size="29.7">UMAP1</text><text transform="translate(100,631) rotate(-90)" font-size="29.7">UMAP2</text><path d="M124,1780 V1690 M124,1780 H214" stroke="#000" stroke-width="3.5" fill="none"/><path d="M111,1692L124,1668L137,1692Z"/><path d="M212,1767L237,1780L212,1793Z"/><text x="124" y="1834" font-size="29.7">UMAP1</text><text transform="translate(100,1778) rotate(-90)" font-size="29.7">UMAP2</text><path d="M124,2319 V2229 M124,2319 H214" stroke="#000" stroke-width="3.5" fill="none"/><path d="M111,2231L124,2207L137,2231Z"/><path d="M212,2306L237,2319L212,2332Z"/><text x="124" y="2373" font-size="29.7">UMAP1</text><text transform="translate(100,2317) rotate(-90)" font-size="29.7">UMAP2</text><circle cx="271" cy="460" r="13" fill="#fff" fill-opacity="0.15"/><text x="271" y="466" font-size="15.5" font-weight="bold" text-anchor="middle" font-family="DejaVu Sans, sans-serif">0</text><circle cx="589" cy="290" r="13" fill="#fff" fill-opacity="0.15"/><text x="589" y="296" font-size="15.5" font-weight="bold" text-anchor="middle" font-family="DejaVu Sans, sans-serif">15</text><circle cx="691" cy="287" r="13" fill="#fff" fill-opacity="0.15"/><text x="691" y="293" font-size="15.5" font-weight="bold" text-anchor="middle" font-family="DejaVu Sans, sans-serif">30</text><circle cx="765" cy="386" r="13" fill="#fff" fill-opacity="0.15"/><text x="765" y="392" font-size="15.5" font-weight="bold" text-anchor="middle" font-family="DejaVu Sans, sans-serif">60</text><circle cx="595" cy="531" r="13" fill="#fff" fill-opacity="0.15"/><text x="595" y="537" font-size="15.5" font-weight="bold" text-anchor="middle" font-family="DejaVu Sans, sans-serif">120</text><circle cx="274" cy="1066" r="13" fill="#fff" fill-opacity="0.15"/><text x="274" y="1072" font-size="15.5" font-weight="bold" text-anchor="middle" font-family="DejaVu Sans, sans-serif">0</text><circle cx="592" cy="896" r="13" fill="#fff" fill-opacity="0.15"/><text x="592" y="902" font-size="15.5" font-weight="bold" text-anchor="middle" font-family="DejaVu Sans, sans-serif">15</text><circle cx="694" cy="893" r="13" fill="#fff" fill-opacity="0.15"/><text x="694" y="899" font-size="15.5" font-weight="bold" text-anchor="middle" font-family="DejaVu Sans, sans-serif">30</text><circle cx="768" cy="992" r="13" fill="#fff" fill-opacity="0.15"/><text x="768" y="998" font-size="15.5" font-weight="bold" text-anchor="middle" font-family="DejaVu Sans, sans-serif">60</text><circle cx="598" cy="1137" r="13" fill="#fff" fill-opacity="0.15"/><text x="598" y="1143" font-size="15.5" font-weight="bold" text-anchor="middle" font-family="DejaVu Sans, sans-serif">120</text><circle cx="1152" cy="552" r="13" fill="#fff" fill-opacity="0.15"/><text x="1152" y="558" font-size="15.5" font-weight="bold" text-anchor="middle" font-family="DejaVu Sans, sans-serif">0</text><circle cx="1405" cy="286" r="13" fill="#fff" fill-opacity="0.15"/><text x="1405" y="292" font-size="15.5" font-weight="bold" text-anchor="middle" font-family="DejaVu Sans, sans-serif">15</text><circle cx="1527" cy="264" r="13" fill="#fff" fill-opacity="0.15"/><text x="1527" y="270" font-size="15.5" font-weight="bold" text-anchor="middle" font-family="DejaVu Sans, sans-serif">30</text><circle cx="1634" cy="342" r="13" fill="#fff" fill-opacity="0.15"/><text x="1634" y="348" font-size="15.5" font-weight="bold" text-anchor="middle" font-family="DejaVu Sans, sans-serif">60</text><circle cx="1541" cy="510" r="13" fill="#fff" fill-opacity="0.15"/><text x="1541" y="516" font-size="15.5" font-weight="bold" text-anchor="middle" font-family="DejaVu Sans, sans-serif">120</text><circle cx="1151" cy="1155" r="13" fill="#fff" fill-opacity="0.15"/><text x="1151" y="1161" font-size="15.5" font-weight="bold" text-anchor="middle" font-family="DejaVu Sans, sans-serif">0</text><circle cx="1404" cy="889" r="13" fill="#fff" fill-opacity="0.15"/><text x="1404" y="895" font-size="15.5" font-weight="bold" text-anchor="middle" font-family="DejaVu Sans, sans-serif">15</text><circle cx="1526" cy="867" r="13" fill="#fff" fill-opacity="0.15"/><text x="1526" y="873" font-size="15.5" font-weight="bold" text-anchor="middle" font-family="DejaVu Sans, sans-serif">30</text><circle cx="1633" cy="945" r="13" fill="#fff" fill-opacity="0.15"/><text x="1633" y="951" font-size="15.5" font-weight="bold" text-anchor="middle" font-family="DejaVu Sans, sans-serif">60</text><circle cx="1540" cy="1113" r="13" fill="#fff" fill-opacity="0.15"/><text x="1540" y="1119" font-size="15.5" font-weight="bold" text-anchor="middle" font-family="DejaVu Sans, sans-serif">120</text><text x="0" y="1322.5" font-size="44.5" font-weight="bold">b</text><text x="513.5" y="1322" font-size="30" text-anchor="middle">Early-response genes (n=24)</text><text x="1425.5" y="1322" font-size="30" text-anchor="middle">Late-response genes (n=73)</text><g id="bB1" mask="url(#mB1)"><g filter="url(#texB)"><g filter="url(#fB1)" class="c20"><rect x="469" y="1342" fill="#fccf90"/><rect x="489" y="1342" fill="#fccc8d"/><rect x="509" y="1342" fill="#fcc889"/><rect x="529" y="1342" fill="#fbc283"/><rect x="549" y="1342" fill="#fbba7c"/><rect x="569" y="1342" fill="#fab073"/><rect x="589" y="1342" fill="#faa66b"/><rect x="609" y="1342" fill="#f99d64"/><rect x="629" y="1342" fill="#f8955d"/><rect x="649" y="1342" fill="#f88e58"/><rect x="669" y="1342" fill="#f78954"/><rect x="429" y="1362" fill="#fcd192"/><rect x="449" y="1362" fill="#fcd092"/><rect x="469" y="1362" fill="#fccf91"/><rect x="489" y="1362" fill="#fccd8e"/><rect x="509" y="1362" fill="#fcc98a"/><rect x="529" y="1362" fill="#fcc384"/><rect x="549" y="1362" fill="#fbbb7d"/><rect x="569" y="1362" fill="#fab174"/><rect x="589" y="1362" fill="#faa76b"/><rect x="609" y="1362" fill="#f99c63"/><rect x="629" y="1362" fill="#f8945d"/><rect x="649" y="1362" fill="#f88d57"/><rect x="669" y="1362" fill="#f78752"/><rect x="689" y="1362" fill="#f6824e"/><rect x="429" y="1382" fill="#fcd293"/><rect x="449" y="1382" fill="#fcd193"/><rect x="469" y="1382" fill="#fcd092"/><rect x="489" y="1382" fill="#fcce90"/><rect x="509" y="1382" fill="#fcca8c"/><rect x="529" y="1382" fill="#fcc486"/><rect x="549" y="1382" fill="#fbbc7e"/><rect x="569" y="1382" fill="#fbb375"/><rect x="589" y="1382" fill="#faa86c"/><rect x="609" y="1382" fill="#f99d63"/><rect x="629" y="1382" fill="#f8935c"/><rect x="649" y="1382" fill="#f78b56"/><rect x="669" y="1382" fill="#f78551"/><rect x="689" y="1382" fill="#f6804c"/><rect x="709" y="1382" fill="#f57b49"/><rect x="729" y="1382" fill="#f57947"/><rect x="409" y="1402" fill="#fcd496"/><rect x="429" y="1402" fill="#fcd395"/><rect x="449" y="1402" fill="#fcd395"/><rect x="469" y="1402" fill="#fcd294"/><rect x="489" y="1402" fill="#fcd092"/><rect x="509" y="1402" fill="#fccc8e"/><rect x="529" y="1402" fill="#fcc688"/><rect x="549" y="1402" fill="#fbbe80"/><rect x="569" y="1402" fill="#fbb577"/><rect x="589" y="1402" fill="#faa96e"/><rect x="609" y="1402" fill="#f99e64"/><rect x="629" y="1402" fill="#f8935c"/><rect x="649" y="1402" fill="#f78a55"/><rect x="669" y="1402" fill="#f6834f"/><rect x="689" y="1402" fill="#f67e4b"/><rect x="709" y="1402" fill="#f57a48"/><rect x="729" y="1402" fill="#f57746"/><rect x="749" y="1402" fill="#f47645"/><rect x="409" y="1422" fill="#fcd99c"/><rect x="429" y="1422" fill="#fcd79a"/><rect x="449" y="1422" fill="#fcd598"/><rect x="469" y="1422" fill="#fcd497"/><rect x="489" y="1422" fill="#fcd294"/><rect x="509" y="1422" fill="#fcce90"/><rect x="529" y="1422" fill="#fcc889"/><rect x="549" y="1422" fill="#fbc082"/><rect x="569" y="1422" fill="#fbb779"/><rect x="589" y="1422" fill="#faac70"/><rect x="609" y="1422" fill="#f9a066"/><rect x="629" y="1422" fill="#f8945c"/><rect x="649" y="1422" fill="#f78b54"/><rect x="669" y="1422" fill="#f6834e"/><rect x="689" y="1422" fill="#f57d4a"/><rect x="709" y="1422" fill="#f57947"/><rect x="729" y="1422" fill="#f47746"/><rect x="749" y="1422" fill="#f47545"/><rect x="769" y="1422" fill="#f37444"/><rect x="389" y="1442" fill="#fde0a6"/><rect x="409" y="1442" fill="#fddea3"/><rect x="429" y="1442" fill="#fddca0"/><rect x="449" y="1442" fill="#fdd99d"/><rect x="469" y="1442" fill="#fdd79a"/><rect x="489" y="1442" fill="#fdd497"/><rect x="509" y="1442" fill="#fccf92"/><rect x="529" y="1442" fill="#fcc88a"/><rect x="549" y="1442" fill="#fbc082"/><rect x="569" y="1442" fill="#fbb77a"/><rect x="589" y="1442" fill="#faad71"/><rect x="609" y="1442" fill="#f9a267"/><rect x="629" y="1442" fill="#f8965d"/><rect x="649" y="1442" fill="#f78c55"/><rect x="669" y="1442" fill="#f6844e"/><rect x="689" y="1442" fill="#f57e4a"/><rect x="709" y="1442" fill="#f57a47"/><rect x="729" y="1442" fill="#f47746"/><rect x="749" y="1442" fill="#f47545"/><rect x="769" y="1442" fill="#f37445"/><rect x="389" y="1462" fill="#fde3a9"/><rect x="409" y="1462" fill="#fde1a8"/><rect x="429" y="1462" fill="#fde0a6"/><rect x="449" y="1462" fill="#fddda2"/><rect x="469" y="1462" fill="#fdda9f"/><rect x="489" y="1462" fill="#fdd69a"/><rect x="509" y="1462" fill="#fcd093"/><rect x="529" y="1462" fill="#fcc88a"/><rect x="549" y="1462" fill="#fbbf81"/><rect x="569" y="1462" fill="#fbb679"/><rect x="589" y="1462" fill="#faad71"/><rect x="609" y="1462" fill="#f9a267"/><rect x="629" y="1462" fill="#f8985d"/><rect x="649" y="1462" fill="#f78e55"/><rect x="669" y="1462" fill="#f6864f"/><rect x="689" y="1462" fill="#f57f4b"/><rect x="709" y="1462" fill="#f57b48"/><rect x="729" y="1462" fill="#f47746"/><rect x="749" y="1462" fill="#f47546"/><rect x="769" y="1462" fill="#f37445"/><rect x="789" y="1462" fill="#f37445"/><rect x="389" y="1482" fill="#fde4ab"/><rect x="409" y="1482" fill="#fde3aa"/><rect x="429" y="1482" fill="#fde2a8"/><rect x="449" y="1482" fill="#fde0a6"/><rect x="469" y="1482" fill="#fddda3"/><rect x="489" y="1482" fill="#fdd89d"/><rect x="509" y="1482" fill="#fcd195"/><rect x="529" y="1482" fill="#fcc88b"/><rect x="549" y="1482" fill="#fbbf82"/><rect x="569" y="1482" fill="#fbb679"/><rect x="589" y="1482" fill="#faad71"/><rect x="609" y="1482" fill="#f9a267"/><rect x="629" y="1482" fill="#f8985d"/><rect x="649" y="1482" fill="#f78e55"/><rect x="669" y="1482" fill="#f68750"/><rect x="689" y="1482" fill="#f5814c"/><rect x="709" y="1482" fill="#f57c49"/><rect x="729" y="1482" fill="#f47948"/><rect x="749" y="1482" fill="#f47747"/><rect x="769" y="1482" fill="#f37546"/><rect x="789" y="1482" fill="#f37546"/><rect x="369" y="1502" fill="#fde5ac"/><rect x="389" y="1502" fill="#fde4ac"/><rect x="409" y="1502" fill="#fde4ab"/><rect x="429" y="1502" fill="#fde3aa"/><rect x="449" y="1502" fill="#fde1a8"/><rect x="469" y="1502" fill="#fddfa5"/><rect x="489" y="1502" fill="#fddba0"/><rect x="509" y="1502" fill="#fcd398"/><rect x="529" y="1502" fill="#fcca8e"/><rect x="549" y="1502" fill="#fbc184"/><rect x="569" y="1502" fill="#fbb87c"/><rect x="589" y="1502" fill="#faaf73"/><rect x="609" y="1502" fill="#f9a468"/><rect x="629" y="1502" fill="#f8995e"/><rect x="649" y="1502" fill="#f78f56"/><rect x="669" y="1502" fill="#f68850"/><rect x="689" y="1502" fill="#f6824d"/><rect x="709" y="1502" fill="#f57e4b"/><rect x="729" y="1502" fill="#f47b49"/><rect x="749" y="1502" fill="#f47948"/><rect x="769" y="1502" fill="#f37747"/><rect x="789" y="1502" fill="#f37647"/><rect x="349" y="1522" fill="#fde7b0"/><rect x="369" y="1522" fill="#fde6ae"/><rect x="389" y="1522" fill="#fde5ad"/><rect x="409" y="1522" fill="#fde4ac"/><rect x="429" y="1522" fill="#fde3ab"/><rect x="449" y="1522" fill="#fde2a9"/><rect x="469" y="1522" fill="#fde0a6"/><rect x="489" y="1522" fill="#fddca2"/><rect x="509" y="1522" fill="#fcd59a"/><rect x="529" y="1522" fill="#fccc91"/><rect x="549" y="1522" fill="#fbc488"/><rect x="569" y="1522" fill="#fbbc80"/><rect x="589" y="1522" fill="#fab276"/><rect x="609" y="1522" fill="#f9a76b"/><rect x="629" y="1522" fill="#f89b60"/><rect x="649" y="1522" fill="#f79157"/><rect x="669" y="1522" fill="#f78952"/><rect x="689" y="1522" fill="#f6844e"/><rect x="709" y="1522" fill="#f5804c"/><rect x="729" y="1522" fill="#f57d4b"/><rect x="749" y="1522" fill="#f47b4a"/><rect x="769" y="1522" fill="#f47949"/><rect x="789" y="1522" fill="#f47849"/><rect x="289" y="1542" fill="#fef1c0"/><rect x="309" y="1542" fill="#feefbc"/><rect x="329" y="1542" fill="#feecb8"/><rect x="349" y="1542" fill="#fdeab4"/><rect x="369" y="1542" fill="#fde8b1"/><rect x="389" y="1542" fill="#fde6af"/><rect x="409" y="1542" fill="#fde5ad"/><rect x="429" y="1542" fill="#fde4ac"/><rect x="449" y="1542" fill="#fde2a9"/><rect x="469" y="1542" fill="#fde0a7"/><rect x="489" y="1542" fill="#fddca2"/><rect x="509" y="1542" fill="#fcd59b"/><rect x="529" y="1542" fill="#fccd92"/><rect x="549" y="1542" fill="#fbc58a"/><rect x="569" y="1542" fill="#fbbe82"/><rect x="589" y="1542" fill="#fab578"/><rect x="609" y="1542" fill="#f9aa6e"/><rect x="629" y="1542" fill="#f89e63"/><rect x="649" y="1542" fill="#f8945a"/><rect x="669" y="1542" fill="#f78c54"/><rect x="689" y="1542" fill="#f68750"/><rect x="709" y="1542" fill="#f6834e"/><rect x="729" y="1542" fill="#f5804d"/><rect x="749" y="1542" fill="#f47d4c"/><rect x="769" y="1542" fill="#f47c4b"/><rect x="789" y="1542" fill="#f47a4a"/><rect x="269" y="1562" fill="#fef2c2"/><rect x="289" y="1562" fill="#fef1c1"/><rect x="309" y="1562" fill="#feefbe"/><rect x="329" y="1562" fill="#feedba"/><rect x="349" y="1562" fill="#feebb6"/><rect x="369" y="1562" fill="#fde9b3"/><rect x="389" y="1562" fill="#fde8b1"/><rect x="409" y="1562" fill="#fde6af"/><rect x="429" y="1562" fill="#fde5ad"/><rect x="449" y="1562" fill="#fde2aa"/><rect x="469" y="1562" fill="#fddfa6"/><rect x="489" y="1562" fill="#fddba1"/><rect x="509" y="1562" fill="#fcd59b"/><rect x="529" y="1562" fill="#fcce92"/><rect x="549" y="1562" fill="#fbc68a"/><rect x="569" y="1562" fill="#fbbe81"/><rect x="589" y="1562" fill="#fab578"/><rect x="609" y="1562" fill="#f9ab6e"/><rect x="629" y="1562" fill="#f9a064"/><rect x="649" y="1562" fill="#f8975c"/><rect x="669" y="1562" fill="#f78f56"/><rect x="689" y="1562" fill="#f68953"/><rect x="709" y="1562" fill="#f68550"/><rect x="729" y="1562" fill="#f5824f"/><rect x="749" y="1562" fill="#f5804e"/><rect x="769" y="1562" fill="#f47e4d"/><rect x="789" y="1562" fill="#f47d4c"/><rect x="249" y="1582" fill="#fef2c3"/><rect x="269" y="1582" fill="#fef2c2"/><rect x="289" y="1582" fill="#fef1c1"/><rect x="309" y="1582" fill="#fef0bf"/><rect x="329" y="1582" fill="#feeebb"/><rect x="349" y="1582" fill="#feecb8"/><rect x="369" y="1582" fill="#feebb5"/><rect x="389" y="1582" fill="#fde9b3"/><rect x="409" y="1582" fill="#fde7b0"/><rect x="429" y="1582" fill="#fde5ad"/><rect x="449" y="1582" fill="#fde2a9"/><rect x="469" y="1582" fill="#fddfa5"/><rect x="489" y="1582" fill="#fddba1"/><rect x="509" y="1582" fill="#fcd69b"/><rect x="529" y="1582" fill="#fccf94"/><rect x="549" y="1582" fill="#fbc78b"/><rect x="569" y="1582" fill="#fbbe81"/><rect x="589" y="1582" fill="#fab477"/><rect x="609" y="1582" fill="#f9aa6e"/><rect x="629" y="1582" fill="#f9a165"/><rect x="649" y="1582" fill="#f8985e"/><rect x="669" y="1582" fill="#f79159"/><rect x="689" y="1582" fill="#f68b55"/><rect x="709" y="1582" fill="#f68753"/><rect x="729" y="1582" fill="#f58451"/><rect x="749" y="1582" fill="#f5824f"/><rect x="769" y="1582" fill="#f5804e"/><rect x="249" y="1602" fill="#fef2c3"/><rect x="269" y="1602" fill="#fef2c3"/><rect x="289" y="1602" fill="#fef1c1"/><rect x="309" y="1602" fill="#fef0bf"/><rect x="329" y="1602" fill="#feefbc"/><rect x="349" y="1602" fill="#feedb9"/><rect x="369" y="1602" fill="#feecb6"/><rect x="389" y="1602" fill="#feeab4"/><rect x="409" y="1602" fill="#fde8b1"/><rect x="429" y="1602" fill="#fde5ad"/><rect x="449" y="1602" fill="#fde2a9"/><rect x="469" y="1602" fill="#fddea5"/><rect x="489" y="1602" fill="#fddba1"/><rect x="509" y="1602" fill="#fcd79c"/><rect x="529" y="1602" fill="#fcd196"/><rect x="549" y="1602" fill="#fcc98d"/><rect x="569" y="1602" fill="#fbbf83"/><rect x="589" y="1602" fill="#fab477"/><rect x="609" y="1602" fill="#f9a96d"/><rect x="629" y="1602" fill="#f9a165"/><rect x="649" y="1602" fill="#f89a60"/><rect x="669" y="1602" fill="#f7945b"/><rect x="689" y="1602" fill="#f78e58"/><rect x="709" y="1602" fill="#f68a55"/><rect x="729" y="1602" fill="#f68753"/><rect x="749" y="1602" fill="#f58551"/><rect x="229" y="1622" fill="#fef2c4"/><rect x="249" y="1622" fill="#fef2c3"/><rect x="269" y="1622" fill="#fef2c3"/><rect x="289" y="1622" fill="#fef2c2"/><rect x="309" y="1622" fill="#fef1c0"/><rect x="329" y="1622" fill="#feefbd"/><rect x="349" y="1622" fill="#feeeba"/><rect x="369" y="1622" fill="#feecb8"/><rect x="389" y="1622" fill="#feebb5"/><rect x="409" y="1622" fill="#fde9b2"/><rect x="429" y="1622" fill="#fde5ad"/><rect x="449" y="1622" fill="#fde1a8"/><rect x="469" y="1622" fill="#fddea4"/><rect x="489" y="1622" fill="#fddba1"/><rect x="509" y="1622" fill="#fcd89d"/><rect x="529" y="1622" fill="#fcd398"/><rect x="549" y="1622" fill="#fccc90"/><rect x="569" y="1622" fill="#fbc185"/><rect x="589" y="1622" fill="#fab477"/><rect x="609" y="1622" fill="#f9a96d"/><rect x="629" y="1622" fill="#f9a166"/><rect x="649" y="1622" fill="#f89c62"/><rect x="669" y="1622" fill="#f8965e"/><rect x="689" y="1622" fill="#f7915b"/><rect x="709" y="1622" fill="#f68d58"/><rect x="729" y="1622" fill="#f68a56"/><rect x="749" y="1622" fill="#f68754"/><rect x="229" y="1642" fill="#fef2c4"/><rect x="249" y="1642" fill="#fef2c4"/><rect x="269" y="1642" fill="#fef2c3"/><rect x="289" y="1642" fill="#fef2c2"/><rect x="309" y="1642" fill="#fef1c1"/><rect x="329" y="1642" fill="#fef0be"/><rect x="349" y="1642" fill="#feeebb"/><rect x="369" y="1642" fill="#feedb8"/><rect x="389" y="1642" fill="#feebb6"/><rect x="409" y="1642" fill="#fde9b3"/><rect x="429" y="1642" fill="#fde5ae"/><rect x="449" y="1642" fill="#fde2a9"/><rect x="469" y="1642" fill="#fddfa5"/><rect x="489" y="1642" fill="#fddca1"/><rect x="509" y="1642" fill="#fcd89d"/><rect x="529" y="1642" fill="#fcd499"/><rect x="549" y="1642" fill="#fccd92"/><rect x="569" y="1642" fill="#fbc286"/><rect x="589" y="1642" fill="#fab378"/><rect x="609" y="1642" fill="#f9a86d"/><rect x="629" y="1642" fill="#f9a267"/><rect x="649" y="1642" fill="#f89d64"/><rect x="669" y="1642" fill="#f89960"/><rect x="689" y="1642" fill="#f7945d"/><rect x="709" y="1642" fill="#f7905b"/><rect x="729" y="1642" fill="#f68d58"/><rect x="229" y="1662" fill="#fef2c4"/><rect x="249" y="1662" fill="#fef2c4"/><rect x="269" y="1662" fill="#fef2c3"/><rect x="289" y="1662" fill="#fef2c3"/><rect x="309" y="1662" fill="#fef1c1"/><rect x="329" y="1662" fill="#fef0be"/><rect x="349" y="1662" fill="#feefbb"/><rect x="369" y="1662" fill="#fdedb9"/><rect x="389" y="1662" fill="#fdecb7"/><rect x="409" y="1662" fill="#fde9b4"/><rect x="429" y="1662" fill="#fde6af"/><rect x="449" y="1662" fill="#fde3ab"/><rect x="469" y="1662" fill="#fde0a7"/><rect x="489" y="1662" fill="#fddda3"/><rect x="509" y="1662" fill="#fcd99e"/><rect x="529" y="1662" fill="#fcd499"/><rect x="549" y="1662" fill="#fccd92"/><rect x="569" y="1662" fill="#fbc186"/><rect x="589" y="1662" fill="#fab478"/><rect x="609" y="1662" fill="#f9a96e"/><rect x="629" y="1662" fill="#f9a369"/><rect x="649" y="1662" fill="#f89f66"/><rect x="669" y="1662" fill="#f89b63"/><rect x="689" y="1662" fill="#f89760"/><rect x="709" y="1662" fill="#f7935d"/><rect x="229" y="1682" fill="#fef2c3"/><rect x="249" y="1682" fill="#fef2c3"/><rect x="269" y="1682" fill="#fef2c3"/><rect x="289" y="1682" fill="#fef2c2"/><rect x="309" y="1682" fill="#fef1c0"/><rect x="329" y="1682" fill="#fdf0be"/><rect x="349" y="1682" fill="#fdefbb"/><rect x="369" y="1682" fill="#fdeeb9"/><rect x="389" y="1682" fill="#fdecb7"/><rect x="409" y="1682" fill="#fdeab5"/><rect x="429" y="1682" fill="#fde7b1"/><rect x="449" y="1682" fill="#fde4ad"/><rect x="469" y="1682" fill="#fde1a9"/><rect x="489" y="1682" fill="#fddea5"/><rect x="509" y="1682" fill="#fcd99f"/><rect x="529" y="1682" fill="#fcd499"/><rect x="549" y="1682" fill="#fbcc91"/><rect x="569" y="1682" fill="#fbc185"/><rect x="589" y="1682" fill="#fab579"/><rect x="609" y="1682" fill="#f9ac71"/><rect x="629" y="1682" fill="#f9a66c"/><rect x="649" y="1682" fill="#f8a168"/><rect x="669" y="1682" fill="#f89e65"/><rect x="689" y="1682" fill="#f89a63"/><rect x="229" y="1702" fill="#fdf2c2"/><rect x="249" y="1702" fill="#fdf2c2"/><rect x="269" y="1702" fill="#fef2c2"/><rect x="289" y="1702" fill="#fef1c1"/><rect x="309" y="1702" fill="#fdf1bf"/><rect x="329" y="1702" fill="#fdefbd"/><rect x="349" y="1702" fill="#fdeebb"/><rect x="369" y="1702" fill="#fdeeba"/><rect x="389" y="1702" fill="#fdedb8"/><rect x="409" y="1702" fill="#fdebb5"/><rect x="429" y="1702" fill="#fde8b2"/><rect x="449" y="1702" fill="#fde5ae"/><rect x="469" y="1702" fill="#fde2aa"/><rect x="489" y="1702" fill="#fddea5"/><rect x="509" y="1702" fill="#fcda9f"/><rect x="529" y="1702" fill="#fcd499"/><rect x="549" y="1702" fill="#fbcc90"/><rect x="569" y="1702" fill="#fac185"/><rect x="589" y="1702" fill="#fab77b"/><rect x="609" y="1702" fill="#f9af74"/><rect x="629" y="1702" fill="#f9a96f"/><rect x="649" y="1702" fill="#f9a56b"/><rect x="669" y="1702" fill="#f8a168"/><rect x="229" y="1722" fill="#fdf2c1"/><rect x="249" y="1722" fill="#fdf2c1"/><rect x="269" y="1722" fill="#fdf1c1"/><rect x="289" y="1722" fill="#fdf1c0"/><rect x="309" y="1722" fill="#fdf0bf"/><rect x="329" y="1722" fill="#fdefbd"/><rect x="349" y="1722" fill="#fdeebb"/><rect x="369" y="1722" fill="#fdeeba"/><rect x="389" y="1722" fill="#fdedb8"/><rect x="409" y="1722" fill="#fdebb6"/><rect x="429" y="1722" fill="#fde9b3"/><rect x="449" y="1722" fill="#fde5af"/><rect x="469" y="1722" fill="#fde2aa"/><rect x="489" y="1722" fill="#fcdea5"/><rect x="509" y="1722" fill="#fcd99f"/><rect x="529" y="1722" fill="#fcd398"/><rect x="549" y="1722" fill="#fbcb8f"/><rect x="569" y="1722" fill="#fac185"/><rect x="589" y="1722" fill="#fab87c"/><rect x="609" y="1722" fill="#f9b276"/><rect x="629" y="1722" fill="#f9ad72"/><rect x="649" y="1722" fill="#f9a86e"/><rect x="229" y="1742" fill="#fdf1c1"/><rect x="249" y="1742" fill="#fdf1c1"/><rect x="269" y="1742" fill="#fdf1c1"/><rect x="289" y="1742" fill="#fdf1c0"/><rect x="309" y="1742" fill="#fdf0be"/><rect x="329" y="1742" fill="#fdefbc"/><rect x="349" y="1742" fill="#fdeebb"/><rect x="369" y="1742" fill="#fdeeba"/><rect x="389" y="1742" fill="#fdedb9"/><rect x="409" y="1742" fill="#fdecb7"/><rect x="429" y="1742" fill="#fde9b4"/><rect x="449" y="1742" fill="#fde6af"/><rect x="469" y="1742" fill="#fde2aa"/><rect x="489" y="1742" fill="#fcdda4"/><rect x="509" y="1742" fill="#fcd89e"/><rect x="529" y="1742" fill="#fcd296"/><rect x="549" y="1742" fill="#fbca8e"/><rect x="569" y="1742" fill="#fac184"/><rect x="589" y="1742" fill="#faba7d"/><rect x="609" y="1742" fill="#fab478"/><rect x="629" y="1742" fill="#f9b074"/><rect x="229" y="1762" fill="#fdf1c0"/><rect x="249" y="1762" fill="#fdf1c0"/><rect x="269" y="1762" fill="#fdf1c0"/><rect x="289" y="1762" fill="#fdf1bf"/><rect x="309" y="1762" fill="#fdf0be"/><rect x="329" y="1762" fill="#fdefbc"/><rect x="349" y="1762" fill="#fdefbb"/><rect x="369" y="1762" fill="#fdeeba"/><rect x="389" y="1762" fill="#fdedb9"/><rect x="409" y="1762" fill="#fdecb7"/><rect x="429" y="1762" fill="#fdeab4"/><rect x="449" y="1762" fill="#fde6b0"/><rect x="469" y="1762" fill="#fde1a9"/><rect x="489" y="1762" fill="#fcdca3"/><rect x="509" y="1762" fill="#fcd79c"/><rect x="529" y="1762" fill="#fbd195"/><rect x="549" y="1762" fill="#fbc98c"/><rect x="569" y="1762" fill="#fac184"/><rect x="249" y="1782" fill="#fdf1c0"/><rect x="269" y="1782" fill="#fdf1c0"/><rect x="289" y="1782" fill="#fdf0bf"/><rect x="309" y="1782" fill="#fdf0be"/><rect x="329" y="1782" fill="#fdefbc"/><rect x="349" y="1782" fill="#fdefbb"/><rect x="369" y="1782" fill="#fdeeba"/></g></g></g><g id="bB2" mask="url(#mB2)"><g filter="url(#texB)"><g filter="url(#fB2)" class="c20"><rect x="1379" y="1345" fill="#fcdaa3"/><rect x="1399" y="1345" fill="#fcd9a2"/><rect x="1419" y="1345" fill="#fcd8a1"/><rect x="1439" y="1345" fill="#fcd7a0"/><rect x="1459" y="1345" fill="#fcd69f"/><rect x="1479" y="1345" fill="#fcd59d"/><rect x="1499" y="1345" fill="#fcd39c"/><rect x="1519" y="1345" fill="#fcd29a"/><rect x="1539" y="1345" fill="#fcd099"/><rect x="1559" y="1345" fill="#fccf98"/><rect x="1339" y="1365" fill="#fcdca6"/><rect x="1359" y="1365" fill="#fcdba5"/><rect x="1379" y="1365" fill="#fcdaa4"/><rect x="1399" y="1365" fill="#fcd9a3"/><rect x="1419" y="1365" fill="#fcd9a2"/><rect x="1439" y="1365" fill="#fcd7a0"/><rect x="1459" y="1365" fill="#fcd69f"/><rect x="1479" y="1365" fill="#fcd59d"/><rect x="1499" y="1365" fill="#fcd39c"/><rect x="1519" y="1365" fill="#fcd19a"/><rect x="1539" y="1365" fill="#fcd098"/><rect x="1559" y="1365" fill="#fcce97"/><rect x="1579" y="1365" fill="#fccd95"/><rect x="1599" y="1365" fill="#fccc94"/><rect x="1319" y="1385" fill="#fddea8"/><rect x="1339" y="1385" fill="#fddda7"/><rect x="1359" y="1385" fill="#fcdca6"/><rect x="1379" y="1385" fill="#fcdba5"/><rect x="1399" y="1385" fill="#fcdaa3"/><rect x="1419" y="1385" fill="#fcd9a2"/><rect x="1439" y="1385" fill="#fcd8a0"/><rect x="1459" y="1385" fill="#fcd69f"/><rect x="1479" y="1385" fill="#fcd59d"/><rect x="1499" y="1385" fill="#fcd39b"/><rect x="1519" y="1385" fill="#fcd19a"/><rect x="1539" y="1385" fill="#fccf98"/><rect x="1559" y="1385" fill="#fcce96"/><rect x="1579" y="1385" fill="#fccc94"/><rect x="1599" y="1385" fill="#fccb93"/><rect x="1619" y="1385" fill="#fcc991"/><rect x="1639" y="1385" fill="#fcc890"/><rect x="1319" y="1405" fill="#fddfaa"/><rect x="1339" y="1405" fill="#fddea9"/><rect x="1359" y="1405" fill="#fddda7"/><rect x="1379" y="1405" fill="#fcdca6"/><rect x="1399" y="1405" fill="#fcdba4"/><rect x="1419" y="1405" fill="#fcd9a3"/><rect x="1439" y="1405" fill="#fcd8a1"/><rect x="1459" y="1405" fill="#fcd69f"/><rect x="1479" y="1405" fill="#fcd49d"/><rect x="1499" y="1405" fill="#fcd29b"/><rect x="1519" y="1405" fill="#fcd099"/><rect x="1539" y="1405" fill="#fcce97"/><rect x="1559" y="1405" fill="#fccd95"/><rect x="1579" y="1405" fill="#fccb93"/><rect x="1599" y="1405" fill="#fcca92"/><rect x="1619" y="1405" fill="#fcc890"/><rect x="1639" y="1405" fill="#fbc78e"/><rect x="1659" y="1405" fill="#fbc68d"/><rect x="1319" y="1425" fill="#fde0ac"/><rect x="1339" y="1425" fill="#fddfaa"/><rect x="1359" y="1425" fill="#fddea9"/><rect x="1379" y="1425" fill="#fddda7"/><rect x="1399" y="1425" fill="#fcdca6"/><rect x="1419" y="1425" fill="#fcdaa3"/><rect x="1439" y="1425" fill="#fcd8a1"/><rect x="1459" y="1425" fill="#fcd59e"/><rect x="1479" y="1425" fill="#fcd39c"/><rect x="1499" y="1425" fill="#fcd19a"/><rect x="1519" y="1425" fill="#fccf98"/><rect x="1539" y="1425" fill="#fccd96"/><rect x="1559" y="1425" fill="#fccb94"/><rect x="1579" y="1425" fill="#fcca92"/><rect x="1599" y="1425" fill="#fcc890"/><rect x="1619" y="1425" fill="#fbc78f"/><rect x="1639" y="1425" fill="#fbc68d"/><rect x="1659" y="1425" fill="#fbc58c"/><rect x="1679" y="1425" fill="#fbc58b"/><rect x="1299" y="1445" fill="#fde3b0"/><rect x="1319" y="1445" fill="#fde2ae"/><rect x="1339" y="1445" fill="#fde0ad"/><rect x="1359" y="1445" fill="#fddfab"/><rect x="1379" y="1445" fill="#fddea9"/><rect x="1399" y="1445" fill="#fddca7"/><rect x="1419" y="1445" fill="#fddaa4"/><rect x="1439" y="1445" fill="#fcd7a0"/><rect x="1459" y="1445" fill="#fcd39d"/><rect x="1479" y="1445" fill="#fcd19a"/><rect x="1499" y="1445" fill="#fcd099"/><rect x="1519" y="1445" fill="#fcce97"/><rect x="1539" y="1445" fill="#fccc94"/><rect x="1559" y="1445" fill="#fcc992"/><rect x="1579" y="1445" fill="#fcc890"/><rect x="1599" y="1445" fill="#fbc78f"/><rect x="1619" y="1445" fill="#fbc68d"/><rect x="1639" y="1445" fill="#fbc58c"/><rect x="1659" y="1445" fill="#fbc58b"/><rect x="1679" y="1445" fill="#fbc48a"/><rect x="1299" y="1465" fill="#fde5b5"/><rect x="1319" y="1465" fill="#fde4b2"/><rect x="1339" y="1465" fill="#fde2b0"/><rect x="1359" y="1465" fill="#fde0ad"/><rect x="1379" y="1465" fill="#fddeaa"/><rect x="1399" y="1465" fill="#fddca7"/><rect x="1419" y="1465" fill="#fdd9a4"/><rect x="1439" y="1465" fill="#fcd6a0"/><rect x="1459" y="1465" fill="#fcd29c"/><rect x="1479" y="1465" fill="#fcd099"/><rect x="1499" y="1465" fill="#fccf98"/><rect x="1519" y="1465" fill="#fccd96"/><rect x="1539" y="1465" fill="#fcca93"/><rect x="1559" y="1465" fill="#fbc890"/><rect x="1579" y="1465" fill="#fbc78f"/><rect x="1599" y="1465" fill="#fbc68e"/><rect x="1619" y="1465" fill="#fbc58c"/><rect x="1639" y="1465" fill="#fbc48b"/><rect x="1659" y="1465" fill="#fbc38a"/><rect x="1679" y="1465" fill="#fbc38a"/><rect x="1699" y="1465" fill="#fbc289"/><rect x="1299" y="1485" fill="#fde8b9"/><rect x="1319" y="1485" fill="#fde6b7"/><rect x="1339" y="1485" fill="#fde4b3"/><rect x="1359" y="1485" fill="#fde1af"/><rect x="1379" y="1485" fill="#fddeab"/><rect x="1399" y="1485" fill="#fddba7"/><rect x="1419" y="1485" fill="#fdd8a3"/><rect x="1439" y="1485" fill="#fcd59f"/><rect x="1459" y="1485" fill="#fcd29c"/><rect x="1479" y="1485" fill="#fcd099"/><rect x="1499" y="1485" fill="#fcce97"/><rect x="1519" y="1485" fill="#fccc95"/><rect x="1539" y="1485" fill="#fbc992"/><rect x="1559" y="1485" fill="#fbc790"/><rect x="1579" y="1485" fill="#fbc58e"/><rect x="1599" y="1485" fill="#fbc48d"/><rect x="1619" y="1485" fill="#fbc38b"/><rect x="1639" y="1485" fill="#fbc38a"/><rect x="1659" y="1485" fill="#fbc289"/><rect x="1679" y="1485" fill="#fbc289"/><rect x="1699" y="1485" fill="#fbc188"/><rect x="1279" y="1505" fill="#fdebbe"/><rect x="1299" y="1505" fill="#fdeabc"/><rect x="1319" y="1505" fill="#fde8ba"/><rect x="1339" y="1505" fill="#fde6b6"/><rect x="1359" y="1505" fill="#fde2b1"/><rect x="1379" y="1505" fill="#fddeab"/><rect x="1399" y="1505" fill="#fddba6"/><rect x="1419" y="1505" fill="#fdd7a2"/><rect x="1439" y="1505" fill="#fcd59f"/><rect x="1459" y="1505" fill="#fcd29c"/><rect x="1479" y="1505" fill="#fcd099"/><rect x="1499" y="1505" fill="#fccd97"/><rect x="1519" y="1505" fill="#fccb94"/><rect x="1539" y="1505" fill="#fbc992"/><rect x="1559" y="1505" fill="#fbc68f"/><rect x="1579" y="1505" fill="#fbc48d"/><rect x="1599" y="1505" fill="#fbc38b"/><rect x="1619" y="1505" fill="#fbc18a"/><rect x="1639" y="1505" fill="#fbc088"/><rect x="1659" y="1505" fill="#fbc088"/><rect x="1679" y="1505" fill="#fbc087"/><rect x="1699" y="1505" fill="#fbc087"/><rect x="1259" y="1525" fill="#feedc2"/><rect x="1279" y="1525" fill="#fdecc1"/><rect x="1299" y="1525" fill="#fdebbf"/><rect x="1319" y="1525" fill="#fdeabc"/><rect x="1339" y="1525" fill="#fde7b8"/><rect x="1359" y="1525" fill="#fde3b3"/><rect x="1379" y="1525" fill="#fddeac"/><rect x="1399" y="1525" fill="#fddaa6"/><rect x="1419" y="1525" fill="#fcd7a2"/><rect x="1439" y="1525" fill="#fcd49f"/><rect x="1459" y="1525" fill="#fcd29c"/><rect x="1479" y="1525" fill="#fcd099"/><rect x="1499" y="1525" fill="#fccd96"/><rect x="1519" y="1525" fill="#fbca93"/><rect x="1539" y="1525" fill="#fbc791"/><rect x="1559" y="1525" fill="#fbc58e"/><rect x="1579" y="1525" fill="#fbc28c"/><rect x="1599" y="1525" fill="#fbc089"/><rect x="1619" y="1525" fill="#fbbe87"/><rect x="1639" y="1525" fill="#fbbd86"/><rect x="1659" y="1525" fill="#fbbd86"/><rect x="1679" y="1525" fill="#fbbe86"/><rect x="1699" y="1525" fill="#fbbe86"/><rect x="1219" y="1545" fill="#feeec4"/><rect x="1239" y="1545" fill="#feeec5"/><rect x="1259" y="1545" fill="#feeec5"/><rect x="1279" y="1545" fill="#feedc4"/><rect x="1299" y="1545" fill="#feedc2"/><rect x="1319" y="1545" fill="#fdebbf"/><rect x="1339" y="1545" fill="#fde9bb"/><rect x="1359" y="1545" fill="#fde4b4"/><rect x="1379" y="1545" fill="#fddeac"/><rect x="1399" y="1545" fill="#fcd9a5"/><rect x="1419" y="1545" fill="#fcd6a1"/><rect x="1439" y="1545" fill="#fcd49f"/><rect x="1459" y="1545" fill="#fcd29c"/><rect x="1479" y="1545" fill="#fccf99"/><rect x="1499" y="1545" fill="#fbcb95"/><rect x="1519" y="1545" fill="#fbc791"/><rect x="1539" y="1545" fill="#fbc48e"/><rect x="1559" y="1545" fill="#fbc18b"/><rect x="1579" y="1545" fill="#fabd88"/><rect x="1599" y="1545" fill="#faba85"/><rect x="1619" y="1545" fill="#fab984"/><rect x="1639" y="1545" fill="#fab983"/><rect x="1659" y="1545" fill="#fbba84"/><rect x="1679" y="1545" fill="#fbbb84"/><rect x="1699" y="1545" fill="#fbbc85"/><rect x="1159" y="1565" fill="#fdebbc"/><rect x="1179" y="1565" fill="#fdebbd"/><rect x="1199" y="1565" fill="#fdecbf"/><rect x="1219" y="1565" fill="#feedc2"/><rect x="1239" y="1565" fill="#feeec5"/><rect x="1259" y="1565" fill="#feeec5"/><rect x="1279" y="1565" fill="#feeec5"/><rect x="1299" y="1565" fill="#feeec4"/><rect x="1319" y="1565" fill="#feecc2"/><rect x="1339" y="1565" fill="#fdeabe"/><rect x="1359" y="1565" fill="#fde4b5"/><rect x="1379" y="1565" fill="#fdddaa"/><rect x="1399" y="1565" fill="#fcd7a3"/><rect x="1419" y="1565" fill="#fcd5a0"/><rect x="1439" y="1565" fill="#fcd29d"/><rect x="1459" y="1565" fill="#fccf9a"/><rect x="1479" y="1565" fill="#fbcb96"/><rect x="1499" y="1565" fill="#fbc691"/><rect x="1519" y="1565" fill="#fac18c"/><rect x="1539" y="1565" fill="#fabd88"/><rect x="1559" y="1565" fill="#fab885"/><rect x="1579" y="1565" fill="#fab481"/><rect x="1599" y="1565" fill="#fab27f"/><rect x="1619" y="1565" fill="#fab27f"/><rect x="1639" y="1565" fill="#fab480"/><rect x="1659" y="1565" fill="#fab681"/><rect x="1679" y="1565" fill="#fab782"/><rect x="1159" y="1585" fill="#fdebbc"/><rect x="1179" y="1585" fill="#fdebbc"/><rect x="1199" y="1585" fill="#fdecbe"/><rect x="1219" y="1585" fill="#fdedc1"/><rect x="1239" y="1585" fill="#feeec4"/><rect x="1259" y="1585" fill="#feeec5"/><rect x="1279" y="1585" fill="#feeec6"/><rect x="1299" y="1585" fill="#feeec5"/><rect x="1319" y="1585" fill="#feedc3"/><rect x="1339" y="1585" fill="#fde9bd"/><rect x="1359" y="1585" fill="#fde2b3"/><rect x="1379" y="1585" fill="#fcdba8"/><rect x="1399" y="1585" fill="#fcd6a2"/><rect x="1419" y="1585" fill="#fcd39e"/><rect x="1439" y="1585" fill="#fbcf9a"/><rect x="1459" y="1585" fill="#fbc994"/><rect x="1479" y="1585" fill="#fac18e"/><rect x="1499" y="1585" fill="#f9bb88"/><rect x="1519" y="1585" fill="#f9b583"/><rect x="1539" y="1585" fill="#f9b07e"/><rect x="1559" y="1585" fill="#f9ac7b"/><rect x="1579" y="1585" fill="#f9aa79"/><rect x="1599" y="1585" fill="#f9aa79"/><rect x="1619" y="1585" fill="#f9ac7b"/><rect x="1639" y="1585" fill="#faaf7d"/><rect x="1659" y="1585" fill="#fab27e"/><rect x="1679" y="1585" fill="#fab480"/><rect x="1159" y="1605" fill="#fdebbc"/><rect x="1179" y="1605" fill="#fdebbc"/><rect x="1199" y="1605" fill="#fdebbd"/><rect x="1219" y="1605" fill="#fdecbf"/><rect x="1239" y="1605" fill="#feedc2"/><rect x="1259" y="1605" fill="#feeec4"/><rect x="1279" y="1605" fill="#feeec5"/><rect x="1299" y="1605" fill="#feedc4"/><rect x="1319" y="1605" fill="#feebc1"/><rect x="1339" y="1605" fill="#fde7ba"/><rect x="1359" y="1605" fill="#fddfae"/><rect x="1379" y="1605" fill="#fcd9a6"/><rect x="1399" y="1605" fill="#fcd5a1"/><rect x="1419" y="1605" fill="#fbd19c"/><rect x="1439" y="1605" fill="#fbc995"/><rect x="1459" y="1605" fill="#fabf8c"/><rect x="1479" y="1605" fill="#f9b684"/><rect x="1499" y="1605" fill="#f8af7e"/><rect x="1519" y="1605" fill="#f8a979"/><rect x="1539" y="1605" fill="#f7a576"/><rect x="1559" y="1605" fill="#f8a274"/><rect x="1579" y="1605" fill="#f8a274"/><rect x="1599" y="1605" fill="#f8a475"/><rect x="1619" y="1605" fill="#f9a777"/><rect x="1639" y="1605" fill="#f9aa79"/><rect x="1659" y="1605" fill="#f9ad7b"/><rect x="1139" y="1625" fill="#fdeabb"/><rect x="1159" y="1625" fill="#fdebbb"/><rect x="1179" y="1625" fill="#fdebbb"/><rect x="1199" y="1625" fill="#fdebbc"/><rect x="1219" y="1625" fill="#fdebbd"/><rect x="1239" y="1625" fill="#fdecc0"/><rect x="1259" y="1625" fill="#feedc2"/><rect x="1279" y="1625" fill="#feedc3"/><rect x="1299" y="1625" fill="#feecc2"/><rect x="1319" y="1625" fill="#fee9bd"/><rect x="1339" y="1625" fill="#fde3b5"/><rect x="1359" y="1625" fill="#fcdcab"/><rect x="1379" y="1625" fill="#fcd8a4"/><rect x="1399" y="1625" fill="#fcd4a0"/><rect x="1419" y="1625" fill="#fbcf9a"/><rect x="1439" y="1625" fill="#fac490"/><rect x="1459" y="1625" fill="#f9b785"/><rect x="1479" y="1625" fill="#f8af7e"/><rect x="1499" y="1625" fill="#f7a878"/><rect x="1519" y="1625" fill="#f7a274"/><rect x="1539" y="1625" fill="#f79e71"/><rect x="1559" y="1625" fill="#f79d70"/><rect x="1579" y="1625" fill="#f79d70"/><rect x="1599" y="1625" fill="#f79f71"/><rect x="1619" y="1625" fill="#f8a273"/><rect x="1639" y="1625" fill="#f8a576"/><rect x="1139" y="1645" fill="#fdeab9"/><rect x="1159" y="1645" fill="#fdeaba"/><rect x="1179" y="1645" fill="#fdeaba"/><rect x="1199" y="1645" fill="#fdeabb"/><rect x="1219" y="1645" fill="#fdebbc"/><rect x="1239" y="1645" fill="#fdebbe"/><rect x="1259" y="1645" fill="#feecc0"/><rect x="1279" y="1645" fill="#feecc0"/><rect x="1299" y="1645" fill="#feeabe"/><rect x="1319" y="1645" fill="#fde6b8"/><rect x="1339" y="1645" fill="#fde0b0"/><rect x="1359" y="1645" fill="#fcdaa8"/><rect x="1379" y="1645" fill="#fcd6a2"/><rect x="1399" y="1645" fill="#fcd39e"/><rect x="1419" y="1645" fill="#fbcc97"/><rect x="1439" y="1645" fill="#fabf8c"/><rect x="1459" y="1645" fill="#f8b280"/><rect x="1479" y="1645" fill="#f7a979"/><rect x="1499" y="1645" fill="#f7a375"/><rect x="1519" y="1645" fill="#f69e71"/><rect x="1539" y="1645" fill="#f69b6e"/><rect x="1559" y="1645" fill="#f69a6d"/><rect x="1579" y="1645" fill="#f79a6e"/><rect x="1599" y="1645" fill="#f79c6f"/><rect x="1619" y="1645" fill="#f79e70"/><rect x="1139" y="1665" fill="#fde9b7"/><rect x="1159" y="1665" fill="#fde9b8"/><rect x="1179" y="1665" fill="#fdeab9"/><rect x="1199" y="1665" fill="#fdeaba"/><rect x="1219" y="1665" fill="#fdeaba"/><rect x="1239" y="1665" fill="#fdeabc"/><rect x="1259" y="1665" fill="#fdeabd"/><rect x="1279" y="1665" fill="#fdeabd"/><rect x="1299" y="1665" fill="#fde7b9"/><rect x="1319" y="1665" fill="#fde2b3"/><rect x="1339" y="1665" fill="#fcddab"/><rect x="1359" y="1665" fill="#fcd8a5"/><rect x="1379" y="1665" fill="#fcd4a0"/><rect x="1399" y="1665" fill="#fbd09b"/><rect x="1419" y="1665" fill="#fac793"/><rect x="1439" y="1665" fill="#f9ba87"/><rect x="1459" y="1665" fill="#f8ae7c"/><rect x="1479" y="1665" fill="#f7a576"/><rect x="1499" y="1665" fill="#f6a072"/><rect x="1519" y="1665" fill="#f69c6e"/><rect x="1539" y="1665" fill="#f5996c"/><rect x="1559" y="1665" fill="#f6986c"/><rect x="1579" y="1665" fill="#f6986c"/><rect x="1599" y="1665" fill="#f6996d"/><rect x="1619" y="1665" fill="#f79b6e"/><rect x="1139" y="1685" fill="#fde8b6"/><rect x="1159" y="1685" fill="#fde8b7"/><rect x="1179" y="1685" fill="#fde9b7"/><rect x="1199" y="1685" fill="#fde9b8"/><rect x="1219" y="1685" fill="#fde9b9"/><rect x="1239" y="1685" fill="#fdeaba"/><rect x="1259" y="1685" fill="#fde9ba"/><rect x="1279" y="1685" fill="#fde8b9"/><rect x="1299" y="1685" fill="#fde4b4"/><rect x="1319" y="1685" fill="#fddfad"/><rect x="1339" y="1685" fill="#fcdaa7"/><rect x="1359" y="1685" fill="#fcd6a2"/><rect x="1379" y="1685" fill="#fbd29d"/><rect x="1399" y="1685" fill="#fbcc97"/><rect x="1419" y="1685" fill="#fac38e"/><rect x="1439" y="1685" fill="#f9b784"/><rect x="1459" y="1685" fill="#f7ab7a"/><rect x="1479" y="1685" fill="#f6a374"/><rect x="1499" y="1685" fill="#f69e6f"/><rect x="1519" y="1685" fill="#f59a6d"/><rect x="1539" y="1685" fill="#f5976b"/><rect x="1559" y="1685" fill="#f5966a"/><rect x="1579" y="1685" fill="#f5966a"/><rect x="1599" y="1685" fill="#f6976b"/><rect x="1139" y="1705" fill="#fde7b5"/><rect x="1159" y="1705" fill="#fde8b5"/><rect x="1179" y="1705" fill="#fde8b6"/><rect x="1199" y="1705" fill="#fde9b7"/><rect x="1219" y="1705" fill="#fde9b8"/><rect x="1239" y="1705" fill="#fde9b9"/><rect x="1259" y="1705" fill="#fde8b8"/><rect x="1279" y="1705" fill="#fde6b6"/><rect x="1299" y="1705" fill="#fde1b0"/><rect x="1319" y="1705" fill="#fcdca9"/><rect x="1339" y="1705" fill="#fcd8a4"/><rect x="1359" y="1705" fill="#fcd49f"/><rect x="1379" y="1705" fill="#fbcf9a"/><rect x="1399" y="1705" fill="#fbc893"/><rect x="1419" y="1705" fill="#fac08b"/><rect x="1439" y="1705" fill="#f9b682"/><rect x="1459" y="1705" fill="#f7ac7a"/><rect x="1479" y="1705" fill="#f6a373"/><rect x="1499" y="1705" fill="#f59d6f"/><rect x="1519" y="1705" fill="#f5996c"/><rect x="1539" y="1705" fill="#f5966a"/><rect x="1559" y="1705" fill="#f59569"/><rect x="1579" y="1705" fill="#f59569"/><rect x="1139" y="1725" fill="#fde7b4"/><rect x="1159" y="1725" fill="#fde7b5"/><rect x="1179" y="1725" fill="#fde8b5"/><rect x="1199" y="1725" fill="#fde8b6"/><rect x="1219" y="1725" fill="#fde9b7"/><rect x="1239" y="1725" fill="#fde9b8"/><rect x="1259" y="1725" fill="#fde8b7"/><rect x="1279" y="1725" fill="#fde5b4"/><rect x="1299" y="1725" fill="#fcdfad"/><rect x="1319" y="1725" fill="#fcdaa6"/><rect x="1339" y="1725" fill="#fcd6a1"/><rect x="1359" y="1725" fill="#fbd19c"/><rect x="1379" y="1725" fill="#fbcc97"/><rect x="1399" y="1725" fill="#fac691"/><rect x="1419" y="1725" fill="#fabf8a"/><rect x="1439" y="1725" fill="#f9b682"/><rect x="1459" y="1725" fill="#f8ad7b"/><rect x="1479" y="1725" fill="#f6a574"/><rect x="1499" y="1725" fill="#f59e6f"/><rect x="1519" y="1725" fill="#f59a6c"/><rect x="1539" y="1725" fill="#f4976a"/><rect x="1559" y="1725" fill="#f49569"/><rect x="1139" y="1745" fill="#fde7b4"/><rect x="1159" y="1745" fill="#fde7b4"/><rect x="1179" y="1745" fill="#fde7b5"/><rect x="1199" y="1745" fill="#fde8b6"/><rect x="1219" y="1745" fill="#fde8b7"/><rect x="1239" y="1745" fill="#fde8b7"/><rect x="1259" y="1745" fill="#fde8b6"/><rect x="1279" y="1745" fill="#fde4b2"/><rect x="1299" y="1745" fill="#fcdeab"/><rect x="1319" y="1745" fill="#fcd8a4"/><rect x="1339" y="1745" fill="#fbd49f"/><rect x="1359" y="1745" fill="#fbcf9a"/><rect x="1379" y="1745" fill="#fbca95"/><rect x="1399" y="1745" fill="#fac58f"/><rect x="1419" y="1745" fill="#fabe89"/><rect x="1439" y="1745" fill="#f9b782"/><rect x="1459" y="1745" fill="#f8af7c"/><rect x="1479" y="1745" fill="#f7a776"/><rect x="1499" y="1745" fill="#f6a071"/><rect x="1519" y="1745" fill="#f59b6d"/><rect x="1159" y="1765" fill="#fde7b4"/><rect x="1179" y="1765" fill="#fde7b5"/><rect x="1199" y="1765" fill="#fde8b5"/><rect x="1219" y="1765" fill="#fde8b6"/><rect x="1239" y="1765" fill="#fde8b7"/><rect x="1259" y="1765" fill="#fde7b6"/><rect x="1279" y="1765" fill="#fde3b1"/><rect x="1299" y="1765" fill="#fcdca9"/><rect x="1319" y="1765" fill="#fcd6a1"/><rect x="1339" y="1765" fill="#fbd29c"/><rect x="1359" y="1765" fill="#fbcd98"/><rect x="1379" y="1765" fill="#fbc993"/><rect x="1399" y="1765" fill="#fac48e"/><rect x="1419" y="1765" fill="#fabe89"/><rect x="1439" y="1765" fill="#f9b783"/><rect x="1179" y="1785" fill="#fde7b4"/><rect x="1199" y="1785" fill="#fde7b5"/><rect x="1219" y="1785" fill="#fde8b6"/><rect x="1239" y="1785" fill="#fde8b7"/></g></g></g><rect x="849" y="1725.5" width="51" height="7.0" fill="#fffdc8"/><rect x="849" y="1719.1" width="51" height="7.0" fill="#fffabf"/><rect x="849" y="1712.7" width="51" height="7.0" fill="#fff6b6"/><rect x="849" y="1706.2" width="51" height="7.0" fill="#fff2ad"/><rect x="849" y="1699.8" width="51" height="7.0" fill="#ffefa4"/><rect x="849" y="1693.3" width="51" height="7.0" fill="#ffeb9c"/><rect x="849" y="1686.8" width="51" height="7.0" fill="#ffe793"/><rect x="849" y="1680.4" width="51" height="7.0" fill="#fee38b"/><rect x="849" y="1674.0" width="51" height="7.0" fill="#fedf83"/><rect x="849" y="1667.5" width="51" height="7.0" fill="#fedb7a"/><rect x="849" y="1661.0" width="51" height="7.0" fill="#fed572"/><rect x="849" y="1654.6" width="51" height="7.0" fill="#fecd69"/><rect x="849" y="1648.2" width="51" height="7.0" fill="#fec661"/><rect x="849" y="1641.7" width="51" height="7.0" fill="#febe59"/><rect x="849" y="1635.2" width="51" height="7.0" fill="#feb650"/><rect x="849" y="1628.8" width="51" height="7.0" fill="#feae4a"/><rect x="849" y="1622.3" width="51" height="7.0" fill="#fea747"/><rect x="849" y="1615.9" width="51" height="7.0" fill="#fea044"/><rect x="849" y="1609.5" width="51" height="7.0" fill="#fd9841"/><rect x="849" y="1603.0" width="51" height="7.0" fill="#fd913e"/><rect x="849" y="1596.5" width="51" height="7.0" fill="#fd873a"/><rect x="849" y="1590.1" width="51" height="7.0" fill="#fd7a37"/><rect x="849" y="1583.7" width="51" height="7.0" fill="#fc6e33"/><rect x="849" y="1577.2" width="51" height="7.0" fill="#fc612f"/><rect x="849" y="1570.8" width="51" height="7.0" fill="#fc542c"/><rect x="849" y="1564.3" width="51" height="7.0" fill="#fa4929"/><rect x="849" y="1557.8" width="51" height="7.0" fill="#f43e26"/><rect x="849" y="1551.4" width="51" height="7.0" fill="#f03423"/><rect x="849" y="1545.0" width="51" height="7.0" fill="#ea2a20"/><rect x="849" y="1538.5" width="51" height="7.0" fill="#e61f1d"/><rect x="849" y="1532.0" width="51" height="7.0" fill="#df171d"/><rect x="849" y="1525.6" width="51" height="7.0" fill="#d8121f"/><rect x="849" y="1519.2" width="51" height="7.0" fill="#d00d21"/><rect x="849" y="1512.7" width="51" height="7.0" fill="#c80823"/><rect x="849" y="1506.2" width="51" height="7.0" fill="#c10325"/><rect x="849" y="1499.8" width="51" height="7.0" fill="#b70026"/><rect x="849" y="1493.3" width="51" height="7.0" fill="#ab0026"/><rect x="849" y="1486.9" width="51" height="7.0" fill="#9e0026"/><rect x="849" y="1480.5" width="51" height="7.0" fill="#920026"/><rect x="849" y="1474.0" width="51" height="7.0" fill="#860026"/><path d="M849,1492h10M900,1492h-10" stroke="#fff" stroke-width="1.5" opacity="0.8"/><path d="M849,1550.5h10M900,1550.5h-10" stroke="#fff" stroke-width="1.5" opacity="0.8"/><path d="M849,1609h10M900,1609h-10" stroke="#fff" stroke-width="1.5" opacity="0.8"/><path d="M849,1667h10M900,1667h-10" stroke="#fff" stroke-width="1.5" opacity="0.8"/><path d="M849,1726h10M900,1726h-10" stroke="#fff" stroke-width="1.5" opacity="0.8"/><text x="917" y="1502.5" font-size="30.5">2.0</text><text x="917" y="1561.0" font-size="30.5">1.5</text><text x="917" y="1619.5" font-size="30.5">1.0</text><text x="917" y="1677.5" font-size="30.5">0.5</text><text x="917" y="1736.5" font-size="30.5">0.0</text><text x="871.5" y="1434" font-size="22.5" text-anchor="middle">Aggregated new</text><text x="875" y="1460" font-size="22.5" text-anchor="middle">RNA levels</text><rect x="1757" y="1725.5" width="50" height="7.0" fill="#fffdc8"/><rect x="1757" y="1719.1" width="50" height="7.0" fill="#fffabf"/><rect x="1757" y="1712.7" width="50" height="7.0" fill="#fff6b6"/><rect x="1757" y="1706.2" width="50" height="7.0" fill="#fff2ad"/><rect x="1757" y="1699.8" width="50" height="7.0" fill="#ffefa4"/><rect x="1757" y="1693.3" width="50" height="7.0" fill="#ffeb9c"/><rect x="1757" y="1686.8" width="50" height="7.0" fill="#ffe793"/><rect x="1757" y="1680.4" width="50" height="7.0" fill="#fee38b"/><rect x="1757" y="1674.0" width="50" height="7.0" fill="#fedf83"/><rect x="1757" y="1667.5" width="50" height="7.0" fill="#fedb7a"/><rect x="1757" y="1661.0" width="50" height="7.0" fill="#fed572"/><rect x="1757" y="1654.6" width="50" height="7.0" fill="#fecd69"/><rect x="1757" y="1648.2" width="50" height="7.0" fill="#fec661"/><rect x="1757" y="1641.7" width="50" height="7.0" fill="#febe59"/><rect x="1757" y="1635.2" width="50" height="7.0" fill="#feb650"/><rect x="1757" y="1628.8" width="50" height="7.0" fill="#feae4a"/><rect x="1757" y="1622.3" width="50" height="7.0" fill="#fea747"/><rect x="1757" y="1615.9" width="50" height="7.0" fill="#fea044"/><rect x="1757" y="1609.5" width="50" height="7.0" fill="#fd9841"/><rect x="1757" y="1603.0" width="50" height="7.0" fill="#fd913e"/><rect x="1757" y="1596.5" width="50" height="7.0" fill="#fd873a"/><rect x="1757" y="1590.1" width="50" height="7.0" fill="#fd7a37"/><rect x="1757" y="1583.7" width="50" height="7.0" fill="#fc6e33"/><rect x="1757" y="1577.2" width="50" height="7.0" fill="#fc612f"/><rect x="1757" y="1570.8" width="50" height="7.0" fill="#fc542c"/><rect x="1757" y="1564.3" width="50" height="7.0" fill="#fa4929"/><rect x="1757" y="1557.8" width="50" height="7.0" fill="#f43e26"/><rect x="1757" y="1551.4" width="50" height="7.0" fill="#f03423"/><rect x="1757" y="1545.0" width="50" height="7.0" fill="#ea2a20"/><rect x="1757" y="1538.5" width="50" height="7.0" fill="#e61f1d"/><rect x="1757" y="1532.0" width="50" height="7.0" fill="#df171d"/><rect x="1757" y="1525.6" width="50" height="7.0" fill="#d8121f"/><rect x="1757" y="1519.2" width="50" height="7.0" fill="#d00d21"/><rect x="1757" y="1512.7" width="50" height="7.0" fill="#c80823"/><rect x="1757" y="1506.2" width="50" height="7.0" fill="#c10325"/><rect x="1757" y="1499.8" width="50" height="7.0" fill="#b70026"/><rect x="1757" y="1493.3" width="50" height="7.0" fill="#ab0026"/><rect x="1757" y="1486.9" width="50" height="7.0" fill="#9e0026"/><rect x="1757" y="1480.5" width="50" height="7.0" fill="#920026"/><rect x="1757" y="1474.0" width="50" height="7.0" fill="#860026"/><path d="M1757,1540.5h10M1807,1540.5h-10" stroke="#fff" stroke-width="1.5" opacity="0.8"/><path d="M1757,1602.5h10M1807,1602.5h-10" stroke="#fff" stroke-width="1.5" opacity="0.8"/><path d="M1757,1664h10M1807,1664h-10" stroke="#fff" stroke-width="1.5" opacity="0.8"/><path d="M1757,1725.5h10M1807,1725.5h-10" stroke="#fff" stroke-width="1.5" opacity="0.8"/><text x="1825" y="1551.0" font-size="30.5">1.2</text><text x="1825" y="1613.0" font-size="30.5">0.8</text><text x="1825" y="1674.5" font-size="30.5">0.4</text><text x="1825" y="1736.0" font-size="30.5">0.0</text><text x="1779" y="1434" font-size="22.5" text-anchor="middle">Aggregated new</text><text x="1781.5" y="1460" font-size="22.5" text-anchor="middle">RNA levels</text><text x="0" y="1916.3" font-size="44.5" font-weight="bold">c</text><text x="384" y="1916" font-size="31" text-anchor="middle">Jun</text><text x="1074" y="1916" font-size="31" text-anchor="middle">Mef2d</text><text x="1723.5" y="1916" font-size="31" text-anchor="middle">Maff</text><text x="687.5" y="1947" font-size="22.6" text-anchor="middle">Single-cell</text><text x="690.5" y="1974" font-size="22.6" text-anchor="middle">TF regulon activity</text><text x="690.5" y="2001" font-size="22.6" text-anchor="middle">(new RNAs)</text><text x="1360" y="1947" font-size="22.6" text-anchor="middle">Single-cell</text><text x="1363" y="1974" font-size="22.6" text-anchor="middle">TF regulon activity</text><text x="1363" y="2001" font-size="22.6" text-anchor="middle">(new RNAs)</text><text x="2022.5" y="1947" font-size="22.6" text-anchor="middle">Single-cell</text><text x="2025.5" y="1974" font-size="22.6" text-anchor="middle">TF regulon activity</text><text x="2025.5" y="2001" font-size="22.6" text-anchor="middle">(new RNAs)</text><rect x="662" y="2250.3" width="47" height="12.3" fill="#535da9"/><rect x="662" y="2238.6" width="47" height="12.3" fill="#3d7ab6"/><rect x="662" y="2226.9" width="47" height="12.3" fill="#3f96b7"/><rect x="662" y="2215.2" width="47" height="12.3" fill="#59b4ab"/><rect x="662" y="2203.5" width="47" height="12.3" fill="#77c9a5"/><rect x="662" y="2191.8" width="47" height="12.3" fill="#9ad6a4"/><rect x="662" y="2180.1" width="47" height="12.3" fill="#bae3a1"/><rect x="662" y="2168.4" width="47" height="12.3" fill="#d7ef9b"/><rect x="662" y="2156.7" width="47" height="12.3" fill="#ecf8a2"/><rect x="662" y="2145.0" width="47" height="12.3" fill="#f9fcb5"/><rect x="662" y="2133.3" width="47" height="12.3" fill="#fff7b2"/><rect x="662" y="2121.6" width="47" height="12.3" fill="#fee898"/><rect x="662" y="2109.9" width="47" height="12.3" fill="#fed480"/><rect x="662" y="2098.2" width="47" height="12.3" fill="#fdba6c"/><rect x="662" y="2086.5" width="47" height="12.3" fill="#fb9e5a"/><rect x="662" y="2074.8" width="47" height="12.3" fill="#f67d4a"/><rect x="662" y="2063.1" width="47" height="12.3" fill="#ec6146"/><rect x="662" y="2051.4" width="47" height="12.3" fill="#dd4a4c"/><rect x="662" y="2039.7" width="47" height="12.3" fill="#c72f4c"/><rect x="662" y="2028.0" width="47" height="12.3" fill="#ac1045"/><path d="M662,2058h10M709,2058h-10" stroke="#fff" stroke-width="1.5" opacity="0.8"/><path d="M662,2108h10M709,2108h-10" stroke="#fff" stroke-width="1.5" opacity="0.8"/><path d="M662,2157h10M709,2157h-10" stroke="#fff" stroke-width="1.5" opacity="0.8"/><path d="M662,2207h10M709,2207h-10" stroke="#fff" stroke-width="1.5" opacity="0.8"/><path d="M662,2257h10M709,2257h-10" stroke="#fff" stroke-width="1.5" opacity="0.8"/><text x="722" y="2068.5" font-size="30.5">0.4</text><text x="722" y="2118.5" font-size="30.5">0.3</text><text x="722" y="2167.5" font-size="30.5">0.2</text><text x="722" y="2217.5" font-size="30.5">0.1</text><text x="722" y="2267.5" font-size="30.5">0.0</text><rect x="1337" y="2251.3" width="46" height="12.3" fill="#535da9"/><rect x="1337" y="2239.6" width="46" height="12.3" fill="#3d7ab6"/><rect x="1337" y="2227.9" width="46" height="12.3" fill="#3f96b7"/><rect x="1337" y="2216.2" width="46" height="12.3" fill="#59b4ab"/><rect x="1337" y="2204.5" width="46" height="12.3" fill="#77c9a5"/><rect x="1337" y="2192.8" width="46" height="12.3" fill="#9ad6a4"/><rect x="1337" y="2181.1" width="46" height="12.3" fill="#bae3a1"/><rect x="1337" y="2169.4" width="46" height="12.3" fill="#d7ef9b"/><rect x="1337" y="2157.7" width="46" height="12.3" fill="#ecf8a2"/><rect x="1337" y="2146.0" width="46" height="12.3" fill="#f9fcb5"/><rect x="1337" y="2134.3" width="46" height="12.3" fill="#fff7b2"/><rect x="1337" y="2122.6" width="46" height="12.3" fill="#fee898"/><rect x="1337" y="2110.9" width="46" height="12.3" fill="#fed480"/><rect x="1337" y="2099.2" width="46" height="12.3" fill="#fdba6c"/><rect x="1337" y="2087.5" width="46" height="12.3" fill="#fb9e5a"/><rect x="1337" y="2075.8" width="46" height="12.3" fill="#f67d4a"/><rect x="1337" y="2064.1" width="46" height="12.3" fill="#ec6146"/><rect x="1337" y="2052.4" width="46" height="12.3" fill="#dd4a4c"/><rect x="1337" y="2040.7" width="46" height="12.3" fill="#c72f4c"/><rect x="1337" y="2029.0" width="46" height="12.3" fill="#ac1045"/><path d="M1337,2046h10M1383,2046h-10" stroke="#fff" stroke-width="1.5" opacity="0.8"/><path d="M1337,2098h10M1383,2098h-10" stroke="#fff" stroke-width="1.5" opacity="0.8"/><path d="M1337,2150.5h10M1383,2150.5h-10" stroke="#fff" stroke-width="1.5" opacity="0.8"/><path d="M1337,2203h10M1383,2203h-10" stroke="#fff" stroke-width="1.5" opacity="0.8"/><path d="M1337,2257.7h10M1383,2257.7h-10" stroke="#fff" stroke-width="1.5" opacity="0.8"/><text x="1398" y="2056.5" font-size="30.5">0.4</text><text x="1398" y="2108.5" font-size="30.5">0.3</text><text x="1398" y="2161.0" font-size="30.5">0.2</text><text x="1398" y="2213.5" font-size="30.5">0.1</text><text x="1398" y="2268.2" font-size="30.5">0.0</text><rect x="2005" y="2258.2" width="46" height="12.3" fill="#535da9"/><rect x="2005" y="2246.5" width="46" height="12.3" fill="#3d7ab6"/><rect x="2005" y="2234.8" width="46" height="12.3" fill="#3f96b7"/><rect x="2005" y="2223.0" width="46" height="12.3" fill="#59b4ab"/><rect x="2005" y="2211.2" width="46" height="12.3" fill="#77c9a5"/><rect x="2005" y="2199.5" width="46" height="12.3" fill="#9ad6a4"/><rect x="2005" y="2187.8" width="46" height="12.3" fill="#bae3a1"/><rect x="2005" y="2176.0" width="46" height="12.3" fill="#d7ef9b"/><rect x="2005" y="2164.2" width="46" height="12.3" fill="#ecf8a2"/><rect x="2005" y="2152.5" width="46" height="12.3" fill="#f9fcb5"/><rect x="2005" y="2140.8" width="46" height="12.3" fill="#fff7b2"/><rect x="2005" y="2129.0" width="46" height="12.3" fill="#fee898"/><rect x="2005" y="2117.2" width="46" height="12.3" fill="#fed480"/><rect x="2005" y="2105.5" width="46" height="12.3" fill="#fdba6c"/><rect x="2005" y="2093.8" width="46" height="12.3" fill="#fb9e5a"/><rect x="2005" y="2082.0" width="46" height="12.3" fill="#f67d4a"/><rect x="2005" y="2070.2" width="46" height="12.3" fill="#ec6146"/><rect x="2005" y="2058.5" width="46" height="12.3" fill="#dd4a4c"/><rect x="2005" y="2046.8" width="46" height="12.3" fill="#c72f4c"/><rect x="2005" y="2035.0" width="46" height="12.3" fill="#ac1045"/><path d="M2005,2088.7h10M2051,2088.7h-10" stroke="#fff" stroke-width="1.5" opacity="0.8"/><path d="M2005,2151h10M2051,2151h-10" stroke="#fff" stroke-width="1.5" opacity="0.8"/><path d="M2005,2212.9h10M2051,2212.9h-10" stroke="#fff" stroke-width="1.5" opacity="0.8"/><text x="2066" y="2099.2" font-size="30.5">0.75</text><text x="2066" y="2161.5" font-size="30.5">0.50</text><text x="2066" y="2223.4" font-size="30.5">0.25</text><g id="bC1" mask="url(#mC1)"><g filter="url(#texB)"><g filter="url(#fC1)" class="c16"><rect x="364" y="1950" fill="#659fad"/><rect x="380" y="1950" fill="#78afab"/><rect x="396" y="1950" fill="#8dbfa9"/><rect x="412" y="1950" fill="#a0cda6"/><rect x="428" y="1950" fill="#b0d6a4"/><rect x="444" y="1950" fill="#bddca2"/><rect x="460" y="1950" fill="#c8e1a0"/><rect x="476" y="1950" fill="#d3e39e"/><rect x="492" y="1950" fill="#dce49d"/><rect x="508" y="1950" fill="#e3e49b"/><rect x="348" y="1966" fill="#5490af"/><rect x="364" y="1966" fill="#5f9aae"/><rect x="380" y="1966" fill="#70a8ac"/><rect x="396" y="1966" fill="#85b9aa"/><rect x="412" y="1966" fill="#9bc8a7"/><rect x="428" y="1966" fill="#add4a5"/><rect x="444" y="1966" fill="#bcdba2"/><rect x="460" y="1966" fill="#c9e0a0"/><rect x="476" y="1966" fill="#d4e39e"/><rect x="492" y="1966" fill="#dde49c"/><rect x="508" y="1966" fill="#e5e39a"/><rect x="524" y="1966" fill="#eae198"/><rect x="540" y="1966" fill="#eede96"/><rect x="332" y="1982" fill="#4f88b0"/><rect x="348" y="1982" fill="#528db0"/><rect x="364" y="1982" fill="#5a95af"/><rect x="380" y="1982" fill="#69a2ad"/><rect x="396" y="1982" fill="#7cb1ab"/><rect x="412" y="1982" fill="#93c2a8"/><rect x="428" y="1982" fill="#a8d0a5"/><rect x="444" y="1982" fill="#bad9a3"/><rect x="460" y="1982" fill="#c8dfa0"/><rect x="476" y="1982" fill="#d5e29e"/><rect x="492" y="1982" fill="#dfe39c"/><rect x="508" y="1982" fill="#e6e29a"/><rect x="524" y="1982" fill="#ebe098"/><rect x="540" y="1982" fill="#efdd96"/><rect x="556" y="1982" fill="#f1da94"/><rect x="572" y="1982" fill="#f2d793"/><rect x="316" y="1998" fill="#5182b1"/><rect x="332" y="1998" fill="#5085b1"/><rect x="348" y="1998" fill="#528ab0"/><rect x="364" y="1998" fill="#5791b0"/><rect x="380" y="1998" fill="#629bae"/><rect x="396" y="1998" fill="#73aaac"/><rect x="412" y="1998" fill="#89baaa"/><rect x="428" y="1998" fill="#a0caa6"/><rect x="444" y="1998" fill="#b6d6a3"/><rect x="460" y="1998" fill="#c7dea0"/><rect x="476" y="1998" fill="#d5e29e"/><rect x="492" y="1998" fill="#dfe29b"/><rect x="508" y="1998" fill="#e7e199"/><rect x="524" y="1998" fill="#ecdf97"/><rect x="540" y="1998" fill="#efdc95"/><rect x="556" y="1998" fill="#f1d994"/><rect x="572" y="1998" fill="#f1d792"/><rect x="588" y="1998" fill="#f2d692"/><rect x="316" y="2014" fill="#557fb1"/><rect x="332" y="2014" fill="#5383b1"/><rect x="348" y="2014" fill="#5388b1"/><rect x="364" y="2014" fill="#568eb0"/><rect x="380" y="2014" fill="#5e96af"/><rect x="396" y="2014" fill="#6ba2ae"/><rect x="412" y="2014" fill="#7fb2ab"/><rect x="428" y="2014" fill="#97c2a8"/><rect x="444" y="2014" fill="#afd1a4"/><rect x="460" y="2014" fill="#c4dba1"/><rect x="476" y="2014" fill="#d3e09e"/><rect x="492" y="2014" fill="#dee29b"/><rect x="508" y="2014" fill="#e6e199"/><rect x="524" y="2014" fill="#ebde97"/><rect x="540" y="2014" fill="#eedb95"/><rect x="556" y="2014" fill="#f0d993"/><rect x="572" y="2014" fill="#f0d793"/><rect x="588" y="2014" fill="#f0d692"/><rect x="604" y="2014" fill="#f0d692"/><rect x="316" y="2030" fill="#587cb1"/><rect x="332" y="2030" fill="#5780b1"/><rect x="348" y="2030" fill="#5685b1"/><rect x="364" y="2030" fill="#578bb1"/><rect x="380" y="2030" fill="#5c93b0"/><rect x="396" y="2030" fill="#669daf"/><rect x="412" y="2030" fill="#77abac"/><rect x="428" y="2030" fill="#8ebba9"/><rect x="444" y="2030" fill="#a7cba5"/><rect x="460" y="2030" fill="#bdd7a2"/><rect x="476" y="2030" fill="#cfde9f"/><rect x="492" y="2030" fill="#dbe09c"/><rect x="508" y="2030" fill="#e3e099"/><rect x="524" y="2030" fill="#e9de97"/><rect x="540" y="2030" fill="#ecdb95"/><rect x="556" y="2030" fill="#eed994"/><rect x="572" y="2030" fill="#efd893"/><rect x="588" y="2030" fill="#eed893"/><rect x="604" y="2030" fill="#eed993"/><rect x="300" y="2046" fill="#5d77b1"/><rect x="316" y="2046" fill="#5c7ab1"/><rect x="332" y="2046" fill="#5a7db1"/><rect x="348" y="2046" fill="#5982b1"/><rect x="364" y="2046" fill="#5989b1"/><rect x="380" y="2046" fill="#5c91b0"/><rect x="396" y="2046" fill="#649baf"/><rect x="412" y="2046" fill="#73a7ad"/><rect x="428" y="2046" fill="#87b6aa"/><rect x="444" y="2046" fill="#a0c6a7"/><rect x="460" y="2046" fill="#b6d3a3"/><rect x="476" y="2046" fill="#c8dba0"/><rect x="492" y="2046" fill="#d5df9d"/><rect x="508" y="2046" fill="#dfe09a"/><rect x="524" y="2046" fill="#e5de98"/><rect x="540" y="2046" fill="#e9dc96"/><rect x="556" y="2046" fill="#ebda94"/><rect x="572" y="2046" fill="#ecda94"/><rect x="588" y="2046" fill="#ecda94"/><rect x="604" y="2046" fill="#ebdb95"/><rect x="620" y="2046" fill="#ebdd95"/><rect x="300" y="2062" fill="#5f74b1"/><rect x="316" y="2062" fill="#5e77b1"/><rect x="332" y="2062" fill="#5d7ab1"/><rect x="348" y="2062" fill="#5c7fb1"/><rect x="364" y="2062" fill="#5b87b1"/><rect x="380" y="2062" fill="#5e90b0"/><rect x="396" y="2062" fill="#659aaf"/><rect x="412" y="2062" fill="#72a6ae"/><rect x="428" y="2062" fill="#84b3ab"/><rect x="444" y="2062" fill="#9ac2a8"/><rect x="460" y="2062" fill="#afcfa4"/><rect x="476" y="2062" fill="#c1d9a1"/><rect x="492" y="2062" fill="#cedd9e"/><rect x="508" y="2062" fill="#d8df9c"/><rect x="524" y="2062" fill="#dfdf99"/><rect x="540" y="2062" fill="#e4dd97"/><rect x="556" y="2062" fill="#e7dc96"/><rect x="572" y="2062" fill="#e8dc95"/><rect x="588" y="2062" fill="#e8dd96"/><rect x="604" y="2062" fill="#e8de96"/><rect x="620" y="2062" fill="#e8df97"/><rect x="300" y="2078" fill="#6171b0"/><rect x="316" y="2078" fill="#6073b1"/><rect x="332" y="2078" fill="#5f77b1"/><rect x="348" y="2078" fill="#5e7cb1"/><rect x="364" y="2078" fill="#5e84b1"/><rect x="380" y="2078" fill="#608eb0"/><rect x="396" y="2078" fill="#6699b0"/><rect x="412" y="2078" fill="#71a4ae"/><rect x="428" y="2078" fill="#81b1ac"/><rect x="444" y="2078" fill="#95bfa9"/><rect x="460" y="2078" fill="#a9cba6"/><rect x="476" y="2078" fill="#b9d5a3"/><rect x="492" y="2078" fill="#c5dba0"/><rect x="508" y="2078" fill="#cfde9e"/><rect x="524" y="2078" fill="#d6df9b"/><rect x="540" y="2078" fill="#dcdf99"/><rect x="556" y="2078" fill="#e0df98"/><rect x="572" y="2078" fill="#e2df97"/><rect x="588" y="2078" fill="#e3e097"/><rect x="604" y="2078" fill="#e4e197"/><rect x="620" y="2078" fill="#e5e298"/><rect x="284" y="2094" fill="#6168ae"/><rect x="300" y="2094" fill="#626daf"/><rect x="316" y="2094" fill="#6170b0"/><rect x="332" y="2094" fill="#6173b0"/><rect x="348" y="2094" fill="#6078b1"/><rect x="364" y="2094" fill="#6080b1"/><rect x="380" y="2094" fill="#628bb0"/><rect x="396" y="2094" fill="#6797b0"/><rect x="412" y="2094" fill="#70a2af"/><rect x="428" y="2094" fill="#7eadad"/><rect x="444" y="2094" fill="#8fb9aa"/><rect x="460" y="2094" fill="#a1c6a7"/><rect x="476" y="2094" fill="#b0d0a5"/><rect x="492" y="2094" fill="#bbd7a2"/><rect x="508" y="2094" fill="#c4dba0"/><rect x="524" y="2094" fill="#cbdd9e"/><rect x="540" y="2094" fill="#d2df9c"/><rect x="556" y="2094" fill="#d7e09a"/><rect x="572" y="2094" fill="#dbe199"/><rect x="588" y="2094" fill="#dee299"/><rect x="604" y="2094" fill="#dfe399"/><rect x="620" y="2094" fill="#e1e499"/><rect x="236" y="2110" fill="#615aa9"/><rect x="252" y="2110" fill="#615caa"/><rect x="268" y="2110" fill="#615fab"/><rect x="284" y="2110" fill="#6164ad"/><rect x="300" y="2110" fill="#6269ae"/><rect x="316" y="2110" fill="#626caf"/><rect x="332" y="2110" fill="#6270b0"/><rect x="348" y="2110" fill="#6274b0"/><rect x="364" y="2110" fill="#627cb0"/><rect x="380" y="2110" fill="#6387b1"/><rect x="396" y="2110" fill="#6793b1"/><rect x="412" y="2110" fill="#6e9db0"/><rect x="428" y="2110" fill="#79a7ae"/><rect x="444" y="2110" fill="#88b2ac"/><rect x="460" y="2110" fill="#98bfa9"/><rect x="476" y="2110" fill="#a7cba6"/><rect x="492" y="2110" fill="#b2d3a4"/><rect x="508" y="2110" fill="#bad8a2"/><rect x="524" y="2110" fill="#c1dba0"/><rect x="540" y="2110" fill="#c8de9e"/><rect x="556" y="2110" fill="#cfe09c"/><rect x="572" y="2110" fill="#d4e29b"/><rect x="588" y="2110" fill="#d8e39a"/><rect x="604" y="2110" fill="#dae49a"/><rect x="620" y="2110" fill="#dde599"/><rect x="220" y="2126" fill="#615aa9"/><rect x="236" y="2126" fill="#615aa9"/><rect x="252" y="2126" fill="#615baa"/><rect x="268" y="2126" fill="#615daa"/><rect x="284" y="2126" fill="#6161ac"/><rect x="300" y="2126" fill="#6165ad"/><rect x="316" y="2126" fill="#6269ae"/><rect x="332" y="2126" fill="#626daf"/><rect x="348" y="2126" fill="#6271b0"/><rect x="364" y="2126" fill="#6278b0"/><rect x="380" y="2126" fill="#6383b1"/><rect x="396" y="2126" fill="#668eb1"/><rect x="412" y="2126" fill="#6b98b1"/><rect x="428" y="2126" fill="#74a0b0"/><rect x="444" y="2126" fill="#80abae"/><rect x="460" y="2126" fill="#8fb8ab"/><rect x="476" y="2126" fill="#9ec5a8"/><rect x="492" y="2126" fill="#a9cea6"/><rect x="508" y="2126" fill="#b2d4a4"/><rect x="524" y="2126" fill="#b9d9a2"/><rect x="540" y="2126" fill="#c0dc9f"/><rect x="556" y="2126" fill="#c7df9e"/><rect x="572" y="2126" fill="#cde29c"/><rect x="588" y="2126" fill="#d2e39b"/><rect x="604" y="2126" fill="#d5e59a"/><rect x="620" y="2126" fill="#d8e59a"/><rect x="204" y="2142" fill="#6159a9"/><rect x="220" y="2142" fill="#615aa9"/><rect x="236" y="2142" fill="#615aa9"/><rect x="252" y="2142" fill="#615baa"/><rect x="268" y="2142" fill="#615daa"/><rect x="284" y="2142" fill="#615fab"/><rect x="300" y="2142" fill="#6163ac"/><rect x="316" y="2142" fill="#6166ad"/><rect x="332" y="2142" fill="#616aae"/><rect x="348" y="2142" fill="#626eaf"/><rect x="364" y="2142" fill="#6275b0"/><rect x="380" y="2142" fill="#637fb1"/><rect x="396" y="2142" fill="#658ab2"/><rect x="412" y="2142" fill="#6993b2"/><rect x="428" y="2142" fill="#6f9bb1"/><rect x="444" y="2142" fill="#79a5b0"/><rect x="460" y="2142" fill="#87b1ad"/><rect x="476" y="2142" fill="#95beab"/><rect x="492" y="2142" fill="#a1c8a8"/><rect x="508" y="2142" fill="#abd0a5"/><rect x="524" y="2142" fill="#b3d5a3"/><rect x="540" y="2142" fill="#badaa1"/><rect x="556" y="2142" fill="#c1dd9f"/><rect x="572" y="2142" fill="#c7e09d"/><rect x="588" y="2142" fill="#cde39c"/><rect x="604" y="2142" fill="#d1e49b"/><rect x="204" y="2158" fill="#6159a9"/><rect x="220" y="2158" fill="#615aa9"/><rect x="236" y="2158" fill="#615aa9"/><rect x="252" y="2158" fill="#615baa"/><rect x="268" y="2158" fill="#605caa"/><rect x="284" y="2158" fill="#605eab"/><rect x="300" y="2158" fill="#6061ac"/><rect x="316" y="2158" fill="#6165ad"/><rect x="332" y="2158" fill="#6169ae"/><rect x="348" y="2158" fill="#616daf"/><rect x="364" y="2158" fill="#6273b0"/><rect x="380" y="2158" fill="#627bb1"/><rect x="396" y="2158" fill="#6485b2"/><rect x="412" y="2158" fill="#678eb3"/><rect x="428" y="2158" fill="#6c96b2"/><rect x="444" y="2158" fill="#749fb1"/><rect x="460" y="2158" fill="#7fabaf"/><rect x="476" y="2158" fill="#8bb6ad"/><rect x="492" y="2158" fill="#97c1aa"/><rect x="508" y="2158" fill="#a1caa8"/><rect x="524" y="2158" fill="#aad0a5"/><rect x="540" y="2158" fill="#b3d6a3"/><rect x="556" y="2158" fill="#bbdaa1"/><rect x="572" y="2158" fill="#c2de9f"/><rect x="588" y="2158" fill="#c8e19d"/><rect x="604" y="2158" fill="#cce39c"/><rect x="188" y="2174" fill="#6159a9"/><rect x="204" y="2174" fill="#6159a9"/><rect x="220" y="2174" fill="#6159a9"/><rect x="236" y="2174" fill="#615aa9"/><rect x="252" y="2174" fill="#615baa"/><rect x="268" y="2174" fill="#605caa"/><rect x="284" y="2174" fill="#605eab"/><rect x="300" y="2174" fill="#6060ab"/><rect x="316" y="2174" fill="#6064ac"/><rect x="332" y="2174" fill="#6068ae"/><rect x="348" y="2174" fill="#616caf"/><rect x="364" y="2174" fill="#6171b0"/><rect x="380" y="2174" fill="#6278b1"/><rect x="396" y="2174" fill="#6381b2"/><rect x="412" y="2174" fill="#668ab3"/><rect x="428" y="2174" fill="#6992b3"/><rect x="444" y="2174" fill="#6f9ab2"/><rect x="460" y="2174" fill="#77a4b1"/><rect x="476" y="2174" fill="#81aeaf"/><rect x="492" y="2174" fill="#8cb9ad"/><rect x="508" y="2174" fill="#96c1ab"/><rect x="524" y="2174" fill="#a0c9a8"/><rect x="540" y="2174" fill="#aad0a6"/><rect x="556" y="2174" fill="#b3d6a3"/><rect x="572" y="2174" fill="#bbdaa0"/><rect x="588" y="2174" fill="#c2de9e"/><rect x="188" y="2190" fill="#6159a9"/><rect x="204" y="2190" fill="#6159a9"/><rect x="220" y="2190" fill="#6159a9"/><rect x="236" y="2190" fill="#615aa9"/><rect x="252" y="2190" fill="#615aa9"/><rect x="268" y="2190" fill="#605caa"/><rect x="284" y="2190" fill="#605daa"/><rect x="300" y="2190" fill="#6060ab"/><rect x="316" y="2190" fill="#6063ac"/><rect x="332" y="2190" fill="#6067ad"/><rect x="348" y="2190" fill="#606caf"/><rect x="364" y="2190" fill="#6171b0"/><rect x="380" y="2190" fill="#6277b1"/><rect x="396" y="2190" fill="#637eb2"/><rect x="412" y="2190" fill="#6586b3"/><rect x="428" y="2190" fill="#688eb3"/><rect x="444" y="2190" fill="#6c95b3"/><rect x="460" y="2190" fill="#729eb2"/><rect x="476" y="2190" fill="#79a7b1"/><rect x="492" y="2190" fill="#82b0b0"/><rect x="508" y="2190" fill="#8bb9ae"/><rect x="524" y="2190" fill="#94c1ac"/><rect x="540" y="2190" fill="#9ec8a9"/><rect x="556" y="2190" fill="#a9cfa6"/><rect x="572" y="2190" fill="#b2d5a3"/><rect x="188" y="2206" fill="#6159a9"/><rect x="204" y="2206" fill="#6159a9"/><rect x="220" y="2206" fill="#6159a9"/><rect x="236" y="2206" fill="#615aa9"/><rect x="252" y="2206" fill="#615aa9"/><rect x="268" y="2206" fill="#605baa"/><rect x="284" y="2206" fill="#605daa"/><rect x="300" y="2206" fill="#605fab"/><rect x="316" y="2206" fill="#6062ac"/><rect x="332" y="2206" fill="#6066ad"/><rect x="348" y="2206" fill="#606bae"/><rect x="364" y="2206" fill="#6171b0"/><rect x="380" y="2206" fill="#6277b1"/><rect x="396" y="2206" fill="#637db2"/><rect x="412" y="2206" fill="#6484b3"/><rect x="428" y="2206" fill="#668ab3"/><rect x="444" y="2206" fill="#6991b3"/><rect x="460" y="2206" fill="#6e98b3"/><rect x="476" y="2206" fill="#73a1b2"/><rect x="492" y="2206" fill="#7aa9b1"/><rect x="508" y="2206" fill="#82b1b0"/><rect x="524" y="2206" fill="#8ab9ae"/><rect x="540" y="2206" fill="#93c0ac"/><rect x="556" y="2206" fill="#9dc7a9"/><rect x="188" y="2222" fill="#6159a9"/><rect x="204" y="2222" fill="#6159a9"/><rect x="220" y="2222" fill="#6159a9"/><rect x="236" y="2222" fill="#6159a9"/><rect x="252" y="2222" fill="#615aa9"/><rect x="268" y="2222" fill="#605baa"/><rect x="284" y="2222" fill="#605caa"/><rect x="300" y="2222" fill="#605eab"/><rect x="316" y="2222" fill="#5f61ac"/><rect x="332" y="2222" fill="#5f65ad"/><rect x="348" y="2222" fill="#606aae"/><rect x="364" y="2222" fill="#6170b0"/><rect x="380" y="2222" fill="#6176b1"/><rect x="396" y="2222" fill="#637cb2"/><rect x="412" y="2222" fill="#6482b3"/><rect x="428" y="2222" fill="#6588b3"/><rect x="444" y="2222" fill="#688db3"/><rect x="460" y="2222" fill="#6b94b3"/><rect x="476" y="2222" fill="#6f9bb3"/><rect x="492" y="2222" fill="#75a3b2"/><rect x="508" y="2222" fill="#7babb2"/><rect x="524" y="2222" fill="#82b2b0"/><rect x="540" y="2222" fill="#89b9af"/><rect x="188" y="2238" fill="#6159a9"/><rect x="204" y="2238" fill="#6159a9"/><rect x="220" y="2238" fill="#6159a9"/><rect x="236" y="2238" fill="#6159a9"/><rect x="252" y="2238" fill="#615aa9"/><rect x="268" y="2238" fill="#605baa"/><rect x="284" y="2238" fill="#605caa"/><rect x="300" y="2238" fill="#5f5eab"/><rect x="316" y="2238" fill="#5f61ab"/><rect x="332" y="2238" fill="#5f64ac"/><rect x="348" y="2238" fill="#5f6aae"/><rect x="364" y="2238" fill="#6070b0"/><rect x="380" y="2238" fill="#6176b1"/><rect x="396" y="2238" fill="#627cb2"/><rect x="412" y="2238" fill="#6481b3"/><rect x="428" y="2238" fill="#6586b3"/><rect x="444" y="2238" fill="#678ab4"/><rect x="460" y="2238" fill="#6990b3"/><rect x="476" y="2238" fill="#6c96b3"/><rect x="492" y="2238" fill="#719db3"/><rect x="508" y="2238" fill="#76a5b2"/><rect x="188" y="2254" fill="#6159a9"/><rect x="204" y="2254" fill="#6159a9"/><rect x="220" y="2254" fill="#6159a9"/><rect x="236" y="2254" fill="#6159a9"/><rect x="252" y="2254" fill="#615aa9"/><rect x="268" y="2254" fill="#605baa"/><rect x="284" y="2254" fill="#5f5caa"/><rect x="300" y="2254" fill="#5f5eab"/><rect x="316" y="2254" fill="#5f60ab"/><rect x="332" y="2254" fill="#5f63ac"/><rect x="348" y="2254" fill="#5f69ae"/><rect x="364" y="2254" fill="#606faf"/><rect x="380" y="2254" fill="#6176b1"/><rect x="396" y="2254" fill="#627cb2"/><rect x="412" y="2254" fill="#6380b3"/><rect x="428" y="2254" fill="#6484b3"/><rect x="444" y="2254" fill="#6688b4"/><rect x="460" y="2254" fill="#678cb4"/><rect x="476" y="2254" fill="#6a92b4"/><rect x="492" y="2254" fill="#6e98b3"/><rect x="188" y="2270" fill="#6159a9"/><rect x="204" y="2270" fill="#6159a9"/><rect x="220" y="2270" fill="#6159a9"/><rect x="236" y="2270" fill="#6159a9"/><rect x="252" y="2270" fill="#605aa9"/><rect x="268" y="2270" fill="#605baa"/><rect x="284" y="2270" fill="#5f5caa"/><rect x="300" y="2270" fill="#5f5eab"/><rect x="316" y="2270" fill="#5e60ab"/><rect x="332" y="2270" fill="#5e63ac"/><rect x="348" y="2270" fill="#5f68ad"/><rect x="364" y="2270" fill="#606faf"/><rect x="380" y="2270" fill="#6176b1"/><rect x="396" y="2270" fill="#627bb2"/><rect x="412" y="2270" fill="#637fb3"/><rect x="428" y="2270" fill="#6483b3"/><rect x="444" y="2270" fill="#6586b4"/><rect x="204" y="2286" fill="#6159a9"/><rect x="220" y="2286" fill="#6159a9"/><rect x="236" y="2286" fill="#6159a9"/><rect x="252" y="2286" fill="#605aa9"/><rect x="268" y="2286" fill="#605baa"/><rect x="284" y="2286" fill="#5f5daa"/><rect x="300" y="2286" fill="#5e5eab"/><rect x="316" y="2286" fill="#5e60ab"/><rect x="332" y="2286" fill="#5e62ac"/><rect x="348" y="2286" fill="#5f67ad"/></g></g></g><g id="bC2" mask="url(#mC2)"><g filter="url(#texB)"><g filter="url(#fC2)" class="c16"><rect x="1035" y="1951" fill="#5971b2"/><rect x="1051" y="1951" fill="#5975b3"/><rect x="1067" y="1951" fill="#5a7bb3"/><rect x="1083" y="1951" fill="#5c81b2"/><rect x="1099" y="1951" fill="#5e89b2"/><rect x="1115" y="1951" fill="#6292b1"/><rect x="1131" y="1951" fill="#679bb0"/><rect x="1147" y="1951" fill="#6ea3ae"/><rect x="1163" y="1951" fill="#75acad"/><rect x="1179" y="1951" fill="#7eb3ab"/><rect x="1195" y="1951" fill="#87baaa"/><rect x="1019" y="1967" fill="#586eb2"/><rect x="1035" y="1967" fill="#5871b2"/><rect x="1051" y="1967" fill="#5976b2"/><rect x="1067" y="1967" fill="#5a7bb3"/><rect x="1083" y="1967" fill="#5c81b2"/><rect x="1099" y="1967" fill="#5e89b2"/><rect x="1115" y="1967" fill="#6292b1"/><rect x="1131" y="1967" fill="#679bb0"/><rect x="1147" y="1967" fill="#6fa4ae"/><rect x="1163" y="1967" fill="#77adad"/><rect x="1179" y="1967" fill="#81b5ab"/><rect x="1195" y="1967" fill="#8cbda9"/><rect x="1211" y="1967" fill="#98c5a7"/><rect x="1003" y="1983" fill="#586db2"/><rect x="1019" y="1983" fill="#586fb2"/><rect x="1035" y="1983" fill="#5972b2"/><rect x="1051" y="1983" fill="#5976b2"/><rect x="1067" y="1983" fill="#5a7bb3"/><rect x="1083" y="1983" fill="#5c82b2"/><rect x="1099" y="1983" fill="#5e8ab2"/><rect x="1115" y="1983" fill="#6292b1"/><rect x="1131" y="1983" fill="#689cb0"/><rect x="1147" y="1983" fill="#70a5ae"/><rect x="1163" y="1983" fill="#7aafac"/><rect x="1179" y="1983" fill="#85b8aa"/><rect x="1195" y="1983" fill="#92c1a8"/><rect x="1211" y="1983" fill="#9fc9a5"/><rect x="1227" y="1983" fill="#abd1a3"/><rect x="1003" y="1999" fill="#5970b2"/><rect x="1019" y="1999" fill="#5972b2"/><rect x="1035" y="1999" fill="#5974b2"/><rect x="1051" y="1999" fill="#5a78b3"/><rect x="1067" y="1999" fill="#5b7db3"/><rect x="1083" y="1999" fill="#5d83b2"/><rect x="1099" y="1999" fill="#5f8bb2"/><rect x="1115" y="1999" fill="#6393b1"/><rect x="1131" y="1999" fill="#699db0"/><rect x="1147" y="1999" fill="#72a7ae"/><rect x="1163" y="1999" fill="#7db1ac"/><rect x="1179" y="1999" fill="#8abba9"/><rect x="1195" y="1999" fill="#98c5a6"/><rect x="1211" y="1999" fill="#a6cea4"/><rect x="1227" y="1999" fill="#b1d5a2"/><rect x="1243" y="1999" fill="#badaa0"/><rect x="1259" y="1999" fill="#c0dd9f"/><rect x="987" y="2015" fill="#5b75b2"/><rect x="1003" y="2015" fill="#5b75b2"/><rect x="1019" y="2015" fill="#5a76b2"/><rect x="1035" y="2015" fill="#5b78b2"/><rect x="1051" y="2015" fill="#5b7bb3"/><rect x="1067" y="2015" fill="#5d81b3"/><rect x="1083" y="2015" fill="#5f87b2"/><rect x="1099" y="2015" fill="#618eb2"/><rect x="1115" y="2015" fill="#6596b1"/><rect x="1131" y="2015" fill="#6b9fb0"/><rect x="1147" y="2015" fill="#74a8ae"/><rect x="1163" y="2015" fill="#81b3ab"/><rect x="1179" y="2015" fill="#90bfa8"/><rect x="1195" y="2015" fill="#a0caa5"/><rect x="1211" y="2015" fill="#aed2a2"/><rect x="1227" y="2015" fill="#b8d8a0"/><rect x="1243" y="2015" fill="#c0dd9f"/><rect x="1259" y="2015" fill="#c6e09e"/><rect x="987" y="2031" fill="#5d7bb3"/><rect x="1003" y="2031" fill="#5d7bb3"/><rect x="1019" y="2031" fill="#5d7cb3"/><rect x="1035" y="2031" fill="#5e7db3"/><rect x="1051" y="2031" fill="#5e81b3"/><rect x="1067" y="2031" fill="#6087b3"/><rect x="1083" y="2031" fill="#638db2"/><rect x="1099" y="2031" fill="#6594b2"/><rect x="1115" y="2031" fill="#699bb1"/><rect x="1131" y="2031" fill="#6fa2af"/><rect x="1147" y="2031" fill="#77abae"/><rect x="1163" y="2031" fill="#85b6ab"/><rect x="1179" y="2031" fill="#97c3a7"/><rect x="1195" y="2031" fill="#a8cea3"/><rect x="1211" y="2031" fill="#b6d6a1"/><rect x="1227" y="2031" fill="#c0dc9f"/><rect x="1243" y="2031" fill="#c7df9d"/><rect x="1259" y="2031" fill="#cce29c"/><rect x="1275" y="2031" fill="#d0e49c"/><rect x="987" y="2047" fill="#6081b3"/><rect x="1003" y="2047" fill="#6081b3"/><rect x="1019" y="2047" fill="#6082b3"/><rect x="1035" y="2047" fill="#6185b3"/><rect x="1051" y="2047" fill="#6389b3"/><rect x="1067" y="2047" fill="#668fb3"/><rect x="1083" y="2047" fill="#6896b2"/><rect x="1099" y="2047" fill="#6b9cb1"/><rect x="1115" y="2047" fill="#6fa1b0"/><rect x="1131" y="2047" fill="#74a7af"/><rect x="1147" y="2047" fill="#7caead"/><rect x="1163" y="2047" fill="#8ab9aa"/><rect x="1179" y="2047" fill="#9fc6a6"/><rect x="1195" y="2047" fill="#b2d2a1"/><rect x="1211" y="2047" fill="#c0da9e"/><rect x="1227" y="2047" fill="#c9de9d"/><rect x="1243" y="2047" fill="#cee19c"/><rect x="1259" y="2047" fill="#d2e39b"/><rect x="1275" y="2047" fill="#d5e59b"/><rect x="1291" y="2047" fill="#d7e69a"/><rect x="971" y="2063" fill="#6183b3"/><rect x="987" y="2063" fill="#6284b3"/><rect x="1003" y="2063" fill="#6286b3"/><rect x="1019" y="2063" fill="#6488b3"/><rect x="1035" y="2063" fill="#668cb3"/><rect x="1051" y="2063" fill="#6892b3"/><rect x="1067" y="2063" fill="#6b98b3"/><rect x="1083" y="2063" fill="#6f9eb2"/><rect x="1099" y="2063" fill="#72a3b1"/><rect x="1115" y="2063" fill="#76a8b0"/><rect x="1131" y="2063" fill="#7caeae"/><rect x="1147" y="2063" fill="#84b4ac"/><rect x="1163" y="2063" fill="#93bea9"/><rect x="1179" y="2063" fill="#a8caa4"/><rect x="1195" y="2063" fill="#bed59f"/><rect x="1211" y="2063" fill="#cbdc9c"/><rect x="1227" y="2063" fill="#d2e09a"/><rect x="1243" y="2063" fill="#d5e29a"/><rect x="1259" y="2063" fill="#d7e49a"/><rect x="1275" y="2063" fill="#d9e59a"/><rect x="1291" y="2063" fill="#d9e69a"/><rect x="971" y="2079" fill="#6283b3"/><rect x="987" y="2079" fill="#6386b3"/><rect x="1003" y="2079" fill="#6489b3"/><rect x="1019" y="2079" fill="#678eb3"/><rect x="1035" y="2079" fill="#6993b3"/><rect x="1051" y="2079" fill="#6d98b3"/><rect x="1067" y="2079" fill="#709eb2"/><rect x="1083" y="2079" fill="#74a3b2"/><rect x="1099" y="2079" fill="#78a9b0"/><rect x="1115" y="2079" fill="#7eafaf"/><rect x="1131" y="2079" fill="#85b5ad"/><rect x="1147" y="2079" fill="#8fbcaa"/><rect x="1163" y="2079" fill="#9dc3a7"/><rect x="1179" y="2079" fill="#b2cda1"/><rect x="1195" y="2079" fill="#c8d69c"/><rect x="1211" y="2079" fill="#d5dc99"/><rect x="1227" y="2079" fill="#dadf98"/><rect x="1243" y="2079" fill="#dbe298"/><rect x="1259" y="2079" fill="#dce398"/><rect x="1275" y="2079" fill="#dce598"/><rect x="1291" y="2079" fill="#dbe699"/><rect x="955" y="2095" fill="#617cb2"/><rect x="971" y="2095" fill="#6282b2"/><rect x="987" y="2095" fill="#6487b2"/><rect x="1003" y="2095" fill="#668cb3"/><rect x="1019" y="2095" fill="#6991b3"/><rect x="1035" y="2095" fill="#6c98b3"/><rect x="1051" y="2095" fill="#709db3"/><rect x="1067" y="2095" fill="#73a2b2"/><rect x="1083" y="2095" fill="#77a7b1"/><rect x="1099" y="2095" fill="#7dadb0"/><rect x="1115" y="2095" fill="#85b4ad"/><rect x="1131" y="2095" fill="#8fbcab"/><rect x="1147" y="2095" fill="#99c2a8"/><rect x="1163" y="2095" fill="#a7c8a4"/><rect x="1179" y="2095" fill="#bbcf9f"/><rect x="1195" y="2095" fill="#cfd599"/><rect x="1211" y="2095" fill="#dbda96"/><rect x="1227" y="2095" fill="#dfde96"/><rect x="1243" y="2095" fill="#e0e096"/><rect x="1259" y="2095" fill="#dfe297"/><rect x="1275" y="2095" fill="#dee397"/><rect x="1291" y="2095" fill="#dee598"/><rect x="907" y="2111" fill="#5d6db2"/><rect x="923" y="2111" fill="#5d6fb2"/><rect x="939" y="2111" fill="#5f73b2"/><rect x="955" y="2111" fill="#607ab2"/><rect x="971" y="2111" fill="#6281b2"/><rect x="987" y="2111" fill="#6487b2"/><rect x="1003" y="2111" fill="#678db2"/><rect x="1019" y="2111" fill="#6a94b2"/><rect x="1035" y="2111" fill="#6e9bb2"/><rect x="1051" y="2111" fill="#71a0b2"/><rect x="1067" y="2111" fill="#74a4b2"/><rect x="1083" y="2111" fill="#79a9b1"/><rect x="1099" y="2111" fill="#81b0af"/><rect x="1115" y="2111" fill="#8cb9ac"/><rect x="1131" y="2111" fill="#97c0a9"/><rect x="1147" y="2111" fill="#a2c6a6"/><rect x="1163" y="2111" fill="#b1caa1"/><rect x="1179" y="2111" fill="#c3ce9b"/><rect x="1195" y="2111" fill="#d5d396"/><rect x="1211" y="2111" fill="#dfd894"/><rect x="1227" y="2111" fill="#e3db94"/><rect x="1243" y="2111" fill="#e3dd94"/><rect x="1259" y="2111" fill="#e2df95"/><rect x="1275" y="2111" fill="#e1e196"/><rect x="1291" y="2111" fill="#e0e397"/><rect x="891" y="2127" fill="#5c6bb1"/><rect x="907" y="2127" fill="#5c6cb1"/><rect x="923" y="2127" fill="#5d6eb2"/><rect x="939" y="2127" fill="#5e72b2"/><rect x="955" y="2127" fill="#6078b2"/><rect x="971" y="2127" fill="#6280b2"/><rect x="987" y="2127" fill="#6587b2"/><rect x="1003" y="2127" fill="#688fb2"/><rect x="1019" y="2127" fill="#6b96b2"/><rect x="1035" y="2127" fill="#6f9db1"/><rect x="1051" y="2127" fill="#72a2b1"/><rect x="1067" y="2127" fill="#75a6b1"/><rect x="1083" y="2127" fill="#7aabb0"/><rect x="1099" y="2127" fill="#83b2ae"/><rect x="1115" y="2127" fill="#91bbab"/><rect x="1131" y="2127" fill="#9fc3a7"/><rect x="1147" y="2127" fill="#adc8a2"/><rect x="1163" y="2127" fill="#bccb9d"/><rect x="1179" y="2127" fill="#cccd97"/><rect x="1195" y="2127" fill="#dbd093"/><rect x="1211" y="2127" fill="#e3d491"/><rect x="1227" y="2127" fill="#e6d791"/><rect x="1243" y="2127" fill="#e6da92"/><rect x="1259" y="2127" fill="#e5dd93"/><rect x="1275" y="2127" fill="#e3df95"/><rect x="1291" y="2127" fill="#e2e196"/><rect x="875" y="2143" fill="#5b69b1"/><rect x="891" y="2143" fill="#5b6ab1"/><rect x="907" y="2143" fill="#5c6bb1"/><rect x="923" y="2143" fill="#5c6db1"/><rect x="939" y="2143" fill="#5e71b2"/><rect x="955" y="2143" fill="#5f77b2"/><rect x="971" y="2143" fill="#6280b2"/><rect x="987" y="2143" fill="#6588b2"/><rect x="1003" y="2143" fill="#6991b1"/><rect x="1019" y="2143" fill="#6d99b1"/><rect x="1035" y="2143" fill="#70a0b1"/><rect x="1051" y="2143" fill="#73a5b1"/><rect x="1067" y="2143" fill="#76a9b0"/><rect x="1083" y="2143" fill="#7badaf"/><rect x="1099" y="2143" fill="#86b4ad"/><rect x="1115" y="2143" fill="#96bda8"/><rect x="1131" y="2143" fill="#a9c4a3"/><rect x="1147" y="2143" fill="#bac89d"/><rect x="1163" y="2143" fill="#c9ca97"/><rect x="1179" y="2143" fill="#d7cb92"/><rect x="1195" y="2143" fill="#e1cd8f"/><rect x="1211" y="2143" fill="#e7d08e"/><rect x="1227" y="2143" fill="#e9d38f"/><rect x="1243" y="2143" fill="#e8d690"/><rect x="1259" y="2143" fill="#e7d991"/><rect x="1275" y="2143" fill="#e6dc93"/><rect x="875" y="2159" fill="#5a68b0"/><rect x="891" y="2159" fill="#5a69b1"/><rect x="907" y="2159" fill="#5b6ab1"/><rect x="923" y="2159" fill="#5c6cb1"/><rect x="939" y="2159" fill="#5d70b1"/><rect x="955" y="2159" fill="#5f77b2"/><rect x="971" y="2159" fill="#6281b2"/><rect x="987" y="2159" fill="#668bb2"/><rect x="1003" y="2159" fill="#6a94b1"/><rect x="1019" y="2159" fill="#6f9db1"/><rect x="1035" y="2159" fill="#73a4b1"/><rect x="1051" y="2159" fill="#76a9b0"/><rect x="1067" y="2159" fill="#79acb0"/><rect x="1083" y="2159" fill="#7fb0ae"/><rect x="1099" y="2159" fill="#8ab6ab"/><rect x="1115" y="2159" fill="#9fbea5"/><rect x="1131" y="2159" fill="#b6c59e"/><rect x="1147" y="2159" fill="#c9c897"/><rect x="1163" y="2159" fill="#d7c891"/><rect x="1179" y="2159" fill="#e1c98d"/><rect x="1195" y="2159" fill="#e7ca8b"/><rect x="1211" y="2159" fill="#eacc8b"/><rect x="1227" y="2159" fill="#ebce8b"/><rect x="1243" y="2159" fill="#ebd28d"/><rect x="1259" y="2159" fill="#ead58f"/><rect x="859" y="2175" fill="#5867af"/><rect x="875" y="2175" fill="#5967b0"/><rect x="891" y="2175" fill="#5968b0"/><rect x="907" y="2175" fill="#5a6ab0"/><rect x="923" y="2175" fill="#5b6cb1"/><rect x="939" y="2175" fill="#5c71b1"/><rect x="955" y="2175" fill="#5f78b1"/><rect x="971" y="2175" fill="#6283b2"/><rect x="987" y="2175" fill="#678db2"/><rect x="1003" y="2175" fill="#6c97b1"/><rect x="1019" y="2175" fill="#71a0b1"/><rect x="1035" y="2175" fill="#75a8b0"/><rect x="1051" y="2175" fill="#79adb0"/><rect x="1067" y="2175" fill="#7db1af"/><rect x="1083" y="2175" fill="#84b5ad"/><rect x="1099" y="2175" fill="#92bba9"/><rect x="1115" y="2175" fill="#a9c1a2"/><rect x="1131" y="2175" fill="#c1c699"/><rect x="1147" y="2175" fill="#d3c893"/><rect x="1163" y="2175" fill="#dfc88e"/><rect x="1179" y="2175" fill="#e6c78b"/><rect x="1195" y="2175" fill="#eac889"/><rect x="1211" y="2175" fill="#edc989"/><rect x="1227" y="2175" fill="#edca89"/><rect x="1243" y="2175" fill="#edcd8a"/><rect x="859" y="2191" fill="#5766af"/><rect x="875" y="2191" fill="#5867af"/><rect x="891" y="2191" fill="#5868b0"/><rect x="907" y="2191" fill="#5969b0"/><rect x="923" y="2191" fill="#5a6db0"/><rect x="939" y="2191" fill="#5c73b1"/><rect x="955" y="2191" fill="#5f7cb1"/><rect x="971" y="2191" fill="#6286b2"/><rect x="987" y="2191" fill="#668fb2"/><rect x="1003" y="2191" fill="#6b99b1"/><rect x="1019" y="2191" fill="#72a2b1"/><rect x="1035" y="2191" fill="#77aab0"/><rect x="1051" y="2191" fill="#7db0af"/><rect x="1067" y="2191" fill="#83b5ae"/><rect x="1083" y="2191" fill="#8cbbab"/><rect x="1099" y="2191" fill="#9bc0a6"/><rect x="1115" y="2191" fill="#afc59f"/><rect x="1131" y="2191" fill="#c5c798"/><rect x="1147" y="2191" fill="#d5c892"/><rect x="1163" y="2191" fill="#e0c88d"/><rect x="1179" y="2191" fill="#e7c78b"/><rect x="1195" y="2191" fill="#ebc789"/><rect x="1211" y="2191" fill="#edc788"/><rect x="1227" y="2191" fill="#eec888"/><rect x="859" y="2207" fill="#5665ae"/><rect x="875" y="2207" fill="#5766af"/><rect x="891" y="2207" fill="#5767af"/><rect x="907" y="2207" fill="#596ab0"/><rect x="923" y="2207" fill="#5a6fb0"/><rect x="939" y="2207" fill="#5c76b1"/><rect x="955" y="2207" fill="#5f7fb1"/><rect x="971" y="2207" fill="#6287b2"/><rect x="987" y="2207" fill="#658fb2"/><rect x="1003" y="2207" fill="#6a97b1"/><rect x="1019" y="2207" fill="#70a1b1"/><rect x="1035" y="2207" fill="#78aab0"/><rect x="1051" y="2207" fill="#7fb3af"/><rect x="1067" y="2207" fill="#88b9ac"/><rect x="1083" y="2207" fill="#92bfa9"/><rect x="1099" y="2207" fill="#a1c4a5"/><rect x="1115" y="2207" fill="#b2c79f"/><rect x="1131" y="2207" fill="#c4c898"/><rect x="1147" y="2207" fill="#d3c893"/><rect x="1163" y="2207" fill="#dec88f"/><rect x="1179" y="2207" fill="#e5c88c"/><rect x="1195" y="2207" fill="#e9c78a"/><rect x="1211" y="2207" fill="#ecc788"/><rect x="1227" y="2207" fill="#eec788"/><rect x="859" y="2223" fill="#5564ae"/><rect x="875" y="2223" fill="#5665ae"/><rect x="891" y="2223" fill="#5767af"/><rect x="907" y="2223" fill="#586baf"/><rect x="923" y="2223" fill="#5a71b0"/><rect x="939" y="2223" fill="#5c79b1"/><rect x="955" y="2223" fill="#5f80b2"/><rect x="971" y="2223" fill="#6187b2"/><rect x="987" y="2223" fill="#648db2"/><rect x="1003" y="2223" fill="#6894b1"/><rect x="1019" y="2223" fill="#6e9db1"/><rect x="1035" y="2223" fill="#77a9b0"/><rect x="1051" y="2223" fill="#82b4ae"/><rect x="1067" y="2223" fill="#8cbdab"/><rect x="1083" y="2223" fill="#97c3a8"/><rect x="1099" y="2223" fill="#a4c6a4"/><rect x="1115" y="2223" fill="#b3c89f"/><rect x="1131" y="2223" fill="#c2c999"/><rect x="1147" y="2223" fill="#d0c994"/><rect x="1163" y="2223" fill="#dbc990"/><rect x="1179" y="2223" fill="#e2c88d"/><rect x="1195" y="2223" fill="#e7c88b"/><rect x="1211" y="2223" fill="#eac78a"/><rect x="859" y="2239" fill="#5564ae"/><rect x="875" y="2239" fill="#5565ae"/><rect x="891" y="2239" fill="#5668ae"/><rect x="907" y="2239" fill="#586daf"/><rect x="923" y="2239" fill="#5a74b0"/><rect x="939" y="2239" fill="#5d7bb1"/><rect x="955" y="2239" fill="#5e81b2"/><rect x="971" y="2239" fill="#6086b2"/><rect x="987" y="2239" fill="#628ab2"/><rect x="1003" y="2239" fill="#6691b2"/><rect x="1019" y="2239" fill="#6c9ab1"/><rect x="1035" y="2239" fill="#76a7af"/><rect x="1051" y="2239" fill="#83b5ad"/><rect x="1067" y="2239" fill="#8fbfaa"/><rect x="1083" y="2239" fill="#9ac5a7"/><rect x="1099" y="2239" fill="#a5c8a3"/><rect x="1115" y="2239" fill="#b2c99f"/><rect x="1131" y="2239" fill="#c0c99a"/><rect x="1147" y="2239" fill="#cdc996"/><rect x="1163" y="2239" fill="#d7c992"/><rect x="1179" y="2239" fill="#dfc98f"/><rect x="859" y="2255" fill="#5564ad"/><rect x="875" y="2255" fill="#5566ae"/><rect x="891" y="2255" fill="#5669ae"/><rect x="907" y="2255" fill="#586faf"/><rect x="923" y="2255" fill="#5b76b0"/><rect x="939" y="2255" fill="#5d7cb1"/><rect x="955" y="2255" fill="#5e80b2"/><rect x="971" y="2255" fill="#5f84b2"/><rect x="987" y="2255" fill="#6188b2"/><rect x="1003" y="2255" fill="#648db2"/><rect x="1019" y="2255" fill="#6a96b1"/><rect x="1035" y="2255" fill="#75a4af"/><rect x="1051" y="2255" fill="#85b5ac"/><rect x="1067" y="2255" fill="#92c1a9"/><rect x="1083" y="2255" fill="#9cc7a6"/><rect x="1099" y="2255" fill="#a6c9a3"/><rect x="1115" y="2255" fill="#b1ca9f"/><rect x="1131" y="2255" fill="#beca9b"/><rect x="1147" y="2255" fill="#caca97"/><rect x="1163" y="2255" fill="#d5c993"/><rect x="859" y="2271" fill="#5564ad"/><rect x="875" y="2271" fill="#5566ae"/><rect x="891" y="2271" fill="#576aae"/><rect x="907" y="2271" fill="#5970b0"/><rect x="923" y="2271" fill="#5b77b1"/><rect x="939" y="2271" fill="#5d7cb1"/><rect x="955" y="2271" fill="#5e7fb2"/><rect x="971" y="2271" fill="#5f82b2"/><rect x="987" y="2271" fill="#6086b2"/><rect x="1003" y="2271" fill="#628ab2"/><rect x="1019" y="2271" fill="#6893b1"/><rect x="1035" y="2271" fill="#74a2af"/><rect x="1051" y="2271" fill="#86b5ac"/><rect x="1067" y="2271" fill="#94c2a8"/><rect x="1083" y="2271" fill="#9dc8a6"/><rect x="1099" y="2271" fill="#a5c9a3"/><rect x="891" y="2287" fill="#576caf"/><rect x="907" y="2287" fill="#5972b0"/><rect x="923" y="2287" fill="#5b78b1"/><rect x="939" y="2287" fill="#5d7cb2"/><rect x="955" y="2287" fill="#5e7fb2"/><rect x="971" y="2287" fill="#5e81b2"/><rect x="987" y="2287" fill="#5f84b2"/><rect x="1003" y="2287" fill="#6188b2"/><rect x="1019" y="2287" fill="#668fb1"/></g></g></g><g id="bC3" mask="url(#mC3)"><g filter="url(#texB)"><g filter="url(#fC3)" class="c16"><rect x="1697" y="1957" fill="#c2e09d"/><rect x="1713" y="1957" fill="#c8e19c"/><rect x="1729" y="1957" fill="#d0e29b"/><rect x="1745" y="1957" fill="#d8e39a"/><rect x="1761" y="1957" fill="#e0e299"/><rect x="1777" y="1957" fill="#e7e097"/><rect x="1793" y="1957" fill="#ecdc94"/><rect x="1809" y="1957" fill="#f0d892"/><rect x="1825" y="1957" fill="#f2d38f"/><rect x="1841" y="1957" fill="#f4ce8c"/><rect x="1681" y="1973" fill="#bbde9e"/><rect x="1697" y="1973" fill="#c0df9d"/><rect x="1713" y="1973" fill="#c7e19c"/><rect x="1729" y="1973" fill="#cfe29b"/><rect x="1745" y="1973" fill="#d8e29a"/><rect x="1761" y="1973" fill="#e0e298"/><rect x="1777" y="1973" fill="#e7df96"/><rect x="1793" y="1973" fill="#eddb94"/><rect x="1809" y="1973" fill="#f0d691"/><rect x="1825" y="1973" fill="#f3d18e"/><rect x="1841" y="1973" fill="#f4cc8a"/><rect x="1857" y="1973" fill="#f4c888"/><rect x="1873" y="1973" fill="#f5c485"/><rect x="1665" y="1989" fill="#b5dc9f"/><rect x="1681" y="1989" fill="#b9dd9e"/><rect x="1697" y="1989" fill="#bedf9e"/><rect x="1713" y="1989" fill="#c5e09c"/><rect x="1729" y="1989" fill="#cee19b"/><rect x="1745" y="1989" fill="#d7e29a"/><rect x="1761" y="1989" fill="#e0e198"/><rect x="1777" y="1989" fill="#e8de96"/><rect x="1793" y="1989" fill="#edda93"/><rect x="1809" y="1989" fill="#f1d490"/><rect x="1825" y="1989" fill="#f3cf8c"/><rect x="1841" y="1989" fill="#f4ca89"/><rect x="1857" y="1989" fill="#f5c586"/><rect x="1873" y="1989" fill="#f5c183"/><rect x="1889" y="1989" fill="#f5be81"/><rect x="1649" y="2005" fill="#afdaa1"/><rect x="1665" y="2005" fill="#b2dba0"/><rect x="1681" y="2005" fill="#b6dc9f"/><rect x="1697" y="2005" fill="#bcde9e"/><rect x="1713" y="2005" fill="#c3df9d"/><rect x="1729" y="2005" fill="#cde19b"/><rect x="1745" y="2005" fill="#d7e199"/><rect x="1761" y="2005" fill="#e1e097"/><rect x="1777" y="2005" fill="#e9dd95"/><rect x="1793" y="2005" fill="#eed892"/><rect x="1809" y="2005" fill="#f2d28e"/><rect x="1825" y="2005" fill="#f3cd8b"/><rect x="1841" y="2005" fill="#f4c787"/><rect x="1857" y="2005" fill="#f5c384"/><rect x="1873" y="2005" fill="#f5bf81"/><rect x="1889" y="2005" fill="#f5bb7f"/><rect x="1905" y="2005" fill="#f4b77c"/><rect x="1649" y="2021" fill="#abd9a2"/><rect x="1665" y="2021" fill="#aedaa1"/><rect x="1681" y="2021" fill="#b3dba0"/><rect x="1697" y="2021" fill="#b9dd9f"/><rect x="1713" y="2021" fill="#c1de9d"/><rect x="1729" y="2021" fill="#cddf9b"/><rect x="1745" y="2021" fill="#d9df99"/><rect x="1761" y="2021" fill="#e3de96"/><rect x="1777" y="2021" fill="#ebda94"/><rect x="1793" y="2021" fill="#efd590"/><rect x="1809" y="2021" fill="#f2d08d"/><rect x="1825" y="2021" fill="#f4ca89"/><rect x="1841" y="2021" fill="#f4c485"/><rect x="1857" y="2021" fill="#f5c082"/><rect x="1873" y="2021" fill="#f5bb7f"/><rect x="1889" y="2021" fill="#f4b87c"/><rect x="1905" y="2021" fill="#f4b57a"/><rect x="1921" y="2021" fill="#f4b278"/><rect x="1649" y="2037" fill="#a8d8a3"/><rect x="1665" y="2037" fill="#acd9a2"/><rect x="1681" y="2037" fill="#b0daa1"/><rect x="1697" y="2037" fill="#b7dca0"/><rect x="1713" y="2037" fill="#c1de9e"/><rect x="1729" y="2037" fill="#cede9b"/><rect x="1745" y="2037" fill="#dcdd98"/><rect x="1761" y="2037" fill="#e6db95"/><rect x="1777" y="2037" fill="#edd792"/><rect x="1793" y="2037" fill="#f1d28f"/><rect x="1809" y="2037" fill="#f3cd8b"/><rect x="1825" y="2037" fill="#f4c787"/><rect x="1841" y="2037" fill="#f4c183"/><rect x="1857" y="2037" fill="#f4bc80"/><rect x="1873" y="2037" fill="#f4b87d"/><rect x="1889" y="2037" fill="#f4b57a"/><rect x="1905" y="2037" fill="#f4b278"/><rect x="1921" y="2037" fill="#f4b077"/><rect x="1937" y="2037" fill="#f4ae76"/><rect x="1633" y="2053" fill="#a2d5a4"/><rect x="1649" y="2053" fill="#a6d6a4"/><rect x="1665" y="2053" fill="#abd8a3"/><rect x="1681" y="2053" fill="#b1daa1"/><rect x="1697" y="2053" fill="#b9dca0"/><rect x="1713" y="2053" fill="#c4de9d"/><rect x="1729" y="2053" fill="#d2de9a"/><rect x="1745" y="2053" fill="#dfdc97"/><rect x="1761" y="2053" fill="#e9d993"/><rect x="1777" y="2053" fill="#efd590"/><rect x="1793" y="2053" fill="#f2d08d"/><rect x="1809" y="2053" fill="#f3ca89"/><rect x="1825" y="2053" fill="#f4c485"/><rect x="1841" y="2053" fill="#f4be81"/><rect x="1857" y="2053" fill="#f4ba7e"/><rect x="1873" y="2053" fill="#f4b57b"/><rect x="1889" y="2053" fill="#f4b279"/><rect x="1905" y="2053" fill="#f4b077"/><rect x="1921" y="2053" fill="#f4ae76"/><rect x="1937" y="2053" fill="#f4ad75"/><rect x="1953" y="2053" fill="#f4ac75"/><rect x="1633" y="2069" fill="#9ed2a4"/><rect x="1649" y="2069" fill="#a4d5a4"/><rect x="1665" y="2069" fill="#aad8a3"/><rect x="1681" y="2069" fill="#b2dba1"/><rect x="1697" y="2069" fill="#bcdd9f"/><rect x="1713" y="2069" fill="#c8df9c"/><rect x="1729" y="2069" fill="#d5de99"/><rect x="1745" y="2069" fill="#e1dc96"/><rect x="1761" y="2069" fill="#ead792"/><rect x="1777" y="2069" fill="#efd28f"/><rect x="1793" y="2069" fill="#f2cd8b"/><rect x="1809" y="2069" fill="#f3c787"/><rect x="1825" y="2069" fill="#f4c183"/><rect x="1841" y="2069" fill="#f4bc80"/><rect x="1857" y="2069" fill="#f4b77c"/><rect x="1873" y="2069" fill="#f4b379"/><rect x="1889" y="2069" fill="#f4b077"/><rect x="1905" y="2069" fill="#f4ad76"/><rect x="1921" y="2069" fill="#f4ac75"/><rect x="1937" y="2069" fill="#f4ab75"/><rect x="1953" y="2069" fill="#f4ab74"/><rect x="1633" y="2085" fill="#98cfa4"/><rect x="1649" y="2085" fill="#a0d3a4"/><rect x="1665" y="2085" fill="#a9d7a2"/><rect x="1681" y="2085" fill="#b3dba1"/><rect x="1697" y="2085" fill="#bede9e"/><rect x="1713" y="2085" fill="#cae09c"/><rect x="1729" y="2085" fill="#d7df98"/><rect x="1745" y="2085" fill="#e2db95"/><rect x="1761" y="2085" fill="#ebd691"/><rect x="1777" y="2085" fill="#f0d08d"/><rect x="1793" y="2085" fill="#f2ca89"/><rect x="1809" y="2085" fill="#f3c485"/><rect x="1825" y="2085" fill="#f4bf82"/><rect x="1841" y="2085" fill="#f4ba7e"/><rect x="1857" y="2085" fill="#f4b57b"/><rect x="1873" y="2085" fill="#f4b178"/><rect x="1889" y="2085" fill="#f4ad76"/><rect x="1905" y="2085" fill="#f4ab75"/><rect x="1921" y="2085" fill="#f4aa74"/><rect x="1937" y="2085" fill="#f4aa74"/><rect x="1953" y="2085" fill="#f4a974"/><rect x="1617" y="2101" fill="#84c3a6"/><rect x="1633" y="2101" fill="#91cba5"/><rect x="1649" y="2101" fill="#9cd1a4"/><rect x="1665" y="2101" fill="#a6d5a2"/><rect x="1681" y="2101" fill="#b2daa1"/><rect x="1697" y="2101" fill="#bede9e"/><rect x="1713" y="2101" fill="#cbe09b"/><rect x="1729" y="2101" fill="#d7df98"/><rect x="1745" y="2101" fill="#e2da94"/><rect x="1761" y="2101" fill="#ebd38f"/><rect x="1777" y="2101" fill="#f0cc8b"/><rect x="1793" y="2101" fill="#f2c687"/><rect x="1809" y="2101" fill="#f3c284"/><rect x="1825" y="2101" fill="#f4bd80"/><rect x="1841" y="2101" fill="#f4b87d"/><rect x="1857" y="2101" fill="#f4b27a"/><rect x="1873" y="2101" fill="#f3ad76"/><rect x="1889" y="2101" fill="#f3aa74"/><rect x="1905" y="2101" fill="#f3a874"/><rect x="1921" y="2101" fill="#f4a873"/><rect x="1937" y="2101" fill="#f4a873"/><rect x="1953" y="2101" fill="#f4a873"/><rect x="1569" y="2117" fill="#60aca8"/><rect x="1585" y="2117" fill="#66b0a7"/><rect x="1601" y="2117" fill="#70b6a7"/><rect x="1617" y="2117" fill="#7dbea6"/><rect x="1633" y="2117" fill="#8bc7a5"/><rect x="1649" y="2117" fill="#97cea4"/><rect x="1665" y="2117" fill="#a3d4a3"/><rect x="1681" y="2117" fill="#b0d9a1"/><rect x="1697" y="2117" fill="#bddd9e"/><rect x="1713" y="2117" fill="#cbdf9b"/><rect x="1729" y="2117" fill="#d7dd97"/><rect x="1745" y="2117" fill="#e3d792"/><rect x="1761" y="2117" fill="#ebce8c"/><rect x="1777" y="2117" fill="#f0c788"/><rect x="1793" y="2117" fill="#f3c284"/><rect x="1809" y="2117" fill="#f3be82"/><rect x="1825" y="2117" fill="#f4b97e"/><rect x="1841" y="2117" fill="#f3b47b"/><rect x="1857" y="2117" fill="#f3ae77"/><rect x="1873" y="2117" fill="#f3a874"/><rect x="1889" y="2117" fill="#f3a672"/><rect x="1905" y="2117" fill="#f3a572"/><rect x="1921" y="2117" fill="#f3a572"/><rect x="1937" y="2117" fill="#f3a672"/><rect x="1953" y="2117" fill="#f4a673"/><rect x="1553" y="2133" fill="#5ba8a9"/><rect x="1569" y="2133" fill="#5faaa8"/><rect x="1585" y="2133" fill="#64aea8"/><rect x="1601" y="2133" fill="#6db4a7"/><rect x="1617" y="2133" fill="#79bca6"/><rect x="1633" y="2133" fill="#87c4a5"/><rect x="1649" y="2133" fill="#94cca4"/><rect x="1665" y="2133" fill="#a1d2a3"/><rect x="1681" y="2133" fill="#aed8a1"/><rect x="1697" y="2133" fill="#bcdd9e"/><rect x="1713" y="2133" fill="#cade9b"/><rect x="1729" y="2133" fill="#d7db96"/><rect x="1745" y="2133" fill="#e3d390"/><rect x="1761" y="2133" fill="#ecca8a"/><rect x="1777" y="2133" fill="#f0c385"/><rect x="1793" y="2133" fill="#f3be82"/><rect x="1809" y="2133" fill="#f3ba7f"/><rect x="1825" y="2133" fill="#f3b47b"/><rect x="1841" y="2133" fill="#f3ae77"/><rect x="1857" y="2133" fill="#f3a774"/><rect x="1873" y="2133" fill="#f3a371"/><rect x="1889" y="2133" fill="#f3a170"/><rect x="1905" y="2133" fill="#f3a170"/><rect x="1921" y="2133" fill="#f3a271"/><rect x="1937" y="2133" fill="#f3a371"/><rect x="1537" y="2149" fill="#59a7aa"/><rect x="1553" y="2149" fill="#5ba8a9"/><rect x="1569" y="2149" fill="#5eaaa9"/><rect x="1585" y="2149" fill="#63aea8"/><rect x="1601" y="2149" fill="#6cb3a7"/><rect x="1617" y="2149" fill="#79bba6"/><rect x="1633" y="2149" fill="#87c4a5"/><rect x="1649" y="2149" fill="#95cca4"/><rect x="1665" y="2149" fill="#a2d3a2"/><rect x="1681" y="2149" fill="#afd9a0"/><rect x="1697" y="2149" fill="#bddd9e"/><rect x="1713" y="2149" fill="#cade9b"/><rect x="1729" y="2149" fill="#d5db96"/><rect x="1745" y="2149" fill="#e1d28f"/><rect x="1761" y="2149" fill="#eac889"/><rect x="1777" y="2149" fill="#f0c083"/><rect x="1793" y="2149" fill="#f2ba7f"/><rect x="1809" y="2149" fill="#f3b47b"/><rect x="1825" y="2149" fill="#f3ad77"/><rect x="1841" y="2149" fill="#f3a673"/><rect x="1857" y="2149" fill="#f2a06f"/><rect x="1873" y="2149" fill="#f29e6e"/><rect x="1889" y="2149" fill="#f29d6e"/><rect x="1905" y="2149" fill="#f29e6e"/><rect x="1921" y="2149" fill="#f29f6f"/><rect x="1937" y="2149" fill="#f3a070"/><rect x="1537" y="2165" fill="#5ba8aa"/><rect x="1553" y="2165" fill="#5ca9a9"/><rect x="1569" y="2165" fill="#5faba9"/><rect x="1585" y="2165" fill="#65afa8"/><rect x="1601" y="2165" fill="#6fb5a7"/><rect x="1617" y="2165" fill="#7dbea6"/><rect x="1633" y="2165" fill="#8bc7a5"/><rect x="1649" y="2165" fill="#99cea3"/><rect x="1665" y="2165" fill="#a6d5a2"/><rect x="1681" y="2165" fill="#b3daa0"/><rect x="1697" y="2165" fill="#c0de9e"/><rect x="1713" y="2165" fill="#cae09b"/><rect x="1729" y="2165" fill="#d3dd97"/><rect x="1745" y="2165" fill="#ddd591"/><rect x="1761" y="2165" fill="#e7c989"/><rect x="1777" y="2165" fill="#eebf82"/><rect x="1793" y="2165" fill="#f1b67c"/><rect x="1809" y="2165" fill="#f2ad77"/><rect x="1825" y="2165" fill="#f2a572"/><rect x="1841" y="2165" fill="#f29e6e"/><rect x="1857" y="2165" fill="#f29a6b"/><rect x="1873" y="2165" fill="#f2996b"/><rect x="1889" y="2165" fill="#f29a6b"/><rect x="1905" y="2165" fill="#f29b6c"/><rect x="1921" y="2165" fill="#f29c6e"/><rect x="1521" y="2181" fill="#5faca9"/><rect x="1537" y="2181" fill="#5faba9"/><rect x="1553" y="2181" fill="#60aca9"/><rect x="1569" y="2181" fill="#64aea9"/><rect x="1585" y="2181" fill="#6bb3a8"/><rect x="1601" y="2181" fill="#76b9a7"/><rect x="1617" y="2181" fill="#83c2a6"/><rect x="1633" y="2181" fill="#91caa4"/><rect x="1649" y="2181" fill="#9ed1a3"/><rect x="1665" y="2181" fill="#aad7a1"/><rect x="1681" y="2181" fill="#b7dc9f"/><rect x="1697" y="2181" fill="#c3e09d"/><rect x="1713" y="2181" fill="#cbe19b"/><rect x="1729" y="2181" fill="#d3df99"/><rect x="1745" y="2181" fill="#dad994"/><rect x="1761" y="2181" fill="#e3cd8b"/><rect x="1777" y="2181" fill="#ebbf82"/><rect x="1793" y="2181" fill="#f0b279"/><rect x="1809" y="2181" fill="#f1a772"/><rect x="1825" y="2181" fill="#f29f6d"/><rect x="1841" y="2181" fill="#f2996a"/><rect x="1857" y="2181" fill="#f29668"/><rect x="1873" y="2181" fill="#f29568"/><rect x="1889" y="2181" fill="#f29669"/><rect x="1905" y="2181" fill="#f2986a"/><rect x="1521" y="2197" fill="#67b1a8"/><rect x="1537" y="2197" fill="#66b1a8"/><rect x="1553" y="2197" fill="#68b2a8"/><rect x="1569" y="2197" fill="#6cb4a8"/><rect x="1585" y="2197" fill="#73b9a8"/><rect x="1601" y="2197" fill="#7dbfa7"/><rect x="1617" y="2197" fill="#8ac7a5"/><rect x="1633" y="2197" fill="#96cea4"/><rect x="1649" y="2197" fill="#a1d3a3"/><rect x="1665" y="2197" fill="#add8a1"/><rect x="1681" y="2197" fill="#badd9f"/><rect x="1697" y="2197" fill="#c5e09d"/><rect x="1713" y="2197" fill="#cee29b"/><rect x="1729" y="2197" fill="#d4e199"/><rect x="1745" y="2197" fill="#dbdb95"/><rect x="1761" y="2197" fill="#e2d08d"/><rect x="1777" y="2197" fill="#e9c082"/><rect x="1793" y="2197" fill="#eeb077"/><rect x="1809" y="2197" fill="#f0a36f"/><rect x="1825" y="2197" fill="#f19b6a"/><rect x="1841" y="2197" fill="#f19768"/><rect x="1857" y="2197" fill="#f19466"/><rect x="1873" y="2197" fill="#f19366"/><rect x="1889" y="2197" fill="#f19467"/><rect x="1521" y="2213" fill="#6eb7a7"/><rect x="1537" y="2213" fill="#6eb7a7"/><rect x="1553" y="2213" fill="#71b8a7"/><rect x="1569" y="2213" fill="#75bba7"/><rect x="1585" y="2213" fill="#7cbfa7"/><rect x="1601" y="2213" fill="#84c5a6"/><rect x="1617" y="2213" fill="#8ecaa5"/><rect x="1633" y="2213" fill="#98d0a4"/><rect x="1649" y="2213" fill="#a2d4a3"/><rect x="1665" y="2213" fill="#aed9a1"/><rect x="1681" y="2213" fill="#bcde9f"/><rect x="1697" y="2213" fill="#c8e19d"/><rect x="1713" y="2213" fill="#d1e29b"/><rect x="1729" y="2213" fill="#d7e199"/><rect x="1745" y="2213" fill="#dddc95"/><rect x="1761" y="2213" fill="#e3d28d"/><rect x="1777" y="2213" fill="#e9c282"/><rect x="1793" y="2213" fill="#edb177"/><rect x="1809" y="2213" fill="#f0a46f"/><rect x="1825" y="2213" fill="#f19b6a"/><rect x="1841" y="2213" fill="#f19667"/><rect x="1857" y="2213" fill="#f19466"/><rect x="1873" y="2213" fill="#f19265"/><rect x="1521" y="2229" fill="#73bba6"/><rect x="1537" y="2229" fill="#74bca6"/><rect x="1553" y="2229" fill="#77bda7"/><rect x="1569" y="2229" fill="#7cc0a7"/><rect x="1585" y="2229" fill="#82c4a7"/><rect x="1601" y="2229" fill="#88c8a6"/><rect x="1617" y="2229" fill="#90cca6"/><rect x="1633" y="2229" fill="#98d0a5"/><rect x="1649" y="2229" fill="#a1d4a3"/><rect x="1665" y="2229" fill="#aed9a1"/><rect x="1681" y="2229" fill="#bede9f"/><rect x="1697" y="2229" fill="#cce29c"/><rect x="1713" y="2229" fill="#d5e39b"/><rect x="1729" y="2229" fill="#dbe298"/><rect x="1745" y="2229" fill="#e0dd95"/><rect x="1761" y="2229" fill="#e4d38d"/><rect x="1777" y="2229" fill="#e9c483"/><rect x="1793" y="2229" fill="#edb378"/><rect x="1809" y="2229" fill="#efa66f"/><rect x="1825" y="2229" fill="#f19d6a"/><rect x="1841" y="2229" fill="#f19867"/><rect x="1857" y="2229" fill="#f19566"/><rect x="1521" y="2245" fill="#75bda6"/><rect x="1537" y="2245" fill="#77bea6"/><rect x="1553" y="2245" fill="#7bc0a6"/><rect x="1569" y="2245" fill="#80c3a6"/><rect x="1585" y="2245" fill="#85c6a7"/><rect x="1601" y="2245" fill="#8acaa6"/><rect x="1617" y="2245" fill="#8fcda6"/><rect x="1633" y="2245" fill="#95cfa5"/><rect x="1649" y="2245" fill="#9fd3a4"/><rect x="1665" y="2245" fill="#add9a1"/><rect x="1681" y="2245" fill="#c1de9e"/><rect x="1697" y="2245" fill="#d0e39c"/><rect x="1713" y="2245" fill="#d9e49a"/><rect x="1729" y="2245" fill="#dee298"/><rect x="1745" y="2245" fill="#e2de94"/><rect x="1761" y="2245" fill="#e5d48e"/><rect x="1777" y="2245" fill="#e9c685"/><rect x="1793" y="2245" fill="#ecb67a"/><rect x="1809" y="2245" fill="#efa871"/><rect x="1825" y="2245" fill="#f09f6b"/><rect x="1841" y="2245" fill="#f19a68"/><rect x="1521" y="2261" fill="#76bea5"/><rect x="1537" y="2261" fill="#79bfa6"/><rect x="1553" y="2261" fill="#7dc1a6"/><rect x="1569" y="2261" fill="#81c5a6"/><rect x="1585" y="2261" fill="#86c8a6"/><rect x="1601" y="2261" fill="#8acaa7"/><rect x="1617" y="2261" fill="#8ecca6"/><rect x="1633" y="2261" fill="#93cfa6"/><rect x="1649" y="2261" fill="#9bd2a5"/><rect x="1665" y="2261" fill="#acd8a2"/><rect x="1681" y="2261" fill="#c4df9e"/><rect x="1697" y="2261" fill="#d5e39b"/><rect x="1713" y="2261" fill="#dde49a"/><rect x="1729" y="2261" fill="#e1e398"/><rect x="1745" y="2261" fill="#e3de95"/><rect x="1761" y="2261" fill="#e6d68f"/><rect x="1777" y="2261" fill="#e9c986"/><rect x="1793" y="2261" fill="#ecb97c"/><rect x="1809" y="2261" fill="#efab73"/><rect x="1825" y="2261" fill="#f0a16c"/><rect x="1521" y="2277" fill="#77bea5"/><rect x="1537" y="2277" fill="#79c0a6"/><rect x="1553" y="2277" fill="#7dc2a6"/><rect x="1569" y="2277" fill="#82c5a6"/><rect x="1585" y="2277" fill="#87c8a6"/><rect x="1601" y="2277" fill="#8acaa7"/><rect x="1617" y="2277" fill="#8dcca7"/><rect x="1633" y="2277" fill="#91cea6"/><rect x="1649" y="2277" fill="#98d0a5"/><rect x="1665" y="2277" fill="#aad7a2"/><rect x="1681" y="2277" fill="#c7df9e"/><rect x="1697" y="2277" fill="#d9e49b"/><rect x="1713" y="2277" fill="#e0e599"/><rect x="1729" y="2277" fill="#e2e398"/><rect x="1745" y="2277" fill="#e4df95"/><rect x="1761" y="2277" fill="#e6d790"/><rect x="1777" y="2277" fill="#e9cb88"/><rect x="1537" y="2293" fill="#7ac0a5"/><rect x="1553" y="2293" fill="#7ec2a6"/><rect x="1569" y="2293" fill="#82c5a6"/><rect x="1585" y="2293" fill="#87c8a6"/><rect x="1601" y="2293" fill="#8acaa7"/><rect x="1617" y="2293" fill="#8dcca7"/><rect x="1633" y="2293" fill="#8fcda6"/></g></g></g>
</svg></body></html>
